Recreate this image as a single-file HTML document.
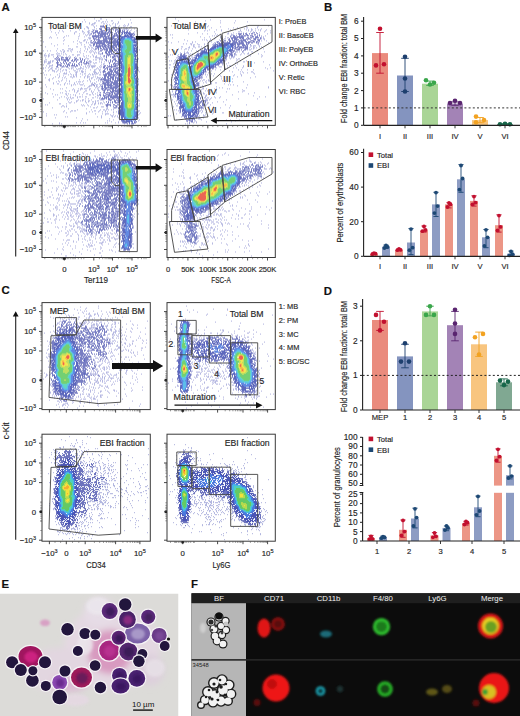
<!DOCTYPE html><html><head><meta charset="utf-8"><style>html,body{margin:0;padding:0;background:#fff;}body{width:520px;height:716px;overflow:hidden;}svg{display:block;font-family:"Liberation Sans", sans-serif;} text{stroke:currentColor;stroke-width:0.16px;}</style></head><body><svg width="520" height="716" viewBox="0 0 520 716" font-family='"Liberation Sans", sans-serif'>
<defs><filter id="b1" x="-50%" y="-50%" width="200%" height="200%"><feGaussianBlur stdDeviation="0.9"/></filter><filter id="b2" x="-50%" y="-50%" width="200%" height="200%"><feGaussianBlur stdDeviation="1.6"/></filter><filter id="b3" x="-50%" y="-50%" width="200%" height="200%"><feGaussianBlur stdDeviation="3"/></filter><filter id="b05" x="-50%" y="-50%" width="200%" height="200%"><feGaussianBlur stdDeviation="0.5"/></filter><filter id="soft" x="-2%" y="-2%" width="104%" height="104%"><feGaussianBlur stdDeviation="0.42"/></filter><clipPath id="cE"><rect x="0" y="593.5" width="178.5" height="122.5"/></clipPath><clipPath id="cF"><rect x="191.5" y="603" width="328.5" height="113"/></clipPath></defs>
<rect width="520" height="716" fill="#fff"/>
<text x="1.6" y="10.8" font-size="11.4" text-anchor="start" font-weight="bold" fill="#111" color="#111" >A</text>
<text x="324" y="10.8" font-size="11.4" text-anchor="start" font-weight="bold" fill="#111" color="#111" >B</text>
<text x="1.5" y="294.3" font-size="11.4" text-anchor="start" font-weight="bold" fill="#111" color="#111" >C</text>
<text x="323.8" y="294.8" font-size="11.4" text-anchor="start" font-weight="bold" fill="#111" color="#111" >D</text>
<text x="1.5" y="588" font-size="11.4" text-anchor="start" font-weight="bold" fill="#111" color="#111" >E</text>
<text x="191" y="588" font-size="11.4" text-anchor="start" font-weight="bold" fill="#111" color="#111" >F</text>
<g transform="translate(42,17.4)" filter="url(#soft)">
<path d="M52 1.5h1m5 0h2m18 0h1M42 2.5h1m21 0h1m23 0h1M54 3.5h1m1 0h2m11 0h2M40 4.5h1m2 0h1m16 0h2m1 0h1m1 0h1m10 0h1M8 5.5h1m38 0h1m4 0h2m5 0h1m11 0h1m4 0h1m12 0h1M47 6.5h1m2 0h3m8 0h2m1 0h1m5 0h1m2 0h1m1 0h1m10 0h1M13 7.5h1m35 0h2m14 0h1m1 0h1m5 0h1m8 0h1m3 0h1M25 8.5h1m25 0h1m2 0h1m3 0h3m7 0h1m4 0h1m3 0h1m3 0h1m1 0h1m1 0h1M44 9.5h2m6 0h1m18 0h3m2 0h1m5 0h1m5 0h2M45 10.5h2m5 0h1m18 0h2m3 0h1m2 0h1m1 0h1m2 0h1m2 0h1M42 11.5h1m3 0h1m7 0h1m23 0h1m3 0h4m6 0h1M8 12.5h1m28 0h1m12 0h3m27 0h3m1 0h1m1 0h1m2 0h1M17 13.5h1m2 0h1m7 0h1m11 0h1m5 0h2m40 0h1m5 0h1M9 14.5h1m11 0h1m11 0h2m5 0h2m3 0h2m2 0h1m42 0h1M13 15.5h1m2 0h1m15 0h1m9 0h1m3 0h2m43 0h1M32 16.5h1m4 0h1m3 0h1m4 0h1m1 0h1m43 0h1M14 17.5h1m28 0h1m1 0h1m1 0h2m46 0h1M24 18.5h1m1 0h1m10 0h1m6 0h1m2 0h1M8 19.5h1m13 0h1m13 0h1m5 0h1M7 20.5h1m1 0h1m5 0h1m5 0h1m24 0h3m45 0h1M36 21.5h1m10 0h2M22 22.5h1m19 0h2m1 0h1m50 0h2M21 23.5h1m13 0h1m5 0h2m5 0h1M1 24.5h1m29 0h1m5 0h1m6 0h1m3 0h1M38 25.5h2m4 0h1m1 0h1m1 0h1m46 0h1M9 26.5h1m11 0h1m13 0h1m59 0h1M15 27.5h1m23 0h1m2 0h1m4 0h2M12 28.5h1m13 0h1m21 0h2M3 29.5h1m30 0h2m6 0h2m2 0h1M47 30.5h1m1 0h2M15 31.5h1m10 0h3m1 0h1m7 0h1m4 0h1m1 0h1m5 0h1M20 32.5h2m7 0h2m14 0h1m3 0h1m2 0h2m43 0h1M1 33.5h1m3 0h1m2 0h1m5 0h1m3 0h1m3 0h1m2 0h2m1 0h1m9 0h1m3 0h1m5 0h1m1 0h1M19 34.5h1m1 0h2m6 0h1m5 0h1m1 0h1m6 0h1m2 0h1m1 0h1m1 0h1m1 0h1m2 0h2M15 35.5h1m5 0h1m16 0h1m9 0h1m3 0h1m1 0h1m1 0h1M3 36.5h1m3 0h1m6 0h1m1 0h2m1 0h1m3 0h1m17 0h1m10 0h1m3 0h4M2 37.5h1m3 0h1m2 0h3m3 0h1m5 0h1m2 0h1m5 0h2m3 0h3m12 0h1m7 0h1M2 38.5h3m1 0h2m7 0h4m8 0h1m7 0h1m5 0h1m2 0h1m1 0h1m4 0h1m2 0h1m6 0h1M6 39.5h1m4 0h1m7 0h2m3 0h1m1 0h1m1 0h1m4 0h1m8 0h1m5 0h1m2 0h1m1 0h2m3 0h1m2 0h2M3 40.5h1m23 0h2m5 0h1m2 0h2m5 0h1m8 0h5m1 0h1M12 41.5h1m30 0h1m1 0h2m10 0h2m1 0h1m1 0h1m33 0h1M3 42.5h2m31 0h1m14 0h1m1 0h2m2 0h1m1 0h2M2 43.5h1m5 0h1m1 0h2m33 0h1m1 0h2m17 0h1M2 44.5h3m1 0h3m1 0h1m35 0h4m7 0h1m1 0h1m2 0h1m3 0h1M2 45.5h1m3 0h3m37 0h1m1 0h1m2 0h1m1 0h2m4 0h1M5 46.5h3m39 0h1m4 0h1m8 0h2M1 47.5h1m8 0h1m37 0h1m10 0h1m1 0h1M4 48.5h1m2 0h4m32 0h1m1 0h3m1 0h5m4 0h1M7 49.5h1m13 0h2m15 0h1m2 0h1m1 0h1m3 0h1m1 0h4m4 0h1m1 0h1M1 50.5h1m1 0h1m2 0h1m2 0h2m5 0h1m2 0h1m6 0h1m2 0h3m6 0h2m4 0h1m1 0h1m3 0h1m4 0h1m2 0h1m37 0h1M1 51.5h1m6 0h2m3 0h2m3 0h1m8 0h1m1 0h1m4 0h1m1 0h3m1 0h2m12 0h1m1 0h1M7 52.5h1m2 0h1m5 0h1m1 0h1m2 0h1m1 0h2m6 0h1m3 0h1m7 0h1m4 0h1m3 0h2m3 0h2m37 0h1M3 53.5h1m2 0h1m3 0h3m2 0h1m4 0h1m3 0h1m7 0h2m3 0h1m1 0h2m11 0h1m4 0h1m38 0h1M12 54.5h1m1 0h1m3 0h1m8 0h1m6 0h2m3 0h3m1 0h1m7 0h3m4 0h1m1 0h1m36 0h1M1 55.5h1m20 0h1m1 0h1m8 0h2m5 0h1m11 0h3m1 0h1m1 0h1M17 56.5h1m3 0h4m3 0h1m5 0h1m3 0h1m3 0h2m3 0h1m2 0h1m1 0h1m1 0h2M2 57.5h1m1 0h1m3 0h1m6 0h1m10 0h1m2 0h1m1 0h1m1 0h2m5 0h1m5 0h1m1 0h1m1 0h2m1 0h1m3 0h2M17 58.5h1m3 0h1m9 0h1m2 0h1m8 0h1m1 0h1M13 59.5h1m3 0h1m5 0h1m4 0h2m1 0h2m1 0h1m3 0h1m3 0h1m2 0h3m3 0h1m1 0h1m1 0h1M3 60.5h1m7 0h1m4 0h1m3 0h1m1 0h1m7 0h1m11 0h1m2 0h1m3 0h2m4 0h4M7 61.5h1m2 0h1m13 0h1m22 0h1m1 0h1m4 0h1m2 0h1m38 0h1M6 62.5h2m12 0h1m16 0h1m9 0h1m4 0h1m3 0h1m39 0h1M7 63.5h1m8 0h1m2 0h1m4 0h1m2 0h1m13 0h1m3 0h1m2 0h1m7 0h1M14 64.5h1m2 0h1m9 0h1m6 0h1m1 0h3m1 0h1m7 0h1m5 0h1m3 0h1m37 0h1M11 65.5h1m11 0h1m8 0h1m17 0h1m1 0h1M11 66.5h1m3 0h2m5 0h1m2 0h1m1 0h1m4 0h1m2 0h1m1 0h1m3 0h1m7 0h2m1 0h2m3 0h1m38 0h1M3 67.5h1m14 0h1m3 0h1m6 0h1m1 0h1m1 0h1m4 0h3m8 0h2m3 0h2m2 0h2m36 0h1M29 68.5h1m12 0h1m4 0h3m4 0h1m3 0h1M4 69.5h1m41 0h2m6 0h2m1 0h1M24 70.5h1m14 0h1m5 0h1m7 0h1m2 0h1M8 71.5h1m9 0h1m1 0h1m10 0h1m4 0h1m1 0h3m1 0h3m2 0h2m6 0h1M11 72.5h1m18 0h1m1 0h1m5 0h1m8 0h1m4 0h1m3 0h1M23 73.5h1m3 0h1m4 0h1m2 0h2m6 0h2m4 0h1m6 0h2m38 0h1M24 74.5h1m7 0h1m2 0h1m6 0h1m6 0h1m1 0h1M3 75.5h1m14 0h1m1 0h1m13 0h1m6 0h1m8 0h1m4 0h1m1 0h1M5 76.5h1m4 0h1m12 0h2m1 0h1m10 0h1m6 0h2m4 0h1m2 0h1M13 77.5h1m1 0h1m8 0h1m3 0h1m2 0h1m1 0h1m6 0h1m6 0h2m2 0h1m3 0h1m41 0h1M25 78.5h1m7 0h1m21 0h2M11 79.5h1m7 0h1m2 0h1m5 0h1m6 0h1m1 0h2m1 0h1m2 0h2m8 0h1M17 80.5h1m6 0h1m1 0h1m1 0h1m1 0h2m3 0h1m14 0h2m3 0h1m1 0h2M1 81.5h1m23 0h1m3 0h1m13 0h1m2 0h1m10 0h1M15 82.5h1m9 0h1m1 0h1m8 0h1m3 0h2m7 0h1m8 0h4m34 0h1M34 83.5h2m2 0h1m1 0h1m2 0h1m2 0h2m5 0h1m1 0h2m39 0h2M26 84.5h1m2 0h1m4 0h1m8 0h1m2 0h1m3 0h2m1 0h1m7 0h1M7 85.5h1m19 0h2m3 0h1m11 0h1m8 0h1m2 0h1m1 0h2m2 0h1M17 86.5h2m5 0h1m25 0h1m1 0h2m2 0h1m1 0h1m1 0h1m36 0h1M3 87.5h1m1 0h1m33 0h1m1 0h1m3 0h1m3 0h1m2 0h1m10 0h1M20 88.5h2m2 0h1m15 0h1m1 0h1m3 0h1m49 0h2M19 89.5h1m2 0h1m1 0h1m23 0h1m6 0h1m3 0h3m2 0h2m9 0h1M10 90.5h1m40 0h2m1 0h1m10 0h1m8 0h1M26 91.5h1m17 0h1m19 0h2m5 0h1M35 92.5h1m13 0h1m8 0h1m2 0h2m1 0h1m1 0h1m2 0h1m1 0h1M22 93.5h1m6 0h2m1 0h2m18 0h2m3 0h1m5 0h1m32 0h2M1 94.5h1m19 0h1m6 0h1m18 0h1m2 0h1m5 0h1m3 0h1m2 0h1m1 0h1m5 0h1m2 0h1m21 0h1M24 95.5h1m19 0h1m26 0h1m26 0h1M4 96.5h1m39 0h1m8 0h1m6 0h1m2 0h4m30 0h1M12 97.5h1m1 0h1m48 0h1m4 0h1m2 0h1m24 0h1M4 98.5h1m54 0h1m9 0h2m2 0h1m1 0h1M23 99.5h1m1 0h1m29 0h1m3 0h1m10 0h1m1 0h1m2 0h1M13 100.5h1m20 0h1m24 0h1m16 0h1m19 0h1M40 101.5h1m26 0h1m9 0h1M45 102.5h1m25 0h1m5 0h1m19 0h1M39 103.5h1m25 0h1m1 0h1m28 0h1M69 104.5h1m6 0h1M17 105.5h1m16 0h1m3 0h1m2 0h1m1 0h1m19 0h1m1 0h1m7 0h1m2 0h1m3 0h1M10 106.5h1m6 0h1m1 0h1m62 0h1" stroke="#5860bc" stroke-opacity="0.5" stroke-width="1"/><path d="M61 8.5h1M58 9.5h5m1 0h1M62 10.5h1m2 0h3m5 0h2M57 11.5h3m3 0h2m2 0h1m2 0h1m5 0h2M58 12.5h2m4 0h5m2 0h1m1 0h3m2 0h1M51 13.5h1m1 0h3m3 0h4m1 0h1m2 0h1m5 0h1m2 0h3m1 0h1m1 0h1m2 0h1M50 14.5h1m2 0h3m1 0h4m2 0h2m1 0h4m3 0h1m1 0h4m1 0h3m1 0h2m1 0h1M51 15.5h3m1 0h3m1 0h5m1 0h2m1 0h3m3 0h1m1 0h1m2 0h2m5 0h3M49 16.5h1m1 0h1m4 0h10m1 0h1m4 0h3m1 0h1m11 0h4M53 17.5h1m2 0h1m1 0h6m1 0h1m1 0h1m1 0h2m1 0h1m1 0h2m1 0h1m12 0h1m1 0h1M50 18.5h11m1 0h2m2 0h2m1 0h1m1 0h7m13 0h1M50 19.5h7m1 0h9m3 0h3m2 0h2M51 20.5h1m2 0h1m1 0h3m2 0h1m1 0h2m1 0h6m3 0h2M51 21.5h3m2 0h1m4 0h14m18 0h2M52 22.5h1m1 0h4m3 0h4m2 0h4m1 0h2M49 23.5h1m2 0h1m3 0h10m1 0h1m1 0h1m1 0h4m19 0h1M51 24.5h1m1 0h1m1 0h5m1 0h14m19 0h1M49 25.5h2m1 0h11m1 0h11m19 0h1M51 26.5h2m1 0h9m3 0h4m1 0h3m20 0h1M51 27.5h2m1 0h1m2 0h1m2 0h4m1 0h2m2 0h1m1 0h4m19 0h1M51 28.5h1m2 0h7m1 0h3m1 0h9m19 0h1M53 29.5h6m1 0h4m1 0h2m1 0h4m1 0h2m20 0h1M55 30.5h2m1 0h1m2 0h1m1 0h2m1 0h3m1 0h3m1 0h1m20 0h1M53 31.5h2m1 0h1m1 0h2m1 0h2m1 0h2m1 0h3m1 0h2m2 0h1M56 32.5h1m3 0h1m1 0h4m1 0h4m1 0h3m20 0h1M58 33.5h2m4 0h2m1 0h4m1 0h3M63 34.5h2m1 0h4m5 0h1m19 0h1M60 35.5h1m2 0h2m1 0h2m1 0h1m1 0h1m2 0h2M60 36.5h1m3 0h2m1 0h1m1 0h2m3 0h2M65 37.5h4m2 0h3m2 0h1m18 0h1M62 38.5h1m1 0h1m1 0h1m5 0h1m1 0h2M15 39.5h1m48 0h1m3 0h1m1 0h4m1 0h2M14 40.5h1m1 0h1m2 0h3m1 0h3m6 0h1m31 0h1m5 0h2m4 0h1m18 0h1M13 41.5h1m1 0h1m1 0h1m1 0h1m4 0h2m1 0h1m5 0h2m3 0h1m1 0h1m31 0h2m2 0h1m18 0h1M14 42.5h1m1 0h2m1 0h8m3 0h1m1 0h2m1 0h1m2 0h1m1 0h1m1 0h1m20 0h2m3 0h1m2 0h3m2 0h1m18 0h1M15 43.5h1m1 0h1m4 0h2m1 0h2m2 0h2m1 0h1m1 0h1m4 0h1m2 0h1m21 0h1m3 0h1m1 0h1m2 0h2m1 0h1m18 0h1M15 44.5h1m5 0h1m1 0h1m7 0h1m2 0h1m3 0h2m2 0h1m1 0h1m23 0h1m1 0h1m2 0h1m1 0h2m18 0h1M14 45.5h3m1 0h1m2 0h1m2 0h1m2 0h2m8 0h1m1 0h1m1 0h1m2 0h2m21 0h1m4 0h1m3 0h1M15 46.5h1m3 0h1m2 0h1m1 0h1m1 0h1m3 0h1m1 0h1m3 0h1m5 0h3m1 0h1m20 0h1m3 0h6M15 47.5h4m6 0h3m2 0h1m1 0h1m1 0h1m2 0h1m1 0h1m29 0h1m1 0h1m1 0h1m2 0h1M15 48.5h1m2 0h2m1 0h1m1 0h1m1 0h1m1 0h1m1 0h4m1 0h2m26 0h2m1 0h1m1 0h1m1 0h1m2 0h4M14 49.5h2m4 0h1m3 0h2m7 0h1m27 0h2m3 0h8m21 0h1M61 50.5h2m1 0h2m3 0h1m4 0h3m18 0h1M63 51.5h1m1 0h1m1 0h2m2 0h5m19 0h1M62 52.5h1m2 0h1m1 0h3m1 0h1m1 0h1m2 0h1m18 0h1M61 53.5h2m5 0h3m1 0h2m1 0h2M61 54.5h3m2 0h5m1 0h4M61 55.5h1m3 0h3m1 0h1m1 0h1m1 0h4M63 56.5h7m1 0h1m2 0h3M61 57.5h4m1 0h8m1 0h2M62 58.5h3m1 0h3m2 0h2m1 0h1m1 0h1M62 59.5h2m1 0h2m1 0h4m1 0h1m2 0h1m18 0h1M60 60.5h1m1 0h2m1 0h2m1 0h4m1 0h4m18 0h1M59 61.5h1m1 0h3m2 0h3m1 0h2m1 0h1m1 0h2M58 62.5h9m1 0h1m1 0h2m1 0h1m1 0h2M62 63.5h7m3 0h5m18 0h1M60 64.5h2m2 0h3m1 0h3m1 0h4m19 0h1M61 65.5h7m1 0h7M60 66.5h4m1 0h2m1 0h2m1 0h6M51 67.5h1m10 0h8m1 0h5m19 0h1M52 68.5h1m7 0h1m1 0h2m1 0h6m2 0h4m18 0h1M59 69.5h2m1 0h2m2 0h1m1 0h2m1 0h6m18 0h1M60 70.5h1m1 0h14m19 0h1M59 71.5h3m1 0h2m3 0h4m1 0h2m1 0h1m18 0h1M60 72.5h1m1 0h2m1 0h3m2 0h2m1 0h1m1 0h3m17 0h1M61 73.5h2m2 0h1m2 0h1m1 0h8m17 0h1M62 74.5h1m5 0h4m1 0h5m17 0h1M58 75.5h1m2 0h2m1 0h4m1 0h2m1 0h1m2 0h3m17 0h1M63 76.5h1m3 0h2m1 0h1m1 0h5m18 0h1M57 77.5h2m2 0h1m2 0h4m1 0h2m2 0h3m19 0h1M58 78.5h1m2 0h3m2 0h4m1 0h5m19 0h1M62 79.5h1m1 0h3m1 0h9m18 0h1M60 80.5h1m1 0h3m1 0h1m1 0h9M59 81.5h4m1 0h1m1 0h2m2 0h2m3 0h2M66 82.5h4m2 0h1m1 0h1m1 0h2M68 83.5h1m3 0h2m1 0h3M64 84.5h1m1 0h1m3 0h1m1 0h2m2 0h2M66 85.5h1m1 0h1m1 0h1m2 0h5M65 86.5h1m29 0h1M64 87.5h5m2 0h2m2 0h2m18 0h1M64 88.5h2m2 0h1m4 0h2m20 0h1M71 89.5h1m2 0h1m2 0h1M72 90.5h2m2 0h2m17 0h1M76 91.5h2M76 93.5h2M76 94.5h1M76 95.5h2M76 96.5h2M77 98.5h1M77 99.5h1m17 0h1M95 100.5h1M79 101.5h1M79 102.5h1M79 103.5h2M80 104.5h3m11 0h1M81 105.5h4m5 0h1m1 0h2M85 106.5h1m1 0h1m1 0h3" stroke="#323aa4" stroke-opacity="0.82" stroke-width="1"/><path d="M82 15.5h4M80 16.5h1m1 0h1m1 0h1m1 0h2M79 17.5h1m3 0h1m1 0h1m1 0h3M78 18.5h1m3 0h5m1 0h2M78 19.5h7m1 0h5M77 20.5h1m1 0h2m8 0h4M76 21.5h4m12 0h1M75 22.5h4m12 0h3M75 23.5h1m1 0h2m13 0h1M75 24.5h3m14 0h2M75 25.5h2m1 0h1m13 0h2M75 26.5h4M75 27.5h4m13 0h2M76 28.5h3m13 0h2M76 29.5h3m14 0h1M77 30.5h2m13 0h1m1 0h1M76 31.5h2m14 0h3M76 32.5h3m13 0h1m1 0h1M76 33.5h2m14 0h3M77 34.5h1m15 0h2M76 35.5h3m15 0h1M76 36.5h2m15 0h1M77 37.5h2m14 0h1M78 38.5h2m13 0h2M77 39.5h3m13 0h1M79 40.5h1m13 0h1M78 41.5h2m13 0h1M77 42.5h2m14 0h2M77 43.5h2M77 44.5h3m13 0h2M77 45.5h3M77 46.5h3m13 0h2M77 47.5h1m1 0h1m13 0h2M77 48.5h3m13 0h2M77 49.5h1m1 0h1m13 0h2M77 50.5h3m13 0h2M77 51.5h1m1 0h1m13 0h2M77 52.5h2m15 0h1M77 53.5h1m1 0h1m13 0h2M79 54.5h1m13 0h2M93 55.5h2M77 56.5h3m13 0h2M77 57.5h3m14 0h1M77 58.5h3m13 0h2M78 59.5h2m13 0h1M79 60.5h1m14 0h1M77 61.5h3m13 0h2M77 62.5h3m14 0h1M77 63.5h3m14 0h1M79 64.5h1m14 0h1M77 65.5h1m1 0h1m14 0h1M78 66.5h2m14 0h1M77 67.5h3m14 0h1M77 68.5h1m1 0h1m14 0h1M79 69.5h1m14 0h1M79 70.5h1m14 0h1M77 71.5h3m14 0h1M78 72.5h2m14 0h1M78 73.5h2m14 0h1M78 74.5h2m14 0h1M79 75.5h1m14 0h1M78 76.5h1M77 77.5h3m14 0h1M77 78.5h1M77 79.5h3m14 0h1M77 80.5h3m14 0h1M79 81.5h1m14 0h2M79 82.5h1m14 0h1M78 83.5h1m1 0h1m14 0h1M80 84.5h1m13 0h2M79 85.5h2m14 0h1M79 86.5h2m13 0h1M79 87.5h2m13 0h1M78 88.5h3M78 89.5h3m13 0h2M78 90.5h3m13 0h1M79 91.5h2m13 0h1M78 92.5h3m13 0h2M78 93.5h3M78 94.5h4m12 0h2M78 95.5h4m12 0h2M78 96.5h4m12 0h2M78 97.5h4m12 0h2M79 98.5h3m11 0h3M79 99.5h3m11 0h2M79 100.5h2m1 0h1m9 0h1m1 0h1M80 101.5h1m1 0h1m9 0h3M80 102.5h2m1 0h2m6 0h2M81 103.5h2m1 0h6m3 0h1M83 104.5h5m1 0h2m1 0h1M87 105.5h1" stroke="#2a38a8" stroke-width="1"/><path d="M85 19.5h1M81 20.5h2m2 0h4M80 21.5h3m5 0h2M79 22.5h3m7 0h2M79 23.5h2m9 0h2M79 24.5h2m10 0h1M79 25.5h2m10 0h1M80 26.5h1M79 27.5h1m11 0h1M79 28.5h2m10 0h1M79 29.5h2m10 0h1M79 30.5h2m10 0h1M79 31.5h1m11 0h1M79 32.5h1m11 0h1M79 33.5h1m11 0h1M79 34.5h1m11 0h2M79 35.5h2m10 0h2M79 36.5h2m11 0h1M79 37.5h2m11 0h1M80 38.5h1m11 0h1M80 39.5h1m11 0h1M80 40.5h1M80 41.5h1m11 0h1M79 42.5h2m11 0h1M80 43.5h1m11 0h1M80 44.5h1m11 0h1M92 45.5h1M80 46.5h1m11 0h1M80 47.5h1m11 0h1M80 48.5h2m10 0h1M80 49.5h2m10 0h1M80 50.5h2m10 0h1M80 51.5h2m10 0h1M80 52.5h2m10 0h1M80 53.5h2M80 54.5h2m10 0h1M80 55.5h2M80 56.5h1m11 0h1M80 57.5h1m11 0h1M80 58.5h1m11 0h1M92 59.5h1M80 60.5h1m11 0h1M80 61.5h1m11 0h1M80 62.5h1m12 0h1M80 63.5h1m12 0h1M80 64.5h1m12 0h1M80 65.5h1m12 0h1M80 66.5h1m12 0h1M80 68.5h1m12 0h1M80 69.5h1m12 0h1M80 70.5h1m12 0h1M80 71.5h1m12 0h1M80 72.5h1M80 73.5h1m12 0h1M80 74.5h1m12 0h1M80 75.5h1m12 0h1M80 76.5h1m12 0h1M80 77.5h1m12 0h1M80 78.5h1m12 0h1M80 79.5h1m12 0h1M80 80.5h1m12 0h1M80 81.5h1m12 0h1M80 82.5h1m12 0h1M81 83.5h1m11 0h1M81 84.5h1m11 0h1M81 85.5h1m11 0h1M81 86.5h1M81 87.5h1m11 0h1M81 88.5h1m11 0h1M81 89.5h1m11 0h1M81 90.5h1m11 0h1M81 91.5h2m9 0h2M81 92.5h2m9 0h2M81 93.5h2m9 0h1M82 94.5h1m9 0h2M82 95.5h1m9 0h2M82 96.5h1m9 0h2M82 97.5h1m9 0h2M82 98.5h1m9 0h1M82 99.5h2m7 0h2M83 100.5h1m7 0h1M83 101.5h3m4 0h2M85 102.5h3m1 0h2" stroke="#2d62d8" stroke-width="1"/><path d="M83 21.5h5M82 22.5h1m4 0h2M81 23.5h1m7 0h1M81 24.5h1m8 0h1M81 25.5h1m8 0h1M81 26.5h1m8 0h1M81 27.5h2m7 0h1M81 28.5h2m7 0h1M81 29.5h2m7 0h1M81 30.5h2m7 0h1M80 31.5h2m8 0h1M80 32.5h2m8 0h1M80 33.5h1m9 0h1M80 34.5h2m8 0h1M81 35.5h1m8 0h1M81 36.5h2m8 0h1M81 37.5h2m8 0h1M81 38.5h1M81 39.5h1M81 40.5h1M81 41.5h1M81 42.5h1M81 43.5h1M81 44.5h1m9 0h1M81 45.5h1m9 0h1M81 46.5h1m9 0h1M81 47.5h1m9 0h1M91 48.5h1M82 49.5h1m8 0h1M82 50.5h1m8 0h1M82 51.5h1m8 0h1M91 52.5h1M91 53.5h1M91 54.5h1M91 55.5h1M81 56.5h1m9 0h1M81 57.5h1m9 0h1M81 58.5h1m9 0h1M81 59.5h1m9 0h1M81 60.5h1m9 0h1M81 61.5h1M81 62.5h1m10 0h1M81 63.5h1m10 0h1M81 64.5h1m10 0h1M81 65.5h1m10 0h1M81 66.5h1m10 0h1M81 67.5h1m10 0h1M81 68.5h1m10 0h1M81 69.5h1m10 0h1M81 70.5h1M81 71.5h1M81 72.5h1m10 0h1M81 73.5h1m10 0h1M81 74.5h1M81 75.5h1M81 76.5h1M81 77.5h1M81 78.5h1M81 79.5h1M81 80.5h1m10 0h1M81 81.5h1M81 82.5h1M92 83.5h1M82 84.5h1m9 0h1M82 85.5h1m9 0h1M82 86.5h1m9 0h1M82 87.5h1m9 0h1M82 88.5h1m9 0h1M82 89.5h1m9 0h1M82 90.5h1m9 0h1M83 91.5h1M83 92.5h1m7 0h1M83 93.5h1m7 0h1M83 94.5h1m7 0h1M83 95.5h1m7 0h1M83 96.5h1m7 0h1M83 97.5h1m7 0h1M83 98.5h1m6 0h2M84 99.5h1m5 0h1M84 100.5h2m4 0h1M86 101.5h4" stroke="#28a8e4" stroke-width="1"/><path d="M83 22.5h4M82 23.5h1m4 0h2M82 24.5h1m6 0h1M82 25.5h1m6 0h1M82 26.5h2m5 0h1M83 27.5h1m5 0h1M83 28.5h2m4 0h1M83 29.5h2m4 0h1M83 30.5h2m4 0h1M82 31.5h3m4 0h1M82 32.5h2m5 0h1M81 33.5h2m5 0h2M82 34.5h1m4 0h3M82 35.5h2m3 0h3M83 36.5h1m6 0h1M83 37.5h1M82 38.5h1m8 0h1M82 39.5h1m8 0h1M82 40.5h1m8 0h1M82 41.5h1m8 0h1M82 42.5h1m8 0h1M82 43.5h1m8 0h1M82 44.5h1M82 45.5h1M82 46.5h1m7 0h1M82 47.5h1m7 0h1M82 48.5h1m7 0h1M82 52.5h1M82 53.5h1M82 54.5h1M82 55.5h1M82 56.5h1m7 0h1M82 57.5h1m7 0h1M90 58.5h1M90 59.5h1M91 61.5h1M91 62.5h1M91 66.5h1M91 67.5h1M91 68.5h1M92 70.5h1M82 71.5h1m9 0h1M82 72.5h1M82 73.5h1M92 74.5h1M92 75.5h1M82 76.5h1m9 0h1M82 77.5h1m9 0h1M82 78.5h1m9 0h1M82 79.5h1m9 0h1M82 80.5h1M82 81.5h1m9 0h1M82 82.5h1m9 0h1M82 83.5h1M91 85.5h1M91 86.5h1M83 90.5h1M84 91.5h1m6 0h1M84 92.5h1m5 0h1M84 93.5h1m4 0h2M84 94.5h1m4 0h2M84 95.5h1m4 0h2M84 96.5h1m4 0h2M84 97.5h1m4 0h2M84 98.5h1M85 99.5h1m3 0h1M86 100.5h4" stroke="#30c8b0" stroke-width="1"/><path d="M83 23.5h4M83 24.5h6M83 25.5h6M84 26.5h5M84 27.5h5M85 28.5h4M85 29.5h4M85 30.5h4M85 31.5h4M84 32.5h5M83 33.5h5M83 34.5h4M84 35.5h3M84 36.5h6M84 37.5h7M83 38.5h3m3 0h2M83 39.5h3m3 0h2M83 40.5h2m4 0h2M83 41.5h2m4 0h2M83 42.5h2m4 0h2M83 43.5h2m4 0h2M83 44.5h2m4 0h2M83 45.5h2m4 0h2M83 46.5h2m4 0h1M83 47.5h2m4 0h1M83 48.5h2m4 0h1M83 49.5h2m4 0h2M83 50.5h2m4 0h2M83 51.5h2m4 0h2M83 52.5h2m4 0h2M83 53.5h2m4 0h2M83 54.5h2m4 0h2M83 55.5h2m4 0h2M83 56.5h1m5 0h1M83 57.5h1m5 0h1M82 58.5h2m5 0h1M82 59.5h2m5 0h1M82 60.5h2m5 0h2M82 61.5h2m5 0h2M82 62.5h2m6 0h1M82 63.5h2m6 0h2M82 64.5h1m7 0h2M82 65.5h1m7 0h2M82 66.5h1m6 0h2M82 67.5h2m5 0h2M82 68.5h2m5 0h2M82 69.5h3m5 0h2M82 70.5h2m6 0h2M83 71.5h1m7 0h1M83 72.5h1m7 0h1M83 73.5h1m6 0h2M82 74.5h2m6 0h2M82 75.5h2m6 0h2M83 76.5h2m5 0h2M83 77.5h2m6 0h1M83 78.5h2m5 0h2M83 79.5h2m5 0h2M83 80.5h3m4 0h2M83 81.5h3m4 0h2M83 82.5h3m4 0h2M83 83.5h3m4 0h2M83 84.5h3m3 0h3M83 85.5h2m5 0h1M83 86.5h2m5 0h1M83 87.5h2m5 0h2M83 88.5h2m5 0h2M83 89.5h2m5 0h2M84 90.5h2m3 0h3M85 91.5h6M85 92.5h5M85 93.5h4M85 94.5h4M85 95.5h4M85 96.5h4M85 97.5h4M85 98.5h5M86 99.5h3" stroke="#48c048" stroke-width="1"/><path d="M86 38.5h3M86 39.5h3M85 40.5h2m1 0h1M85 41.5h1m2 0h1M85 42.5h1m2 0h1M85 43.5h1m2 0h1M85 44.5h1m2 0h1M85 45.5h1m2 0h1M85 46.5h1m2 0h1M85 47.5h1m2 0h1M85 48.5h1m2 0h1M85 49.5h1M85 50.5h1M85 51.5h1M85 52.5h1M85 53.5h1M85 54.5h1M84 56.5h1M84 57.5h1M84 58.5h1M84 59.5h1m3 0h1M84 60.5h1m3 0h1M84 61.5h1M84 62.5h1m4 0h1M84 63.5h1m4 0h1M83 64.5h1m5 0h1M83 65.5h1m5 0h1M83 66.5h2m3 0h1M84 67.5h5M84 68.5h5M85 69.5h5M84 70.5h2m3 0h1M84 71.5h1m5 0h1M84 72.5h1m5 0h1M84 73.5h1m4 0h1M84 74.5h2m3 0h1M84 75.5h2m2 0h2M85 76.5h1m2 0h2M85 77.5h2m2 0h2M85 78.5h2m2 0h1M85 79.5h3m1 0h1M86 80.5h4M86 81.5h4M86 82.5h4M86 83.5h4M86 84.5h3M85 85.5h5M85 86.5h2m1 0h2M85 87.5h1m3 0h1M85 88.5h1m3 0h1M85 89.5h1m3 0h1M86 90.5h3" stroke="#a8d430" stroke-width="1"/><path d="M87 40.5h1M86 41.5h2M86 42.5h2M86 43.5h2M86 44.5h2M86 45.5h2M86 46.5h2M88 49.5h1M88 50.5h1M85 55.5h1M85 56.5h1M88 57.5h1M88 58.5h1M85 59.5h1M85 60.5h1M85 61.5h1m2 0h1M85 62.5h1M85 63.5h1M84 64.5h2M84 65.5h2m2 0h1M85 66.5h3M86 70.5h3M85 71.5h1m3 0h1M85 72.5h1m3 0h1M85 73.5h1m2 0h1M86 74.5h3M86 75.5h2M86 76.5h2M87 77.5h2M87 78.5h2M88 79.5h1M87 86.5h1M86 87.5h3M86 88.5h1m1 0h1M86 89.5h3" stroke="#f0dc18" stroke-width="1"/><path d="M86 47.5h2M86 48.5h2M86 49.5h2M86 50.5h1M88 51.5h1M88 52.5h1M88 53.5h1M88 54.5h1M88 55.5h1M88 56.5h1M85 57.5h1M85 58.5h1M87 59.5h1M87 60.5h1M88 62.5h1M88 64.5h1M86 65.5h1M86 71.5h1m1 0h1M86 72.5h1m1 0h1M86 73.5h2M87 88.5h1" stroke="#f4a012" stroke-width="1"/><path d="M87 50.5h1M86 51.5h2M86 52.5h2M86 53.5h2M86 54.5h2M86 55.5h2M86 56.5h2M86 57.5h2M86 58.5h2M86 59.5h1M86 60.5h1M86 61.5h2M86 62.5h2M86 63.5h3M86 64.5h2M87 65.5h1M87 71.5h1M87 72.5h1" stroke="#e43018" stroke-width="1"/>
</g>
<g transform="translate(167,17.4)" filter="url(#soft)">
<path d="M8 1.5h1M43 2.5h1m53 0h1M11 3.5h1m26 0h1m14 0h1m14 0h1M28 4.5h1m51 0h1M53 5.5h1m13 0h1M18 6.5h1m20 0h1M4 8.5h1m36 0h1m37 0h1m11 0h1m9 0h1M40 9.5h1m12 0h1m36 0h1M44 10.5h1m21 0h1m3 0h1m8 0h2m9 0h1M61 11.5h1m15 0h1m6 0h1m3 0h1m5 0h1M21 12.5h1m16 0h1m3 0h1m6 0h1m4 0h1m8 0h1m4 0h1m4 0h1m5 0h1m1 0h1m2 0h2m5 0h1m1 0h1m5 0h1M37 13.5h1m2 0h1m13 0h1m18 0h1m7 0h1m2 0h1m3 0h1m4 0h1m4 0h1m4 0h1M47 14.5h1m23 0h2m1 0h1m8 0h1m2 0h1m10 0h1M30 15.5h1m30 0h1m4 0h1m9 0h1m2 0h1m5 0h2m5 0h1m10 0h1M21 16.5h1m13 0h1m4 0h1m7 0h1m11 0h2m2 0h1m4 0h1m30 0h1M3 17.5h1m1 0h1m44 0h1m13 0h3M45 18.5h1m1 0h1m1 0h1m4 0h1m8 0h2m29 0h1m3 0h1M33 19.5h1m8 0h1m10 0h2m3 0h1m35 0h1m1 0h1M5 20.5h1m31 0h1m10 0h1m4 0h1m6 0h2m32 0h1m1 0h1M43 21.5h1m3 0h1m7 0h1m1 0h2m35 0h1m1 0h2M17 22.5h1m17 0h1m1 0h1m1 0h1m3 0h1m8 0h1m3 0h1m40 0h1M20 23.5h1m19 0h1m1 0h1m51 0h1m4 0h1M1 24.5h1m9 0h1m13 0h1m2 0h1m15 0h1m4 0h1m42 0h1M4 25.5h1m20 0h1m21 0h2m52 0h1M16 26.5h1m2 0h1m3 0h2m5 0h1m6 0h1m2 0h2m4 0h1m43 0h2m1 0h1M24 27.5h1m1 0h2m3 0h2m4 0h1m7 0h2m44 0h1M26 28.5h1m13 0h1m43 0h1m1 0h3m3 0h1M14 29.5h2m6 0h1m3 0h2m3 0h2m1 0h1m2 0h2m1 0h1m42 0h1m2 0h1m5 0h1m1 0h1M21 30.5h2m5 0h1m8 0h1m44 0h1m3 0h2m1 0h1M11 31.5h1m2 0h1m3 0h2m5 0h1m7 0h1m50 0h1m1 0h1m9 0h1M2 32.5h1m14 0h1m3 0h1m13 0h1m44 0h1m1 0h2M7 33.5h1m16 0h1m4 0h1m1 0h1m1 0h1m56 0h1M7 34.5h1m9 0h1m2 0h1m9 0h2m36 0h3m1 0h1m11 0h2m11 0h1M13 35.5h1m3 0h1m1 0h3m46 0h1m7 0h1m4 0h1M8 36.5h1m4 0h1m4 0h1m2 0h1m1 0h1m1 0h1m42 0h1m5 0h1m2 0h1m2 0h2m9 0h1M3 37.5h1m1 0h1m5 0h1m10 0h1m44 0h3m3 0h1m20 0h1M10 38.5h1m10 0h1m3 0h1m1 0h1m39 0h1m15 0h1m11 0h1M1 39.5h1m22 0h1m39 0h4m26 0h1M9 40.5h2m14 0h2m32 0h1m2 0h1m1 0h1m1 0h1M25 41.5h1m33 0h1m3 0h1m5 0h1m1 0h2M8 42.5h1m15 0h1m34 0h1m10 0h1M2 43.5h1m1 0h1m2 0h1m50 0h1m10 0h1m3 0h1m5 0h1M8 44.5h1m48 0h1m18 0h2m18 0h1M7 45.5h1m48 0h1m4 0h1m6 0h1m18 0h1M6 46.5h1m48 0h1m3 0h1m10 0h1M2 47.5h2m51 0h1m46 0h1M51 48.5h1m8 0h1m1 0h2m4 0h1m7 0h1M6 49.5h1m45 0h3m21 0h1M2 50.5h1m45 0h2m10 0h1m5 0h1m2 0h1m5 0h1m22 0h1m4 0h1M46 51.5h1m11 0h1m41 0h1M48 52.5h1m4 0h1m3 0h1m13 0h1m2 0h1m5 0h1m5 0h1M44 53.5h1m12 0h1m4 0h1m43 0h1M39 54.5h1m25 0h1m7 0h1m1 0h1m8 0h2M6 55.5h1m34 0h1m34 0h1m3 0h1m5 0h1M6 56.5h1m31 0h1m5 0h1m2 0h1m25 0h1m13 0h1M4 57.5h1m33 0h1m1 0h1m26 0h1m6 0h1M43 58.5h1m2 0h1m6 0h1m12 0h1m7 0h1M35 59.5h1m3 0h1m14 0h1m15 0h1m17 0h1M5 60.5h1m28 0h2m47 0h1M34 61.5h1m19 0h1m10 0h1M4 62.5h1m1 0h1m29 0h2m3 0h1M1 63.5h1m31 0h1m1 0h1m3 0h1m1 0h2m12 0h1m2 0h1M32 64.5h1m5 0h1m4 0h1m14 0h1m6 0h1m10 0h1M36 65.5h1m2 0h1m4 0h1m3 0h2m12 0h1M32 66.5h1m11 0h1m12 0h1M3 67.5h2m56 0h1m1 0h1m2 0h1m13 0h1M5 68.5h1m26 0h1m2 0h1m2 0h1m31 0h1M6 69.5h1m26 0h1m1 0h1m13 0h1m51 0h1M6 70.5h1m29 0h1m15 0h1m2 0h1m23 0h1m21 0h1M35 71.5h2m2 0h1m7 0h1m1 0h1m10 0h1m1 0h1M32 72.5h1m1 0h1m40 0h1M5 73.5h1m27 0h1m4 0h1m1 0h2m1 0h1m5 0h1m26 0h2M5 74.5h1m26 0h1m1 0h1m24 0h1m11 0h1m3 0h1M33 75.5h1m2 0h1m4 0h1m1 0h1m5 0h1m37 0h1M6 76.5h1m29 0h2m4 0h1m38 0h1M4 77.5h4m31 0h1m25 0h1M7 78.5h1m30 0h2m46 0h1M6 79.5h1m28 0h1m2 0h1m8 0h1m5 0h1m38 0h1m5 0h1M37 80.5h2m1 0h2m2 0h1m3 0h1m3 0h1M39 81.5h1m3 0h1m27 0h1m18 0h1M5 82.5h1m32 0h3m1 0h1m16 0h1M9 83.5h1m29 0h2M7 84.5h1m42 0h1m5 0h1M40 85.5h2m3 0h1M8 86.5h1m1 0h1m29 0h1M38 87.5h2m3 0h1m14 0h1m20 0h1M9 88.5h2m27 0h1m24 0h1M6 89.5h1m34 0h2m3 0h1M36 90.5h1m16 0h1m8 0h1M34 91.5h1m1 0h1M7 92.5h1m1 0h1m24 0h1m4 0h1m6 0h1M11 93.5h2m19 0h2m1 0h1m10 0h1m33 0h1M32 94.5h1m2 0h1m6 0h1m3 0h1m22 0h1M12 95.5h2m20 0h1m3 0h1m7 0h1m8 0h2M9 96.5h1m35 0h1M36 97.5h1m1 0h1m25 0h1M1 98.5h1m1 0h1m28 0h1m3 0h2M14 99.5h1m15 0h2m42 0h1m13 0h1M32 100.5h1m3 0h1m32 0h1M31 101.5h3M9 102.5h1m24 0h1m24 0h1m3 0h1m8 0h1M28 103.5h1m22 0h1m16 0h1M20 104.5h1m6 0h1m1 0h1m9 0h1m24 0h1M26 105.5h1m2 0h1m61 0h1M18 106.5h1m1 0h1m1 0h1m36 0h1" stroke="#5860bc" stroke-opacity="0.5" stroke-width="1"/><path d="M87 15.5h1m1 0h1M71 16.5h4m1 0h1m1 0h2m2 0h1m1 0h2m4 0h1M72 17.5h2m2 0h1m2 0h2m6 0h2m3 0h1M66 18.5h2m1 0h1m2 0h1m1 0h2m1 0h2m1 0h2m1 0h3m4 0h1m1 0h1M63 19.5h1m2 0h3m1 0h7m8 0h2m1 0h3M64 20.5h7m1 0h5m3 0h2m1 0h2m3 0h4m1 0h1M62 21.5h1m1 0h2m1 0h3m3 0h1m1 0h2m2 0h1m1 0h2m3 0h3m4 0h1M61 22.5h2m2 0h1m1 0h5m2 0h1m1 0h3m1 0h1m2 0h1m3 0h2m1 0h3M53 23.5h1m1 0h1m1 0h2m3 0h2m1 0h3m1 0h1m2 0h7m5 0h3m4 0h2M50 24.5h2m3 0h2m3 0h1m1 0h2m2 0h4m1 0h2m1 0h2m2 0h2m1 0h3m2 0h2m1 0h2M50 25.5h1m1 0h1m1 0h7m4 0h6m1 0h5m2 0h4m1 0h2m3 0h1m1 0h1M48 26.5h1m2 0h1m14 0h3m1 0h7m2 0h1m1 0h1M47 27.5h2m17 0h3m1 0h3m2 0h3m1 0h2m2 0h1M46 28.5h2m18 0h1m1 0h1m2 0h1m3 0h4m1 0h1M45 29.5h2m20 0h2m1 0h5m1 0h1m1 0h3M44 30.5h1m21 0h1m1 0h3m1 0h9M37 31.5h2m1 0h2m25 0h2m2 0h2m5 0h3M37 32.5h3m1 0h1m23 0h1m3 0h4m1 0h1m2 0h2M34 33.5h3m27 0h4m8 0h1M34 34.5h1m28 0h2m1 0h1m8 0h1M33 35.5h1m30 0h2M14 36.5h1m2 0h1m12 0h3m29 0h3m2 0h1M13 37.5h2m1 0h2m11 0h2m32 0h3M13 38.5h7m8 0h2m29 0h2m1 0h1m1 0h2M11 39.5h4m3 0h1m39 0h2M12 40.5h1m9 0h1m4 0h1m29 0h2M11 41.5h2m8 0h1m1 0h1m34 0h1M10 42.5h1m11 0h1m2 0h2m29 0h1M9 43.5h2m13 0h2m30 0h2M10 44.5h1m12 0h2M9 45.5h1m14 0h1m28 0h3M9 46.5h1m41 0h2M8 47.5h1m41 0h2M48 48.5h1M7 49.5h1m39 0h2M45 50.5h2M40 51.5h4m1 0h1M7 52.5h1m32 0h2M38 53.5h1M7 54.5h1m29 0h2M8 55.5h1M8 56.5h1m27 0h1M7 57.5h1m27 0h1M8 58.5h1M8 59.5h1m25 0h1M7 60.5h2m23 0h2M7 61.5h2m22 0h2M8 62.5h1m21 0h1M29 63.5h2M7 64.5h1M30 65.5h2M8 66.5h1m21 0h2M7 67.5h2m21 0h2M30 68.5h2M7 69.5h2M8 70.5h1m22 0h1M7 71.5h2m21 0h2M8 72.5h1m22 0h1M9 73.5h1m20 0h2M8 74.5h1m21 0h2M8 75.5h1m23 0h1M8 76.5h2m21 0h1m1 0h1M8 77.5h1m22 0h1M32 78.5h1M8 79.5h1M10 80.5h1m22 0h1m1 0h1M10 81.5h1m22 0h1M10 82.5h2M32 83.5h1m1 0h5M11 84.5h1m19 0h1m1 0h2m1 0h1m1 0h1M11 85.5h2m18 0h3m1 0h1m2 0h1M12 86.5h1m18 0h2m2 0h2M31 87.5h2m2 0h3M31 88.5h1m1 0h1m1 0h2M12 89.5h1m18 0h2m1 0h1M12 90.5h2m17 0h5M12 91.5h2m16 0h3M13 92.5h1m16 0h2M13 93.5h1m17 0h1M13 94.5h1m16 0h2M31 95.5h1M15 96.5h1m13 0h3M15 97.5h2m11 0h1m1 0h1M15 98.5h4m9 0h3M17 99.5h3m7 0h3M17 100.5h1m1 0h1m9 0h1M18 101.5h3m5 0h2M21 102.5h2m2 0h1m1 0h1M19 103.5h2m1 0h4M24 104.5h2M22 105.5h1" stroke="#323aa4" stroke-opacity="0.82" stroke-width="1"/><path d="M61 25.5h2M52 26.5h4m1 0h9M49 27.5h2m1 0h9m2 0h3M48 28.5h1m1 0h10m4 0h2M47 29.5h4m6 0h1m6 0h2M45 30.5h4m16 0h1M43 31.5h4m16 0h1m1 0h1M42 32.5h3m17 0h3M37 33.5h1m1 0h1m1 0h2m18 0h3M35 34.5h5m20 0h1M34 35.5h7m19 0h2M33 36.5h3m22 0h3M31 37.5h1m1 0h2m22 0h1m1 0h1M30 38.5h4m22 0h3M15 39.5h3m11 0h1m1 0h1m24 0h1M13 40.5h2m1 0h4m8 0h2m26 0h1M13 41.5h7m8 0h2m25 0h2M12 42.5h5m1 0h1m1 0h2m5 0h2m24 0h3M13 43.5h3m1 0h1m1 0h1m1 0h2m3 0h3m23 0h4M12 44.5h1m4 0h5m3 0h1m1 0h1m22 0h2m1 0h2M10 45.5h3m7 0h4m1 0h2m22 0h1m1 0h2M10 46.5h2m10 0h4m22 0h1m1 0h1M10 47.5h2m34 0h4M9 48.5h3m10 0h1m1 0h1m19 0h3M9 49.5h1m13 0h2m14 0h8M8 50.5h3m12 0h1m14 0h3m1 0h3M10 51.5h1m12 0h1m13 0h2M8 52.5h3m12 0h1m12 0h3M9 53.5h1m13 0h1m12 0h1M9 54.5h2m25 0h1M9 55.5h2m24 0h2M10 56.5h1m23 0h1M10 57.5h1m22 0h2M10 58.5h1m21 0h2M9 59.5h1m21 0h2M9 60.5h2m17 0h3M9 61.5h2m15 0h3M10 62.5h1m16 0h3M8 63.5h2m16 0h2M26 64.5h1m1 0h2M8 65.5h2m16 0h2M9 66.5h2m15 0h2m1 0h1M27 67.5h2M10 68.5h1m16 0h3M9 69.5h1m17 0h2M10 70.5h1m16 0h2M10 71.5h1m16 0h1m1 0h1M9 72.5h3m16 0h2M11 73.5h2m15 0h2M11 74.5h2m15 0h2M11 75.5h2m15 0h2M10 76.5h2m17 0h2M10 77.5h1m1 0h1m16 0h2M10 78.5h2m17 0h1m1 0h1M10 79.5h3m16 0h3M11 80.5h1m18 0h2M11 81.5h2m16 0h3M13 82.5h1m15 0h3M12 83.5h2m16 0h2M13 84.5h2m13 0h3M13 85.5h2m13 0h3M13 86.5h2m13 0h2M13 87.5h1m1 0h1m12 0h3M13 88.5h4m11 0h2M13 89.5h4m10 0h3M14 90.5h3m9 0h4M16 91.5h1m10 0h1m1 0h1M15 92.5h3m7 0h5M15 93.5h4m6 0h2m1 0h2M15 94.5h1m1 0h9m1 0h3M16 95.5h4m1 0h3m1 0h5M16 96.5h2m1 0h1m1 0h3m2 0h2M18 97.5h1m1 0h4m1 0h3M19 98.5h1m1 0h6M21 99.5h1m1 0h3M21 100.5h3m2 0h1M22 101.5h4" stroke="#2a38a8" stroke-width="1"/><path d="M61 27.5h1M60 28.5h4M51 29.5h6m1 0h1m1 0h4M50 30.5h1m5 0h8M47 31.5h2m10 0h3M45 32.5h2m13 0h1M43 33.5h2m14 0h2M43 34.5h1m14 0h2M41 35.5h2m14 0h2M36 36.5h6m14 0h2M35 37.5h1m20 0h1M34 38.5h1m20 0h1M32 39.5h3m19 0h2M31 40.5h2m21 0h1M30 41.5h2m20 0h2M30 42.5h1m20 0h2M29 43.5h1m20 0h2M14 44.5h3m11 0h1m20 0h1M13 45.5h7m7 0h1m20 0h1M13 46.5h2m4 0h3m4 0h1m19 0h2M13 47.5h1m12 0h1m16 0h3M12 48.5h1m12 0h1m13 0h5M11 49.5h2m9 0h1m2 0h1m12 0h1M11 50.5h2m9 0h1m1 0h1m12 0h1M11 51.5h1m10 0h1m1 0h1M11 52.5h1m10 0h1m1 0h1M11 53.5h1m10 0h1m1 0h1m10 0h1M11 54.5h1m10 0h3m9 0h1M11 55.5h1m11 0h2m8 0h2M11 56.5h1m11 0h2m7 0h2M11 57.5h1m11 0h1m7 0h2M11 58.5h1m12 0h1m5 0h1M11 59.5h1m12 0h7M11 60.5h1m11 0h2m1 0h1M24 61.5h2M11 62.5h1m12 0h2M11 63.5h1m12 0h2M11 64.5h1m12 0h2M11 65.5h1m12 0h2M11 66.5h1m13 0h1M11 67.5h1m13 0h2M26 68.5h1M11 69.5h1m14 0h1M11 70.5h1m14 0h1M11 71.5h2m13 0h1M12 72.5h2m12 0h2M13 73.5h1m12 0h2M13 74.5h1m12 0h2M13 75.5h1m13 0h1M13 76.5h1m13 0h2M14 77.5h1m13 0h1M13 78.5h2m13 0h1M13 79.5h2m13 0h1M13 80.5h2m13 0h1M13 81.5h2m13 0h1M14 82.5h1m12 0h2M14 83.5h2m11 0h2M27 84.5h1M15 85.5h2m10 0h1M16 86.5h2m9 0h1M16 87.5h2m9 0h1M17 88.5h1m8 0h1M17 89.5h1M18 90.5h1m6 0h1M17 91.5h2m5 0h2M18 92.5h7M19 93.5h6" stroke="#2d62d8" stroke-width="1"/><path d="M51 30.5h1m3 0h1M49 31.5h1m6 0h3M47 32.5h1m8 0h4M45 33.5h1m11 0h2M44 34.5h1m11 0h2M56 35.5h1M55 36.5h1M36 37.5h5m14 0h1M35 38.5h1m18 0h1M35 39.5h1M33 40.5h2m18 0h1M32 41.5h2m17 0h1M31 42.5h1m18 0h1M30 43.5h1M29 44.5h1M28 45.5h1m18 0h1M15 46.5h4m8 0h1m15 0h3M14 47.5h2m4 0h1m19 0h3M13 48.5h2m11 0h1M13 49.5h1m7 0h1M13 50.5h1m7 0h1m3 0h1m10 0h1M12 51.5h1m8 0h1m3 0h1m9 0h1M12 52.5h1m8 0h1m3 0h1M12 53.5h1m8 0h1m3 0h1m8 0h1M12 54.5h1m12 0h1M12 55.5h1m9 0h1m2 0h1M12 56.5h1m9 0h1m2 0h1M12 57.5h1m12 0h2m3 0h1M23 58.5h1m1 0h5M23 59.5h1M23 61.5h1M12 62.5h1m10 0h1M12 63.5h1m10 0h1M12 64.5h1m10 0h1M12 65.5h1M12 66.5h1m11 0h1M24 67.5h1M25 68.5h1M12 69.5h1m12 0h1M12 70.5h1m12 0h1M13 71.5h1M14 72.5h1m10 0h1M14 73.5h1m10 0h1M14 74.5h1m10 0h1M14 75.5h1m10 0h2M14 76.5h1m11 0h1M26 77.5h1M15 78.5h1m11 0h1M15 79.5h1m11 0h1M15 80.5h1m11 0h1M15 81.5h1m10 0h2M15 82.5h1m10 0h1M16 83.5h1m9 0h1M16 84.5h2m8 0h1M17 85.5h2m7 0h1M18 86.5h1m7 0h1M18 87.5h1m7 0h1M18 88.5h1M18 89.5h2m5 0h1M19 90.5h1m4 0h1M19 91.5h5" stroke="#28a8e4" stroke-width="1"/><path d="M52 30.5h3M50 31.5h2m3 0h1M48 32.5h1m6 0h1M46 33.5h1m8 0h2M45 34.5h1m9 0h1M43 35.5h1m11 0h1M42 36.5h1m11 0h1M41 37.5h1m12 0h1M36 38.5h5M36 39.5h1m16 0h1M35 40.5h2m15 0h1M34 41.5h4m1 0h1M32 42.5h8M31 43.5h1m6 0h3m8 0h1M30 44.5h1m8 0h2m7 0h1M39 45.5h8M28 46.5h1m10 0h4M16 47.5h4m7 0h1m11 0h1M15 48.5h2m3 0h1m17 0h1M14 49.5h2m4 0h1m5 0h1m10 0h1M14 50.5h1m5 0h1m5 0h1M13 51.5h1m12 0h1M13 52.5h1m12 0h1m7 0h1M13 53.5h1m12 0h1M13 54.5h1m7 0h1m4 0h1m6 0h1M13 55.5h1m7 0h1m4 0h1m5 0h1M13 56.5h1m12 0h2m3 0h1M22 57.5h1m4 0h3M12 58.5h1m9 0h1M12 59.5h1m9 0h1M12 60.5h1m9 0h1M12 61.5h1m9 0h1M22 62.5h1M13 63.5h1m8 0h1M13 64.5h1M13 65.5h1m9 0h1M23 66.5h1M12 67.5h1m10 0h1M12 68.5h1m11 0h1M13 70.5h1M14 71.5h1m10 0h1M15 73.5h1m8 0h1M24 74.5h1M15 75.5h1m8 0h1M15 76.5h1m9 0h1M15 77.5h1m9 0h1M26 78.5h1M16 79.5h1m9 0h1M16 80.5h1m9 0h1M16 81.5h1m8 0h1M16 82.5h2m7 0h1M17 83.5h1m7 0h1M18 84.5h1M19 86.5h1M19 87.5h1M19 88.5h1m5 0h1M24 89.5h1M20 90.5h1m2 0h1" stroke="#30c8b0" stroke-width="1"/><path d="M52 31.5h3M49 32.5h6M47 33.5h8M46 34.5h2m4 0h3M44 35.5h3m6 0h2M43 36.5h3m7 0h1M42 37.5h2m9 0h1M41 38.5h2m9 0h2M37 39.5h5m9 0h2M37 40.5h4m9 0h2M38 41.5h1m1 0h1m8 0h2M40 42.5h2m6 0h2M32 43.5h6m3 0h2m4 0h2M31 44.5h1m4 0h3m2 0h7M29 45.5h2m6 0h2M29 46.5h1m8 0h1M28 47.5h1m9 0h1M17 48.5h3m7 0h2m8 0h1M16 49.5h4m7 0h1m8 0h1M15 50.5h5m7 0h1m6 0h2M14 51.5h4m1 0h2m6 0h1m5 0h2M14 52.5h2m3 0h2m6 0h1m5 0h1M14 53.5h2m3 0h2m6 0h1m4 0h2M14 54.5h1m5 0h1m6 0h2m2 0h2M14 55.5h1m5 0h1m6 0h5M14 56.5h1m5 0h2m6 0h3M13 57.5h2m5 0h2M13 58.5h2m5 0h2M13 59.5h1m6 0h2M13 60.5h1m6 0h2M13 61.5h1m6 0h2M13 62.5h2m5 0h2M14 63.5h2m4 0h2M14 64.5h3m3 0h3M14 65.5h3m3 0h3M13 66.5h2m5 0h3M13 67.5h1m7 0h2M13 68.5h1m8 0h2M13 69.5h1m9 0h2M14 70.5h1m8 0h2M15 71.5h1m7 0h2M15 72.5h2m6 0h2M16 73.5h1m6 0h1M15 74.5h2m6 0h1M16 75.5h1m6 0h1M16 76.5h1m6 0h2M16 77.5h2m5 0h2M16 78.5h3m4 0h3M17 79.5h3m3 0h3M17 80.5h4m2 0h3M17 81.5h3m3 0h2M18 82.5h2m3 0h2M18 83.5h2m3 0h2M19 84.5h2m3 0h2M19 85.5h3m2 0h2M20 86.5h2m2 0h2M20 87.5h2m2 0h2M20 88.5h5M20 89.5h4M21 90.5h2" stroke="#48c048" stroke-width="1"/><path d="M48 34.5h2m1 0h1M47 35.5h1m4 0h1M46 36.5h1m5 0h1M44 37.5h2m6 0h1M51 38.5h1M42 39.5h1m7 0h1M41 40.5h1m6 0h2M41 41.5h1m6 0h1M42 42.5h1m4 0h1M43 43.5h4M32 44.5h4M31 45.5h1m4 0h1M37 46.5h1M29 47.5h1m7 0h1M36 48.5h1M28 49.5h1m6 0h1M28 50.5h1M18 51.5h1m9 0h1M16 52.5h3m9 0h1m3 0h1M16 53.5h1m11 0h1m2 0h1M15 54.5h1m3 0h1m9 0h2M15 55.5h1m3 0h1M15 56.5h1m3 0h1M15 57.5h1m3 0h1M15 58.5h1m3 0h1M14 59.5h1m3 0h2M14 60.5h1m3 0h2M14 61.5h1m3 0h2M15 62.5h1m3 0h1M16 63.5h4M17 64.5h3M17 65.5h3M15 66.5h5M14 67.5h1m3 0h3M14 68.5h1m4 0h3M14 69.5h1m6 0h2M15 70.5h1M16 71.5h2M17 72.5h1m4 0h1M17 73.5h1m4 0h1M17 74.5h1m4 0h1M17 75.5h1m4 0h1M17 76.5h1m4 0h1M18 77.5h1m3 0h1M19 78.5h1m2 0h1M20 79.5h3M21 80.5h2M20 81.5h3M20 82.5h3M20 83.5h3M21 84.5h3M22 85.5h2M22 86.5h2M22 87.5h2" stroke="#a8d430" stroke-width="1"/><path d="M50 34.5h1M48 35.5h1m2 0h1M47 36.5h1m3 0h1M46 37.5h2m3 0h1M43 38.5h5m2 0h1M46 39.5h4M42 40.5h1m4 0h1M42 41.5h1m3 0h2M43 42.5h4M35 45.5h1M30 46.5h1m5 0h1M36 47.5h1M29 48.5h1M29 49.5h1m4 0h1M33 50.5h1M32 51.5h1M29 52.5h1m1 0h1M17 53.5h2m10 0h2M16 54.5h1m1 0h1M16 55.5h1m1 0h1M16 56.5h1M16 57.5h1m1 0h1M16 58.5h3M15 59.5h3M15 60.5h3M15 61.5h3M16 62.5h3M15 67.5h3M18 68.5h1M15 69.5h1m2 0h3M16 70.5h7M18 71.5h2m2 0h1M18 72.5h1M18 73.5h1m2 0h1M18 74.5h1m2 0h1M18 75.5h1M18 76.5h1M19 77.5h1M20 78.5h2" stroke="#f0dc18" stroke-width="1"/><path d="M49 35.5h2M48 36.5h1M48 37.5h1m1 0h1M48 38.5h2M43 39.5h3M43 40.5h1m1 0h2M43 41.5h3M32 45.5h1M30 47.5h1M35 48.5h1M29 50.5h1m2 0h1M29 51.5h1m1 0h1M30 52.5h1M17 54.5h1M17 55.5h1M17 56.5h2M17 57.5h1M15 68.5h3M16 69.5h2M20 71.5h2M19 72.5h3M19 73.5h2M19 74.5h2M19 75.5h1m1 0h1M19 76.5h1m1 0h1M20 77.5h2" stroke="#f4a012" stroke-width="1"/><path d="M49 36.5h2M49 37.5h1M44 40.5h1M33 45.5h2M31 46.5h5M31 47.5h5M30 48.5h5M30 49.5h4M30 50.5h2M30 51.5h1M20 75.5h1M20 76.5h1" stroke="#e43018" stroke-width="1"/>
</g>
<g transform="translate(42,149.5)" filter="url(#soft)">
<path d="M4 1.5h1m16 0h1m30 0h1m18 0h2m5 0h1m17 0h1M31 2.5h1m35 0h1m4 0h1m6 0h1m7 0h1m6 0h1M40 3.5h1m7 0h1m15 0h1m11 0h1m6 0h1M28 4.5h1m12 0h1m17 0h1m13 0h1m11 0h1M10 5.5h1m26 0h1m5 0h1m1 0h1m11 0h1m7 0h1m2 0h1m3 0h1m1 0h2m1 0h1M34 6.5h1m4 0h1m12 0h2m5 0h1m1 0h2m9 0h3m7 0h1m1 0h1M26 7.5h1m20 0h1m5 0h1m1 0h1m4 0h1m3 0h1m5 0h1m2 0h1m1 0h2m1 0h1m9 0h1M12 8.5h1m11 0h1m18 0h1m31 0h1m3 0h2m5 0h1m7 0h1M29 9.5h1m1 0h1m1 0h1m2 0h1m11 0h1m2 0h1m15 0h1m8 0h1m5 0h1m3 0h2m2 0h1M5 10.5h1m34 0h1m3 0h1m2 0h1m1 0h1m41 0h1M18 11.5h1m15 0h1m5 0h1m50 0h2M34 12.5h1m3 0h1m3 0h1m49 0h1M23 13.5h1m4 0h1m3 0h1M13 14.5h1m13 0h1m3 0h1m2 0h5M25 15.5h1m2 0h2m7 0h2M6 16.5h1m12 0h1m1 0h1m3 0h1M15 17.5h1m5 0h1M21 18.5h1M3 19.5h1m13 0h1M18 20.5h1m6 0h1M25 21.5h2m68 0h1M19 22.5h1M8 23.5h1m9 0h1m1 0h2m4 0h1M23 24.5h2M11 25.5h1m2 0h1m8 0h1m1 0h1M5 26.5h1m3 0h1m14 0h1M14 27.5h1m1 0h1M14 28.5h1m8 0h1m71 0h1M3 29.5h1m16 0h2m2 0h1m70 0h1M25 30.5h1M1 31.5h1m7 0h1m1 0h1m18 0h1M14 32.5h1m11 0h1m4 0h3m3 0h1m57 0h1M4 33.5h1m14 0h1m4 0h1m2 0h1m3 0h1m1 0h1m3 0h1m1 0h2m1 0h2m3 0h1m1 0h1M20 34.5h1m5 0h1m6 0h1m5 0h2m1 0h3M22 35.5h1m6 0h1m1 0h1m2 0h1m2 0h2m7 0h1M23 36.5h1m2 0h1m1 0h1m1 0h1m5 0h1m1 0h3m1 0h2m1 0h3M16 37.5h1m16 0h1m5 0h1m3 0h2m2 0h1M10 38.5h1m3 0h1m6 0h1m1 0h3m5 0h1m4 0h1m2 0h1m6 0h1m50 0h1M15 39.5h1m7 0h1m6 0h3m4 0h1m7 0h1m1 0h2M6 40.5h1m7 0h1m4 0h1m9 0h1m2 0h1m4 0h2m7 0h2m48 0h1M14 41.5h1m5 0h1m1 0h1m11 0h3m1 0h1m1 0h1m55 0h1M2 42.5h1m6 0h1m18 0h1m3 0h1m7 0h1M28 43.5h1m3 0h1m3 0h3m2 0h1M16 44.5h1m4 0h1m2 0h1m4 0h2m1 0h1m1 0h3m5 0h1M2 45.5h1m7 0h1m5 0h1m1 0h1m20 0h1M18 46.5h1m1 0h1m14 0h3m2 0h1M7 47.5h2m21 0h1m1 0h1m6 0h1m1 0h1M5 48.5h1m5 0h1m3 0h1m1 0h1m9 0h1m1 0h1m1 0h1M14 49.5h1m1 0h1m8 0h1m12 0h1m1 0h2M1 50.5h1m15 0h1m19 0h1m1 0h2m55 0h1M16 51.5h1m3 0h1m1 0h1m1 0h1m1 0h1m7 0h1m1 0h2m1 0h2m1 0h1M5 52.5h1m20 0h2m8 0h1m2 0h1M6 53.5h1m8 0h1m11 0h1m7 0h2m3 0h1M23 54.5h1m2 0h1m1 0h6m3 0h1m58 0h1M3 55.5h1m4 0h1m2 0h1m5 0h1m3 0h1m1 0h1m1 0h2m8 0h1m59 0h1M14 56.5h1m7 0h1m5 0h1m5 0h1m59 0h1M13 57.5h1m1 0h1m9 0h1m3 0h1M13 58.5h2m6 0h1m3 0h1m1 0h1m1 0h1m63 0h1M11 59.5h1m3 0h1m12 0h1m2 0h4m57 0h1M7 60.5h1m6 0h1m2 0h1m6 0h1m3 0h2m3 0h1m1 0h1m5 0h1M8 61.5h1m20 0h3m2 0h2m4 0h2m52 0h1M20 62.5h1m1 0h1m2 0h2m5 0h1m2 0h1m3 0h1m2 0h1M2 63.5h1m16 0h1m4 0h1m1 0h1m1 0h1m1 0h1m3 0h1m1 0h1m4 0h1M11 64.5h1m12 0h1m8 0h3m1 0h1m2 0h1m51 0h1m3 0h1M11 65.5h2m3 0h1m4 0h1m3 0h1m2 0h2m8 0h1m1 0h1M11 66.5h1m2 0h1m10 0h1m2 0h1m2 0h1m2 0h1m1 0h2m53 0h1M14 67.5h1m5 0h1m2 0h1m2 0h1m2 0h2m5 0h1m55 0h1M2 68.5h1m33 0h1m1 0h1M5 69.5h1m2 0h1m4 0h2m7 0h1m2 0h2m4 0h1m3 0h1m55 0h1M12 70.5h1m4 0h1m11 0h1m2 0h1M13 71.5h1m14 0h1m5 0h1m1 0h1M5 72.5h2m26 0h1m2 0h2M1 73.5h1m7 0h1m3 0h1m10 0h1m8 0h3m2 0h1M24 74.5h1m6 0h1m2 0h1m43 0h1M27 75.5h1m7 0h1m3 0h4m23 0h2m11 0h1M28 76.5h2m1 0h2m9 0h2m22 0h1m12 0h1m11 0h1M13 77.5h1m1 0h1m4 0h1m2 0h2m6 0h1m3 0h3m2 0h1m38 0h1m11 0h1M16 78.5h1m18 0h1m2 0h1m52 0h1M23 79.5h1m5 0h2m6 0h1m1 0h4m23 0h1M27 80.5h1m4 0h1m8 0h3m8 0h2m9 0h1m1 0h1m3 0h2M5 81.5h1m1 0h1m11 0h1m5 0h1m2 0h1m9 0h3m1 0h2m9 0h1m16 0h1M17 82.5h1m8 0h1m6 0h2m3 0h1m1 0h1m3 0h1m6 0h1m26 0h1m14 0h1M3 83.5h1m19 0h2m16 0h1m3 0h1m1 0h1m4 0h1m1 0h1m5 0h1m1 0h1m1 0h1m1 0h1m1 0h1m3 0h1m1 0h1m3 0h1M16 84.5h1m9 0h1m3 0h1m4 0h1m6 0h1m1 0h3m6 0h2m10 0h1m3 0h2m2 0h1m1 0h1M9 85.5h1m15 0h1m10 0h1m8 0h1m2 0h1m1 0h1m3 0h1m3 0h2m2 0h2m1 0h2m8 0h1M24 86.5h1m3 0h2m6 0h1m2 0h1m3 0h1m5 0h1m3 0h1m4 0h1m3 0h1m4 0h1m6 0h1m1 0h1m1 0h1M3 87.5h1m38 0h1m6 0h1m1 0h1m6 0h1m6 0h1m1 0h1m3 0h1m5 0h2m11 0h1M6 88.5h1m29 0h1m10 0h1m5 0h1m3 0h1m1 0h2m5 0h1m2 0h2m1 0h1m3 0h2M13 89.5h1m22 0h1m3 0h1m1 0h1m10 0h1m13 0h1m4 0h4m1 0h2m11 0h1M21 90.5h1m3 0h3m8 0h1m6 0h1m3 0h2m9 0h1m2 0h2m2 0h1m1 0h1m5 0h1M24 91.5h1m6 0h1m13 0h1m4 0h1m16 0h2m21 0h1M31 92.5h1m2 0h1m5 0h1m13 0h1m5 0h2m1 0h1M23 93.5h1m2 0h1m21 0h1m1 0h1m6 0h4m13 0h1m2 0h1M20 94.5h1m25 0h1m12 0h1m6 0h1m6 0h1m2 0h1m13 0h2M25 95.5h1m15 0h1m4 0h2m1 0h1m2 0h1m7 0h1m11 0h1m4 0h1M28 96.5h1m4 0h1m10 0h1m3 0h3M21 97.5h1m23 0h1m1 0h1m10 0h1m12 0h1m1 0h1m3 0h1M33 98.5h1m25 0h1m31 0h1M15 99.5h1m4 0h1m9 0h1m9 0h1m10 0h1m1 0h1m4 0h1m20 0h1M3 100.5h1m17 0h1m23 0h1m21 0h1m1 0h1M48 101.5h1m11 0h1m9 0h1m5 0h1m5 0h1M37 102.5h1m35 0h1m13 0h1M12 103.5h1m15 0h1m28 0h2M19 104.5h1m19 0h1M31 105.5h1m20 0h1M23 106.5h2m8 0h1m25 0h1" stroke="#5860bc" stroke-opacity="0.5" stroke-width="1"/><path d="M72 7.5h1M57 8.5h2m11 0h2M54 9.5h1m2 0h5m7 0h1m1 0h3M51 10.5h1m2 0h2m1 0h1m1 0h2m3 0h1m1 0h1m2 0h2m1 0h2m1 0h1m4 0h6m1 0h1M46 11.5h1m1 0h1m2 0h1m1 0h5m1 0h2m1 0h3m4 0h1m1 0h2m2 0h1m3 0h3m5 0h2M43 12.5h3m1 0h1m1 0h2m1 0h7m1 0h1m1 0h5m1 0h1m1 0h2m1 0h3m1 0h1m11 0h1M42 13.5h1m1 0h1m2 0h4m4 0h1m3 0h3m1 0h6m1 0h2m1 0h1m16 0h1M32 14.5h1m8 0h2m1 0h2m1 0h1m8 0h4m9 0h4m18 0h2M34 15.5h1m6 0h1m1 0h5m44 0h2M29 16.5h1m2 0h2m1 0h6m1 0h2m1 0h2m46 0h1M33 17.5h2m1 0h5m2 0h1m1 0h2m46 0h1M27 18.5h1m3 0h1m1 0h2m2 0h5m1 0h1m1 0h1m47 0h1M26 19.5h1m6 0h6m3 0h3m48 0h1M26 20.5h1m2 0h1m1 0h5m1 0h2m1 0h2m1 0h4m14 0h2m31 0h1M31 21.5h9m4 0h3m15 0h2m4 0h1m1 0h4m20 0h1M29 22.5h1m4 0h3m1 0h2m2 0h6m13 0h4m3 0h5m1 0h1m19 0h1M27 23.5h1m2 0h1m1 0h1m1 0h1m1 0h2m3 0h1m3 0h3m13 0h8m2 0h1m2 0h1m19 0h1M28 24.5h1m3 0h2m1 0h1m3 0h1m1 0h2m2 0h4m13 0h2m1 0h2m2 0h1m1 0h1m2 0h1m19 0h1M27 25.5h2m1 0h1m2 0h1m1 0h5m1 0h1m1 0h12m1 0h1m2 0h7m4 0h1m1 0h1m1 0h1M27 26.5h1m2 0h1m5 0h8m3 0h1m1 0h5m1 0h5m1 0h5m3 0h1m1 0h4m19 0h1M27 27.5h1m4 0h1m2 0h3m1 0h10m4 0h1m1 0h1m3 0h1m1 0h1m1 0h3m1 0h5m1 0h2m19 0h1M26 28.5h1m1 0h1m6 0h2m1 0h3m1 0h8m1 0h1m1 0h2m1 0h1m6 0h8m2 0h2m19 0h1M26 29.5h2m1 0h2m1 0h7m1 0h1m1 0h3m3 0h3m1 0h2m1 0h1m1 0h2m2 0h1m1 0h6m1 0h5M27 30.5h1m2 0h2m1 0h1m2 0h1m1 0h1m1 0h1m1 0h5m2 0h1m3 0h1m6 0h2m3 0h5m1 0h5M27 31.5h1m1 0h1m5 0h3m2 0h1m3 0h4m4 0h1m1 0h1m4 0h1m2 0h1m1 0h4m1 0h3m1 0h1m1 0h1M43 32.5h1m1 0h2m1 0h1m1 0h1m3 0h4m2 0h1m3 0h1m1 0h1m3 0h3m1 0h2M44 33.5h1m8 0h1m1 0h1m1 0h3m2 0h5m5 0h1m1 0h2M50 34.5h1m3 0h6m2 0h4m7 0h1m1 0h1M51 35.5h1m2 0h2m3 0h1m1 0h4m1 0h1m5 0h2m21 0h1M48 36.5h1m3 0h7m1 0h1m2 0h1m1 0h3m3 0h1m1 0h3m19 0h1M42 37.5h1m6 0h2m1 0h1m4 0h3m1 0h3m2 0h3m4 0h1m1 0h2M40 38.5h1m1 0h2m6 0h2m2 0h3m2 0h4m1 0h4m1 0h1m3 0h4m18 0h1M43 39.5h1m5 0h1m2 0h1m1 0h2m1 0h4m2 0h1m2 0h11m18 0h1M52 40.5h3m1 0h1m5 0h11m1 0h2M42 41.5h5m4 0h3m1 0h3m1 0h2m1 0h1m1 0h13m18 0h1M43 42.5h1m1 0h3m3 0h1m1 0h1m1 0h5m1 0h4m1 0h3m1 0h1m1 0h1m2 0h3m17 0h1M46 43.5h4m1 0h4m2 0h2m1 0h11m3 0h1m2 0h1m17 0h1M50 44.5h3m1 0h2m4 0h1m2 0h7m1 0h7m17 0h1M43 45.5h1m3 0h1m1 0h3m1 0h3m1 0h1m1 0h8m2 0h2m1 0h2m1 0h3m17 0h1M43 46.5h1m1 0h3m1 0h2m2 0h2m5 0h1m1 0h3m1 0h5m1 0h1m2 0h1m1 0h1M42 47.5h1m1 0h1m1 0h1m1 0h1m3 0h5m1 0h3m1 0h2m4 0h1m5 0h2m19 0h1M43 48.5h1m2 0h2m1 0h5m1 0h2m1 0h1m1 0h1m1 0h2m4 0h1m3 0h3m1 0h2m17 0h1M42 49.5h2m1 0h5m3 0h2m1 0h3m1 0h4m3 0h2m2 0h4m1 0h3M42 50.5h1m5 0h1m1 0h2m4 0h1m1 0h2m2 0h5m2 0h3m1 0h3m1 0h1m17 0h1M43 51.5h1m2 0h7m1 0h5m2 0h1m2 0h3m2 0h1m3 0h2m1 0h3m16 0h1M44 52.5h1m2 0h1m2 0h1m3 0h2m2 0h3m1 0h3m1 0h3m1 0h5m3 0h1m16 0h1M46 53.5h2m3 0h3m3 0h2m3 0h1m1 0h10m1 0h1m2 0h1m15 0h1M38 54.5h1m7 0h3m1 0h2m2 0h1m1 0h4m1 0h5m3 0h4m1 0h1m4 0h3M43 55.5h1m1 0h2m1 0h1m1 0h1m1 0h5m1 0h1m1 0h1m5 0h1m1 0h7m1 0h5m13 0h1M37 56.5h1m2 0h1m2 0h4m1 0h3m3 0h2m1 0h3m6 0h1m1 0h1m3 0h2m2 0h6M42 57.5h2m2 0h1m1 0h4m2 0h6m5 0h3m2 0h3m1 0h1m2 0h1m1 0h2M35 58.5h1m7 0h1m1 0h8m3 0h3m1 0h1m2 0h3m4 0h1m1 0h3m2 0h3m1 0h1m9 0h1M42 59.5h1m1 0h1m1 0h2m3 0h1m1 0h2m1 0h6m1 0h2m1 0h2m1 0h3m1 0h4m1 0h1m2 0h1m9 0h1M44 60.5h1m1 0h3m3 0h1m2 0h1m1 0h1m1 0h1m1 0h1m1 0h1m1 0h1m1 0h1m2 0h1m6 0h4M43 61.5h1m2 0h1m5 0h2m1 0h1m2 0h1m5 0h1m4 0h3m1 0h4m2 0h3m8 0h1M44 62.5h1m1 0h1m2 0h1m2 0h3m2 0h1m1 0h3m1 0h2m1 0h2m1 0h3m2 0h5m1 0h1m9 0h1M48 63.5h1m1 0h1m1 0h1m1 0h4m2 0h1m1 0h2m2 0h3m2 0h3m1 0h1m2 0h4M42 64.5h3m2 0h1m2 0h1m1 0h2m3 0h2m1 0h5m2 0h1m1 0h3m1 0h4m1 0h1M41 65.5h2m2 0h1m2 0h2m1 0h4m1 0h1m1 0h7m1 0h1m2 0h5m1 0h1m1 0h1m12 0h1M46 66.5h1m3 0h1m3 0h1m3 0h2m1 0h4m1 0h2m1 0h2m1 0h1m1 0h3M41 67.5h2m1 0h3m2 0h1m1 0h1m1 0h2m1 0h3m1 0h3m3 0h2m2 0h4m1 0h1m3 0h1m10 0h1M48 68.5h5m3 0h1m2 0h12m1 0h3m3 0h1m1 0h1M41 69.5h1m1 0h2m2 0h2m1 0h1m1 0h1m1 0h1m1 0h2m2 0h4m2 0h1m2 0h1m1 0h2m2 0h2m1 0h1m1 0h1m9 0h1M42 70.5h1m1 0h7m1 0h1m6 0h1m2 0h2m2 0h9m4 0h2m9 0h1M40 71.5h1m1 0h5m1 0h1m2 0h1m3 0h1m2 0h5m3 0h1m1 0h2m1 0h4m2 0h1m12 0h1M39 72.5h2m3 0h1m1 0h2m1 0h3m1 0h3m6 0h1m1 0h1m2 0h1m1 0h4m1 0h1m2 0h1m2 0h1M39 73.5h1m4 0h1m5 0h1m1 0h1m2 0h4m1 0h3m1 0h1m1 0h1m1 0h4m1 0h1m2 0h1m3 0h1m9 0h1M40 74.5h1m2 0h2m1 0h1m2 0h1m1 0h1m1 0h3m3 0h2m1 0h3m4 0h1m2 0h1m1 0h1m1 0h1m3 0h1m9 0h1M44 75.5h1m1 0h2m2 0h1m1 0h2m2 0h10m3 0h1m1 0h1m1 0h2m1 0h1m3 0h1m9 0h1M45 76.5h1m1 0h1m1 0h1m2 0h1m1 0h3m1 0h1m2 0h1m2 0h1m2 0h1m1 0h1m1 0h2m1 0h2m4 0h1M44 77.5h4m1 0h3m2 0h3m2 0h5m1 0h1m2 0h1m2 0h1m1 0h1m1 0h3m12 0h1M44 78.5h1m2 0h1m10 0h1m2 0h1m2 0h1m1 0h1m1 0h1m5 0h1m2 0h1m1 0h2m9 0h1M47 79.5h2m1 0h2m3 0h1m1 0h2m1 0h3m1 0h1m7 0h1m2 0h1m1 0h1m2 0h1M44 80.5h1m1 0h1m1 0h2m7 0h4m1 0h1m11 0h3m3 0h1M44 81.5h1m1 0h1m1 0h3m4 0h1m1 0h1m1 0h1m14 0h3m3 0h1M47 82.5h2m5 0h1m1 0h2m16 0h1m4 0h1M49 83.5h2m5 0h2m22 0h1M49 84.5h1m30 0h1m9 0h1M79 85.5h2M89 86.5h1M89 87.5h1M89 88.5h1M89 89.5h1M89 90.5h1M79 91.5h1m9 0h1M79 92.5h1m9 0h1M89 93.5h1M89 95.5h1M89 96.5h1M88 97.5h2M79 98.5h1m8 0h1M87 99.5h1M81 100.5h3m1 0h3" stroke="#323aa4" stroke-opacity="0.82" stroke-width="1"/><path d="M82 11.5h2m1 0h2M78 12.5h4m1 0h6M51 13.5h3m21 0h2m1 0h1m1 0h3m3 0h3M48 14.5h1m1 0h2m2 0h2m5 0h3m2 0h1m1 0h1m5 0h1m1 0h4m7 0h4M48 15.5h1m1 0h3m2 0h8m1 0h4m1 0h1m1 0h1m1 0h4m11 0h2m1 0h1M48 16.5h1m1 0h1m1 0h11m1 0h9m2 0h1m1 0h1m11 0h1m2 0h1M47 17.5h10m2 0h1m2 0h4m1 0h2m1 0h4m1 0h2m13 0h2M46 18.5h8m1 0h5m1 0h13m1 0h2m13 0h1m1 0h1M46 19.5h6m1 0h3m1 0h7m1 0h4m2 0h1m1 0h4m14 0h2M47 20.5h6m1 0h3m1 0h3m2 0h4m3 0h7M48 21.5h1m1 0h1m1 0h5m1 0h3m4 0h2m7 0h2m15 0h2M48 22.5h1m1 0h3m1 0h5m1 0h1m4 0h2m8 0h2m15 0h1M48 23.5h3m1 0h2m1 0h3m1 0h1m15 0h2m15 0h1M49 24.5h3m1 0h2m2 0h5m13 0h2m15 0h2M76 25.5h1m16 0h1M92 26.5h1M75 27.5h1m1 0h1m14 0h2M75 28.5h3m14 0h2M76 29.5h2m14 0h1m1 0h1M76 30.5h2m14 0h3M76 31.5h1m1 0h1m13 0h3M67 32.5h3m6 0h3m14 0h1M67 33.5h2m8 0h2M66 34.5h2m1 0h1m7 0h3m13 0h2M67 35.5h1m8 0h2m1 0h1m13 0h2M68 36.5h1m1 0h1m6 0h4m12 0h2M69 37.5h1m1 0h1m5 0h4m13 0h1M70 38.5h3m4 0h4m13 0h1M77 39.5h4m13 0h1M77 40.5h2m1 0h1M77 41.5h2m15 0h1M78 42.5h3m13 0h1M78 43.5h1m1 0h1m13 0h1M78 44.5h3M79 45.5h2M78 46.5h1m1 0h1m13 0h1M64 47.5h2m1 0h1m10 0h1m1 0h1M65 48.5h2m12 0h1m14 0h1M64 49.5h3m12 0h2m13 0h1M79 50.5h3m12 0h1M79 51.5h4m10 0h2M80 52.5h4m10 0h1M81 53.5h3m5 0h5M83 54.5h1m4 0h3m1 0h2M63 55.5h1m18 0h2m5 0h2m1 0h1M60 56.5h1m3 0h2m16 0h2m4 0h2M61 57.5h1m2 0h1m17 0h2m5 0h2M83 58.5h1m5 0h1M82 59.5h1m6 0h2M82 60.5h1m6 0h2M82 61.5h2m4 0h1M82 62.5h2m4 0h1M82 63.5h1m5 0h1M81 64.5h3m4 0h2M81 65.5h3m4 0h2M82 66.5h2m4 0h1M82 67.5h1m5 0h1M81 68.5h2m5 0h2M82 69.5h2m5 0h1M81 70.5h3m5 0h1M81 71.5h3m5 0h1M81 72.5h3m4 0h2M81 73.5h3m5 0h1M81 74.5h1m1 0h1m4 0h2M82 75.5h2m4 0h1M81 76.5h3m3 0h2M82 77.5h1m4 0h2M81 78.5h1m6 0h1M81 79.5h2m5 0h2M81 80.5h2m4 0h1m1 0h1M81 81.5h2m4 0h3M81 82.5h3m3 0h2M81 83.5h3m3 0h1m1 0h1M87 84.5h3M81 85.5h2m4 0h3M80 86.5h3m3 0h3M80 87.5h1m1 0h1m3 0h3M80 88.5h3m3 0h3M80 89.5h2m4 0h1m1 0h1M81 90.5h2m3 0h1m1 0h1M80 91.5h3m3 0h3M81 92.5h1m5 0h2M81 93.5h1m5 0h2M81 94.5h1m5 0h2M81 95.5h1m5 0h2M80 96.5h2m5 0h2M80 97.5h2m4 0h1M80 98.5h3m3 0h1M82 99.5h5" stroke="#2a38a8" stroke-width="1"/><path d="M83 13.5h2M80 14.5h3m3 0h1M79 15.5h1m7 0h1M78 16.5h1m8 0h1M77 17.5h1m10 0h1M77 18.5h1m11 0h1M77 19.5h1m12 0h1M77 20.5h1m12 0h1M77 21.5h1m12 0h1M77 22.5h1m12 0h1M77 23.5h1m12 0h2M91 24.5h1M77 25.5h1m12 0h2M77 26.5h2m11 0h2M78 27.5h1m12 0h1M78 28.5h1m11 0h2M78 29.5h2m10 0h2M78 30.5h2m11 0h1M79 31.5h1m11 0h1M79 32.5h1m12 0h1M79 33.5h1m12 0h1M80 34.5h1m11 0h1M92 35.5h1M81 36.5h1M81 37.5h1m11 0h1M81 38.5h1m11 0h1M81 39.5h1m11 0h1M81 40.5h1m10 0h2M81 41.5h1m10 0h2M81 42.5h1m11 0h1M81 43.5h1m11 0h1M82 44.5h1m10 0h1M81 45.5h2m10 0h1M81 46.5h2m10 0h1M81 47.5h2m10 0h1M81 48.5h2m10 0h1M81 49.5h2m10 0h1M82 50.5h1m9 0h2M83 51.5h2m4 0h4M84 52.5h1m2 0h6M84 53.5h1m1 0h2M84 54.5h4M84 55.5h4M84 56.5h1m1 0h2M84 57.5h1m1 0h3M84 58.5h1m1 0h3M85 59.5h4M84 60.5h4M84 61.5h4M84 62.5h4M84 63.5h2m1 0h1M84 64.5h4M84 65.5h2m1 0h1M84 66.5h1m2 0h1M84 67.5h1m2 0h1M84 68.5h1m2 0h1M84 69.5h1m2 0h2M84 70.5h1m2 0h2M84 71.5h1m2 0h2M84 72.5h1m2 0h1M84 73.5h2m1 0h1M84 74.5h4M84 75.5h1m1 0h2M84 76.5h3M83 77.5h3M84 78.5h1m1 0h1M83 79.5h4M83 80.5h2m1 0h1M83 81.5h4M84 82.5h3M84 83.5h3M83 84.5h4M83 85.5h4M84 86.5h2M83 87.5h3M83 88.5h1m1 0h1M83 89.5h3M83 90.5h3M83 91.5h3M82 92.5h5M83 93.5h4M82 94.5h2m1 0h2M82 95.5h1m2 0h2M82 96.5h1m2 0h2M82 97.5h3M83 98.5h3" stroke="#2d62d8" stroke-width="1"/><path d="M83 14.5h3M80 15.5h2m4 0h1M79 16.5h1M78 17.5h1m8 0h1M78 18.5h1m9 0h1M78 19.5h1m10 0h1M78 20.5h1m10 0h1M78 21.5h2M78 22.5h2M78 23.5h2m9 0h1M78 24.5h2m9 0h1M78 25.5h2m8 0h2M79 26.5h1m8 0h2M79 27.5h1m8 0h2M79 28.5h1m9 0h1M89 29.5h1M90 30.5h1M90 31.5h1M80 32.5h1m10 0h1M80 33.5h1m10 0h1M81 34.5h1m9 0h1M82 35.5h1m8 0h1M82 36.5h1M82 37.5h1m9 0h1M82 38.5h1m9 0h1M82 39.5h1m9 0h1M82 40.5h1M82 41.5h1M82 42.5h1m9 0h1M82 43.5h2m8 0h1M83 44.5h1M83 45.5h1m8 0h1M83 46.5h1m8 0h1M92 47.5h1M92 48.5h1M83 49.5h1m7 0h2M83 50.5h2m4 0h3M85 51.5h4M85 52.5h2M85 53.5h1M86 65.5h1M85 66.5h2M85 67.5h2M85 68.5h2M85 69.5h2M85 70.5h2M85 71.5h2M85 72.5h2M86 73.5h1M84 94.5h1M83 95.5h2M83 96.5h2" stroke="#28a8e4" stroke-width="1"/><path d="M82 15.5h2m1 0h1M80 16.5h2m4 0h1M79 17.5h2M79 18.5h1m7 0h1M79 19.5h1m8 0h1M79 20.5h2m7 0h1M80 21.5h1m8 0h1M80 22.5h1m8 0h1M80 23.5h1m6 0h2M80 24.5h1m4 0h4M80 25.5h1m4 0h3M80 26.5h1m5 0h2M80 27.5h1m6 0h1M80 28.5h1m7 0h1M80 29.5h1m7 0h1M80 30.5h1m8 0h1M80 31.5h1M90 32.5h1M81 33.5h1M82 34.5h1M83 36.5h1m7 0h1M83 37.5h1m7 0h1M83 38.5h2m6 0h1M83 39.5h1m7 0h1M83 40.5h1m7 0h1M83 41.5h1m7 0h1M83 42.5h1m7 0h1M91 43.5h1M92 44.5h1M91 46.5h1M83 47.5h1m7 0h1M83 48.5h1m7 0h1M84 49.5h1m4 0h2M85 50.5h1m1 0h2" stroke="#30c8b0" stroke-width="1"/><path d="M84 15.5h1M82 16.5h4M81 17.5h6M80 18.5h3m2 0h2M80 19.5h3m3 0h2M81 20.5h2m3 0h2M81 21.5h2m2 0h4M81 22.5h8M81 23.5h6M81 24.5h4M81 25.5h4M81 26.5h5M81 27.5h6M81 28.5h2m2 0h3M81 29.5h1m4 0h2M81 30.5h1m4 0h3M81 31.5h1m5 0h3M81 32.5h2m5 0h2M82 33.5h2m5 0h2M83 34.5h1m5 0h2M83 35.5h2m4 0h2M84 36.5h2m3 0h2M84 37.5h3m2 0h2M85 38.5h2m2 0h2M84 39.5h3m2 0h2M84 40.5h2m3 0h2M84 41.5h2m4 0h1M84 42.5h2m4 0h1M84 43.5h1m5 0h1M84 44.5h1m5 0h2M84 45.5h1m5 0h2M84 46.5h2m4 0h1M84 47.5h2m3 0h2M84 48.5h2m2 0h3M85 49.5h4M86 50.5h1" stroke="#48c048" stroke-width="1"/><path d="M83 18.5h2M83 19.5h3M83 20.5h3M83 21.5h2M83 28.5h2M82 29.5h4M82 30.5h1m2 0h1M82 31.5h1m3 0h1M83 32.5h1m2 0h2M84 33.5h1m1 0h3M84 34.5h5M85 35.5h4M86 36.5h3M87 37.5h2M87 38.5h2M87 39.5h2M86 40.5h3M86 41.5h1m2 0h1M89 42.5h1M85 43.5h1M85 44.5h1M85 45.5h1M89 46.5h1M86 47.5h1M86 48.5h2" stroke="#a8d430" stroke-width="1"/><path d="M83 30.5h2M83 31.5h3M84 32.5h2M85 33.5h1M87 41.5h2M86 42.5h1M86 43.5h1m2 0h1M86 44.5h1M86 45.5h1m2 0h1M86 46.5h1M87 47.5h2" stroke="#f0dc18" stroke-width="1"/><path d="M87 42.5h2M89 44.5h1M87 46.5h2" stroke="#f4a012" stroke-width="1"/><path d="M87 43.5h2M87 44.5h2M87 45.5h2" stroke="#e43018" stroke-width="1"/>
</g>
<g transform="translate(167,149.5)" filter="url(#soft)">
<path d="M42 1.5h1M82 2.5h1M58 3.5h1M57 4.5h1M14 5.5h1m22 0h1m13 0h1m3 0h1m5 0h1m28 0h1M50 6.5h1m22 0h1M8 7.5h1m80 0h1M35 8.5h1m12 0h1M3 9.5h1m5 0h1m38 0h1m33 0h1m12 0h1M8 10.5h1m41 0h1M42 11.5h1m36 0h1m2 0h2M31 12.5h1m7 0h1m28 0h1m8 0h1m5 0h2m3 0h1m4 0h1M44 13.5h1m28 0h1m2 0h1m11 0h1m2 0h1m2 0h1m6 0h1M14 14.5h1m44 0h1m3 0h1m9 0h1m1 0h2m23 0h1M51 15.5h1m15 0h1m5 0h1m3 0h1m4 0h1m12 0h1m1 0h1M51 16.5h1m26 0h2m2 0h1m15 0h1M55 17.5h1m1 0h2m9 0h1M50 18.5h1m11 0h2m3 0h3m27 0h1m5 0h1M6 19.5h1m49 0h1m1 0h1m2 0h2m4 0h1m2 0h3m24 0h3m2 0h1m1 0h1M16 20.5h1m29 0h2m7 0h1m4 0h2m4 0h1m1 0h1m1 0h1M53 21.5h1m2 0h1m3 0h1M6 22.5h1m8 0h1m33 0h1m8 0h2m36 0h1m9 0h1M16 23.5h1m21 0h1m56 0h1M27 24.5h1m7 0h1m8 0h1m1 0h3m48 0h1M30 25.5h1m13 0h1M12 26.5h1m1 0h1m1 0h1m12 0h1m10 0h1m47 0h1M23 27.5h1m13 0h1m48 0h1m3 0h1m2 0h2M16 28.5h2m4 0h2m13 0h1m2 0h1m43 0h1m6 0h1m2 0h1m1 0h1M5 29.5h1m17 0h1m6 0h1m5 0h1m1 0h1m44 0h2m5 0h1M33 30.5h2m46 0h1m5 0h1M31 31.5h1m2 0h2m41 0h1m1 0h1m2 0h2M15 32.5h1m7 0h1m9 0h1m44 0h2m5 0h1m4 0h1M8 33.5h1m14 0h1m54 0h1m2 0h1m12 0h1M10 34.5h1m2 0h1m2 0h1m10 0h1m1 0h1m44 0h1M5 35.5h1m71 0h1m1 0h1m5 0h1m6 0h1M24 36.5h2m49 0h1m1 0h1m3 0h1m11 0h1M11 37.5h1m5 0h1m5 0h1m48 0h2m11 0h1m4 0h1M16 38.5h2m53 0h1M9 39.5h1m10 0h1m61 0h1M11 40.5h1m4 0h2m1 0h1m56 0h1M14 41.5h1m2 0h1m2 0h1m47 0h2m2 0h2M6 42.5h1m5 0h2m2 0h1m52 0h1m22 0h1m9 0h1M12 43.5h1m5 0h1m48 0h1m15 0h1m5 0h1M9 44.5h1m3 0h5m49 0h1m5 0h1m26 0h1M77 45.5h1m12 0h1M78 46.5h1m12 0h1M4 47.5h1m5 0h1m62 0h1m1 0h1M62 48.5h1m10 0h1m1 0h1M62 49.5h1m1 0h1M8 50.5h1m52 0h2m17 0h1m7 0h1M105 51.5h1M8 52.5h2m60 0h1m19 0h1M62 53.5h1M11 54.5h1m1 0h1m38 0h2m1 0h1m26 0h1M5 55.5h1m59 0h1M2 56.5h1m49 0h1m10 0h1m1 0h1m3 0h1M7 57.5h1m1 0h2m36 0h1m3 0h2m2 0h1m28 0h1m8 0h1m5 0h1M13 58.5h1m32 0h1m4 0h1m2 0h1m19 0h1m29 0h1M4 59.5h1m7 0h1m29 0h1m3 0h4m2 0h1m3 0h1m8 0h1m12 0h1m5 0h1M8 60.5h1m1 0h3m27 0h2m2 0h1m6 0h1m1 0h1m1 0h1m10 0h1m35 0h1M43 61.5h1m7 0h1m5 0h2m2 0h2m9 0h1m9 0h2M12 62.5h1m25 0h1m2 0h1m1 0h1m4 0h1m10 0h1M47 63.5h1M1 64.5h1m10 0h1m16 0h1m3 0h1m7 0h2m6 0h2m2 0h2m14 0h1m8 0h1m3 0h1m15 0h1M13 65.5h1m19 0h1m2 0h1m4 0h1m4 0h2m1 0h1m1 0h1m1 0h1m11 0h1m5 0h1m5 0h1m12 0h1M14 66.5h1m14 0h1m4 0h1m4 0h2m3 0h1m7 0h1m1 0h1m16 0h1M1 67.5h1m10 0h1m27 0h2m1 0h2m12 0h1m26 0h1M13 68.5h1m16 0h1m1 0h2m5 0h1m15 0h1m8 0h1m9 0h2M13 69.5h2m22 0h1m1 0h1m1 0h1m6 0h2m3 0h1m14 0h1m2 0h1m10 0h1M13 70.5h1m16 0h1m4 0h2m1 0h6m2 0h1m4 0h1m2 0h1m2 0h1m1 0h1M28 71.5h1m13 0h1m1 0h1m49 0h1M3 72.5h1m6 0h1m3 0h2m17 0h1m3 0h1m2 0h1m4 0h2m2 0h2m2 0h1M14 73.5h1m13 0h2m1 0h1m8 0h1m3 0h1m6 0h1m2 0h1m3 0h1m2 0h1m20 0h1M10 74.5h1m1 0h1m16 0h1m3 0h1m1 0h1m10 0h2m6 0h2m4 0h1m1 0h1m10 0h1m2 0h1m17 0h1M2 75.5h1m2 0h1m7 0h1m17 0h1m7 0h1m1 0h2m12 0h1m25 0h1m19 0h1M13 76.5h1m3 0h1m13 0h1m2 0h1m15 0h1m4 0h1m8 0h1m15 0h1M35 77.5h2m1 0h1m2 0h1m2 0h1m3 0h1m21 0h1m10 0h1M32 78.5h1m6 0h1m3 0h3m55 0h1M15 79.5h1m2 0h1m14 0h1m2 0h1m3 0h1m6 0h1m2 0h1m31 0h1M9 80.5h1m33 0h1m2 0h2m7 0h1m2 0h1M36 81.5h1m9 0h1m6 0h1m6 0h1M10 82.5h1m24 0h1m21 0h1m7 0h1M13 83.5h1m16 0h1m9 0h2m1 0h1M7 84.5h1m3 0h1m2 0h1m1 0h2m15 0h1m2 0h1m2 0h1m2 0h1m3 0h1m7 0h1M53 85.5h1m6 0h1m4 0h1M30 86.5h4m6 0h1m2 0h1m2 0h1m8 0h1m15 0h1M17 87.5h1m12 0h1m5 0h1m2 0h1m1 0h1m2 0h1m1 0h2M30 88.5h2m6 0h1m1 0h1m4 0h1m1 0h1m2 0h1M30 89.5h1m23 0h1m2 0h1m10 0h1M29 90.5h1m9 0h1m8 0h1m26 0h1m9 0h1M13 91.5h1m1 0h1m1 0h1m13 0h1m9 0h1m23 0h1m15 0h1M13 92.5h1m1 0h2m1 0h1m1 0h1m9 0h1m9 0h1M21 93.5h1m7 0h1m4 0h2m9 0h1m8 0h1M17 94.5h1m1 0h1m3 0h1m4 0h2m5 0h1m1 0h1m7 0h1m13 0h1m21 0h1M27 95.5h1m6 0h1m1 0h1m1 0h1m21 0h1m20 0h1M13 96.5h1m2 0h1m7 0h1m15 0h1m37 0h1m3 0h1M18 97.5h1m7 0h1m5 0h1m7 0h1m31 0h1M19 98.5h1m13 0h1m43 0h1m1 0h1M11 99.5h1m89 0h1M23 100.5h2m5 0h1m27 0h1m2 0h1M16 101.5h1m1 0h1m5 0h1m5 0h1m10 0h1m40 0h1M24 102.5h1m25 0h1m7 0h1m1 0h1m7 0h1m8 0h1m16 0h1M29 103.5h1M32 104.5h1M46 105.5h1M35 106.5h1m48 0h1" stroke="#5860bc" stroke-opacity="0.5" stroke-width="1"/><path d="M87 13.5h1M85 14.5h1M84 15.5h2m3 0h3m1 0h1M86 16.5h1m1 0h2m1 0h1m3 0h1M75 17.5h2m1 0h4m1 0h1m4 0h1m1 0h6M77 18.5h3m1 0h1m3 0h1m2 0h2m2 0h2M73 19.5h1m1 0h1m1 0h1m2 0h3m1 0h1m1 0h8M76 20.5h4m4 0h1m1 0h1m1 0h5m1 0h1M63 21.5h1m4 0h2m2 0h6m2 0h3m1 0h1m1 0h4m1 0h2m1 0h1M53 22.5h1m1 0h1m5 0h5m2 0h3m1 0h2m1 0h2m1 0h2m1 0h1m1 0h2m3 0h1m1 0h2m1 0h1M52 23.5h3m1 0h1m14 0h5m2 0h1m2 0h1m1 0h1m1 0h1m2 0h1m1 0h4M51 24.5h2m5 0h2m12 0h3m1 0h2m2 0h2m4 0h4m1 0h4M48 25.5h1m1 0h1m23 0h4m1 0h1m2 0h4m1 0h1m1 0h2M46 26.5h2m1 0h1m23 0h1m4 0h1m1 0h6m5 0h4M43 27.5h1m1 0h2m27 0h1m1 0h1m2 0h2m2 0h1M43 28.5h1m30 0h1m1 0h3m1 0h1m1 0h2M41 29.5h1m32 0h5m1 0h1M39 30.5h1m35 0h3m1 0h1M36 31.5h3m35 0h3M34 32.5h4M34 33.5h2m39 0h1M32 34.5h1m39 0h1M31 35.5h2m38 0h1M28 36.5h1m1 0h2m38 0h1m1 0h1M27 37.5h1m1 0h1M24 38.5h1m1 0h1m41 0h2M24 39.5h1m43 0h1M67 40.5h2M21 41.5h1m1 0h1m43 0h1M20 42.5h3m43 0h1M65 43.5h1M64 44.5h2M16 45.5h1m2 0h2m40 0h3m1 0h1M15 46.5h1m4 0h1m39 0h2m1 0h1M14 47.5h4m1 0h1m39 0h1m1 0h1M13 48.5h1m2 0h1m1 0h2m39 0h2M14 49.5h1m2 0h3m37 0h3M15 50.5h5m37 0h2M13 51.5h6m34 0h3M13 52.5h1m1 0h1m1 0h1m1 0h1m31 0h1m1 0h1M14 53.5h2m1 0h4m29 0h1M15 54.5h1m1 0h2m1 0h1m27 0h4M16 55.5h2m31 0h1M14 56.5h2m1 0h2m25 0h3M15 57.5h5m23 0h1M15 58.5h2m1 0h3m19 0h3M15 59.5h3m1 0h3m1 0h1m14 0h4M13 60.5h1m2 0h5m3 0h1m12 0h3M14 61.5h2m2 0h2m4 0h1m1 0h1m8 0h1m2 0h1M13 62.5h1m1 0h4m5 0h2m2 0h3m1 0h1m1 0h4M13 63.5h1m2 0h2m7 0h2m2 0h2m1 0h3M14 64.5h1m1 0h2m7 0h1m1 0h1M15 65.5h1m1 0h1m7 0h1m2 0h1M16 66.5h2m8 0h2M16 67.5h2m8 0h2M17 68.5h1m7 0h2M15 69.5h1m1 0h3m4 0h3M15 70.5h1m1 0h7m2 0h1M15 71.5h1m2 0h2m2 0h4M16 72.5h1m1 0h3m1 0h4M17 73.5h1m2 0h1m1 0h3M18 74.5h2m3 0h5M20 75.5h3m1 0h1m2 0h3M19 76.5h1m1 0h5m2 0h3M20 77.5h9M19 78.5h1m1 0h4m2 0h2M21 79.5h3m2 0h1m2 0h1M19 80.5h1m3 0h1m3 0h2M20 81.5h1m1 0h5M18 82.5h5m1 0h1m1 0h1m1 0h2M18 83.5h1m2 0h1m2 0h2m1 0h2M18 84.5h1m4 0h5M17 85.5h1m4 0h2m1 0h3m1 0h1M18 86.5h2m1 0h1m2 0h4m1 0h1M18 87.5h6m1 0h1m1 0h3M18 88.5h1m3 0h1m1 0h1m2 0h3M19 89.5h2m2 0h2m3 0h2M20 90.5h5m2 0h2M20 91.5h5m3 0h1M23 92.5h2m1 0h2M25 93.5h1m1 0h2" stroke="#323aa4" stroke-opacity="0.82" stroke-width="1"/><path d="M61 23.5h2m1 0h1m1 0h4M53 24.5h2m1 0h1m3 0h1m1 0h1m1 0h1m1 0h3m1 0h2M52 25.5h1m1 0h9m6 0h2m1 0h1M51 26.5h2m5 0h1m11 0h3M47 27.5h1m1 0h4m18 0h3M44 28.5h2m2 0h3m20 0h3M43 29.5h6m22 0h3M41 30.5h4m26 0h2M40 31.5h4m27 0h2M40 32.5h1m1 0h1m28 0h3M38 33.5h5m27 0h3M34 34.5h6m29 0h3M33 35.5h3m32 0h1m1 0h1M32 36.5h1m1 0h1m31 0h4M30 37.5h1m1 0h2m31 0h2m1 0h1M28 38.5h5m32 0h1m1 0h1M26 39.5h6m33 0h3M24 40.5h1m1 0h2m2 0h1m33 0h1m1 0h1M24 41.5h1m1 0h1m37 0h3M23 42.5h1m1 0h1m35 0h3M22 43.5h1m1 0h1m34 0h6M22 44.5h2m34 0h6M21 45.5h3m32 0h4M21 46.5h3m31 0h2m1 0h1M20 47.5h2m32 0h2m1 0h2M20 48.5h3m30 0h1m1 0h3M20 49.5h3m29 0h5M20 50.5h1m1 0h1m28 0h1m1 0h2M20 51.5h3m25 0h3m1 0h1M21 52.5h2m23 0h3m1 0h1M21 53.5h2m21 0h3m1 0h2M21 54.5h3m19 0h5M19 55.5h3m1 0h1m17 0h3m1 0h1M21 56.5h3m15 0h2m1 0h2M20 57.5h6m10 0h6M21 58.5h7m6 0h3m1 0h2M24 59.5h4m1 0h3m1 0h4M22 60.5h2m2 0h8m2 0h1M20 61.5h1m2 0h1m4 0h4m1 0h2M19 62.5h2m1 0h2m7 0h1M18 63.5h1m1 0h1m1 0h3M20 64.5h2m1 0h2M19 65.5h6M18 66.5h8M19 67.5h3m1 0h3M18 68.5h1m1 0h5M20 69.5h2m1 0h1M25 78.5h1M24 80.5h2" stroke="#2a38a8" stroke-width="1"/><path d="M63 25.5h6M55 26.5h3m2 0h4m4 0h2M54 27.5h2m2 0h2m1 0h1m7 0h2M51 28.5h3m16 0h1M49 29.5h1m1 0h1m18 0h1M45 30.5h5m20 0h1M45 31.5h1m24 0h1M43 32.5h2m24 0h2M43 33.5h1m25 0h1M41 34.5h3m24 0h1M38 35.5h3m1 0h1m22 0h3M35 36.5h2m27 0h2M64 37.5h1M33 38.5h2m29 0h1M32 39.5h2m30 0h1M31 40.5h2m30 0h1M27 41.5h4m30 0h3M26 42.5h3m29 0h3M57 43.5h1M25 44.5h1m30 0h1M24 45.5h2m29 0h1M24 46.5h1m28 0h2M23 47.5h2m27 0h2M23 48.5h2m26 0h1M23 49.5h2m24 0h3M23 50.5h2m22 0h3M23 51.5h1m21 0h3M23 52.5h1m20 0h2M23 53.5h2m17 0h1M40 54.5h3M24 55.5h1m13 0h3M24 56.5h3m7 0h5M26 57.5h3m2 0h5M28 58.5h6" stroke="#2d62d8" stroke-width="1"/><path d="M64 26.5h4M56 27.5h2m4 0h2m4 0h1M54 28.5h2m2 0h4m7 0h1M52 29.5h2m5 0h3m7 0h1M50 30.5h2m8 0h1m8 0h1M46 31.5h3m19 0h1M45 32.5h1m22 0h1M44 33.5h1m22 0h2M44 34.5h1m20 0h3M43 35.5h2m19 0h1M37 36.5h7M35 37.5h2m26 0h1M35 38.5h1m27 0h1M34 39.5h1m28 0h1M33 40.5h1m27 0h2M31 41.5h1m26 0h3M29 42.5h2m26 0h1M27 43.5h2m27 0h1M26 44.5h2m26 0h2M26 45.5h1m26 0h2M25 46.5h1m26 0h1M25 47.5h1m25 0h1M49 48.5h2M47 49.5h2M45 50.5h2M25 51.5h1m17 0h2M25 52.5h1m16 0h2M25 53.5h2m13 0h2M25 54.5h2m12 0h1M25 55.5h3m6 0h4M27 56.5h2m3 0h2M29 57.5h2" stroke="#28a8e4" stroke-width="1"/><path d="M64 27.5h4M56 28.5h2m4 0h2m4 0h1M54 29.5h1m3 0h1m3 0h1m5 0h1M52 30.5h1m6 0h1m1 0h1m6 0h1M49 31.5h2m9 0h2M46 32.5h2m19 0h1M45 33.5h1m19 0h2M45 34.5h1m17 0h2M45 35.5h1m17 0h1M44 36.5h1m18 0h1M37 37.5h6M36 38.5h1M35 39.5h1m26 0h1M34 40.5h1m24 0h2M32 41.5h2m22 0h2M31 42.5h1m23 0h2M29 43.5h2m23 0h2M28 44.5h2m23 0h1M27 45.5h1m24 0h1M26 46.5h1m23 0h2M49 47.5h2M25 48.5h1m21 0h2M25 49.5h1m18 0h3M25 50.5h1m17 0h2M26 51.5h1m15 0h1M26 52.5h2m12 0h2M27 53.5h2m10 0h1M27 54.5h2m7 0h3M28 55.5h2m3 0h1M29 56.5h3" stroke="#30c8b0" stroke-width="1"/><path d="M64 28.5h4M55 29.5h3m5 0h5M53 30.5h6m3 0h6M51 31.5h9m2 0h6M48 32.5h7m3 0h9M46 33.5h8m6 0h5M46 34.5h8m7 0h2M46 35.5h2m13 0h2M45 36.5h2m14 0h2M43 37.5h3m15 0h2M37 38.5h8m7 0h2m5 0h4M36 39.5h3m3 0h1m8 0h11M35 40.5h2m14 0h8M34 41.5h2m15 0h5M32 42.5h3m16 0h4M31 43.5h2m17 0h4M30 44.5h2m9 0h1m7 0h4M28 45.5h3m10 0h1m6 0h4M27 46.5h2m18 0h3M26 47.5h2m15 0h6M26 48.5h1m15 0h5M26 49.5h1m14 0h3M26 50.5h2m12 0h3M27 51.5h3m9 0h3M28 52.5h3m7 0h2M29 53.5h2m3 0h5M29 54.5h7M30 55.5h3" stroke="#48c048" stroke-width="1"/><path d="M55 32.5h3M54 33.5h6M54 34.5h2m4 0h1M48 35.5h7m5 0h1M47 36.5h1m3 0h4m5 0h1M46 37.5h1m4 0h4m4 0h2M45 38.5h1m5 0h1m2 0h5M39 39.5h3m1 0h2m5 0h1M37 40.5h8m5 0h1M36 41.5h1m4 0h4m5 0h1M35 42.5h1m4 0h4m5 0h2M33 43.5h1m6 0h4m4 0h2M32 44.5h1m7 0h1m1 0h2m3 0h2M31 45.5h1m8 0h1m1 0h2m3 0h1M29 46.5h2m9 0h7M28 47.5h1m11 0h3M27 48.5h1m12 0h2M27 49.5h1m12 0h1M28 50.5h2m9 0h1M30 51.5h2m6 0h1M31 52.5h7M31 53.5h3" stroke="#a8d430" stroke-width="1"/><path d="M56 34.5h2m1 0h1M55 35.5h1M48 36.5h1m1 0h1m4 0h1m3 0h1M47 37.5h1m2 0h1m4 0h4M46 38.5h1m3 0h1M45 39.5h1M45 40.5h1M37 41.5h1m1 0h2m4 0h1m3 0h1M36 42.5h1m7 0h5M34 43.5h1m4 0h1m4 0h1m1 0h2M39 44.5h1m6 0h1M39 45.5h1m4 0h3M31 46.5h1m7 0h1M29 47.5h2m8 0h1M28 48.5h1m10 0h1M28 49.5h2m9 0h1M30 50.5h2m6 0h1M32 51.5h2m3 0h1" stroke="#f0dc18" stroke-width="1"/><path d="M58 34.5h1M56 35.5h4M49 36.5h1m6 0h3M48 37.5h2M47 38.5h1M46 39.5h1m2 0h1M46 40.5h1m2 0h1M38 41.5h1m7 0h3M39 42.5h1M45 43.5h1M44 44.5h2M32 45.5h1m5 0h1M29 48.5h2M30 49.5h2M32 50.5h1M34 51.5h3" stroke="#f4a012" stroke-width="1"/><path d="M48 38.5h2M47 39.5h2M47 40.5h2M37 42.5h2M35 43.5h4M33 44.5h6M33 45.5h5M32 46.5h7M31 47.5h8M31 48.5h8M32 49.5h7M33 50.5h5" stroke="#e43018" stroke-width="1"/>
</g>
<g transform="translate(42,302.6)" filter="url(#soft)">
<path d="M56 3.5h1M38 4.5h1M21 5.5h1m22 0h1m11 0h1m17 0h1M32 6.5h1m10 0h1M35 7.5h1m2 0h1M13 8.5h1m6 0h1m1 0h1m19 0h1m1 0h1m6 0h1m7 0h1m11 0h1m17 0h1M40 9.5h1m23 0h1m2 0h1M16 10.5h1m19 0h1m4 0h1m5 0h1m7 0h1m12 0h1M19 11.5h1m3 0h1m20 0h1m1 0h2m4 0h2m1 0h1m4 0h1m4 0h1m11 0h1M26 12.5h1m4 0h1m16 0h1m3 0h1m3 0h1M24 13.5h1m2 0h1m14 0h1m4 0h3m6 0h1m2 0h1m6 0h1M8 14.5h1m8 0h1m9 0h1m1 0h1m6 0h2m9 0h1m25 0h1m6 0h1M11 15.5h1m6 0h1m3 0h1m9 0h1m11 0h1m1 0h2m4 0h1m5 0h1m4 0h1m6 0h1m4 0h1M18 16.5h1m1 0h1m5 0h2m1 0h1m1 0h1m1 0h2m1 0h1m13 0h1m7 0h2m5 0h1m2 0h1M21 17.5h1m5 0h1m5 0h1m9 0h1m2 0h1m14 0h1m7 0h1M18 18.5h1m1 0h1m12 0h1m7 0h1m1 0h1m2 0h1m5 0h1m1 0h3m8 0h1m4 0h1m17 0h1m16 0h1M17 19.5h1m1 0h1m22 0h1m1 0h1m2 0h1m2 0h1m7 0h2m12 0h2M15 20.5h2m18 0h1m1 0h3m1 0h3m2 0h1m2 0h1m4 0h1m2 0h1m4 0h1m3 0h1m6 0h1m2 0h1M13 21.5h1m1 0h1m1 0h1m17 0h1m2 0h3m1 0h1m2 0h1m5 0h2m1 0h2m6 0h1m7 0h1m1 0h2m10 0h1m5 0h1M14 22.5h1m26 0h1m7 0h4m1 0h1m1 0h1m8 0h1m3 0h1m21 0h1m3 0h1M11 23.5h1m32 0h1m4 0h1m13 0h3m7 0h1M49 24.5h4m11 0h1m4 0h2m2 0h1m6 0h1M47 25.5h3m1 0h1m12 0h1m24 0h1m5 0h1m7 0h1M47 26.5h2m1 0h1m1 0h1m12 0h1m2 0h2m2 0h1m4 0h1m6 0h1m5 0h1M13 27.5h2m34 0h1m15 0h2m1 0h2m3 0h1m5 0h1M11 28.5h1m40 0h1m16 0h1m3 0h2m1 0h3m9 0h1M8 29.5h1m3 0h1m58 0h3m9 0h1m5 0h1m8 0h1M2 30.5h1m68 0h1m1 0h1m3 0h1m1 0h1M66 31.5h2m2 0h2m4 0h1m26 0h1M9 32.5h2m52 0h1m1 0h1m4 0h1m1 0h1m1 0h1m3 0h1m1 0h1m1 0h1M71 33.5h1m3 0h2m2 0h1m4 0h1m12 0h1M11 34.5h1m53 0h1m4 0h1m17 0h1M10 35.5h2m52 0h1m1 0h1m3 0h2m2 0h1m1 0h1m1 0h1m4 0h1m12 0h1m1 0h1M8 36.5h1m58 0h2m11 0h1m2 0h1M72 37.5h1m11 0h1m9 0h1m5 0h1m3 0h1M5 38.5h1m62 0h1m1 0h2m1 0h1m4 0h1m11 0h2m9 0h1M7 39.5h1m1 0h1m65 0h1m3 0h1M68 40.5h3m1 0h1m5 0h1m3 0h2m6 0h1m9 0h1m3 0h1M7 41.5h1m59 0h2m1 0h1m12 0h1m3 0h1m2 0h1M75 42.5h1m4 0h1m7 0h1M6 43.5h1m2 0h1m56 0h1m1 0h1m5 0h2m9 0h1m1 0h1m5 0h1M42 44.5h1m33 0h3m3 0h1m20 0h1M9 45.5h1m33 0h1m3 0h1m18 0h1m9 0h2m21 0h2M6 46.5h1m39 0h1m22 0h1m3 0h1m1 0h1m2 0h1m4 0h1M5 47.5h1m40 0h3m23 0h1m1 0h1m3 0h1m2 0h1m2 0h1m1 0h1m2 0h1m9 0h1M47 48.5h2m18 0h1m1 0h1m9 0h2m5 0h1M69 49.5h1m18 0h1m2 0h1m3 0h1M4 50.5h1m61 0h1m1 0h1m1 0h1m7 0h1m10 0h1m1 0h1M6 51.5h2m68 0h1m18 0h1M71 52.5h1m20 0h1m8 0h1M6 53.5h2m44 0h2m4 0h1m10 0h2m1 0h1m20 0h1M4 54.5h1m2 0h1m41 0h1m7 0h1m10 0h1m10 0h1m3 0h2m1 0h1m2 0h1M5 55.5h1m47 0h3m3 0h3m3 0h1M51 56.5h1m4 0h1m2 0h1m1 0h1m1 0h1m1 0h1m3 0h1m3 0h1m8 0h1m19 0h1M52 57.5h1m5 0h1m1 0h1m2 0h1m2 0h1m11 0h1m8 0h1M6 58.5h1m45 0h1m4 0h2m1 0h1m1 0h1m7 0h1M53 59.5h1m1 0h2m6 0h1m2 0h2m12 0h1m15 0h1M60 60.5h1m4 0h1m10 0h1m5 0h1m7 0h1M53 61.5h1m5 0h1m7 0h1m30 0h1M7 62.5h1m46 0h1m2 0h2m30 0h1M56 63.5h2m8 0h1m8 0h2m4 0h1m1 0h2m6 0h1M6 64.5h2m49 0h1m3 0h2m1 0h1m2 0h1m2 0h2m5 0h1M60 65.5h1m1 0h1m2 0h1m10 0h1m3 0h1M48 66.5h1m2 0h1m1 0h3m2 0h1m2 0h2m1 0h1m2 0h1m3 0h1m7 0h1m2 0h1M8 67.5h1m42 0h1m2 0h1m7 0h1m14 0h1m1 0h1m4 0h2m3 0h1m5 0h1M47 68.5h1m1 0h1m1 0h2m2 0h2m2 0h1m24 0h1m5 0h1M7 69.5h1m45 0h1m1 0h1m8 0h3m17 0h1M2 70.5h1m45 0h2m1 0h1m1 0h1m1 0h1m5 0h1m2 0h1m11 0h1m6 0h1m8 0h1M4 71.5h1m3 0h1m39 0h1m1 0h1m1 0h3m5 0h1m1 0h1m2 0h1m2 0h1m5 0h1m9 0h1m9 0h1m4 0h1M4 72.5h2m1 0h1m40 0h1m4 0h1m1 0h1m10 0h1m2 0h1m2 0h3M4 73.5h1m47 0h1m3 0h1m3 0h1m2 0h1m3 0h1m3 0h1m18 0h1M3 74.5h1m56 0h1m1 0h1m4 0h1m6 0h1m5 0h1m13 0h1M8 75.5h1m44 0h1m2 0h1m1 0h1m1 0h1m1 0h1m3 0h1m1 0h4m4 0h1m13 0h1M1 76.5h1m42 0h1m4 0h1m5 0h1m3 0h1m2 0h1m6 0h1m5 0h1m19 0h1M44 77.5h1m2 0h1m4 0h2m1 0h1m2 0h1m1 0h1m4 0h2m10 0h1m15 0h1M47 78.5h1m6 0h2m2 0h1m1 0h1m1 0h1m1 0h1m3 0h1m4 0h1m1 0h1M48 79.5h1m4 0h2m1 0h1m3 0h1m10 0h1m10 0h1m12 0h1M9 80.5h1m35 0h1m2 0h1m3 0h1m2 0h2m5 0h2m19 0h1m4 0h1M8 81.5h1m35 0h1m5 0h1m1 0h1m17 0h1m1 0h1m18 0h1M8 82.5h1m1 0h1m32 0h1m8 0h1m4 0h2m10 0h1m14 0h1M9 83.5h2m36 0h1m11 0h2m2 0h1m1 0h1M10 84.5h1m29 0h2m7 0h1m1 0h1m5 0h1m6 0h2m34 0h1M39 85.5h1m7 0h1m3 0h1m1 0h1m2 0h1m5 0h1m3 0h1m22 0h1M41 86.5h2m1 0h1m37 0h1M7 87.5h1m2 0h1m30 0h1m4 0h1m1 0h1m1 0h1m1 0h1m10 0h1m7 0h2m17 0h1m9 0h1M11 88.5h1m28 0h1m7 0h1m9 0h2m5 0h1m6 0h1m1 0h1m14 0h1M8 89.5h1m2 0h1m29 0h1m6 0h1m3 0h1m5 0h1m7 0h1M8 90.5h1m2 0h1m44 0h1m10 0h1m8 0h1M11 91.5h1m26 0h1m1 0h2m2 0h1m1 0h2m3 0h1m31 0h1M10 92.5h1m27 0h1m8 0h1m10 0h3M12 93.5h1m1 0h1m21 0h1m8 0h2m5 0h1m2 0h1m2 0h1m15 0h1m9 0h1M10 94.5h1m23 0h1m1 0h1m1 0h1m3 0h1m4 0h1m1 0h1m4 0h1m3 0h2m5 0h1M12 95.5h1m2 0h1m15 0h1m16 0h1m2 0h2M33 96.5h1m5 0h1m1 0h3m5 0h1m1 0h3m26 0h1M7 97.5h1m20 0h2m1 0h1m6 0h1m16 0h1M15 98.5h2m2 0h1m1 0h1m8 0h1m16 0h1m1 0h1m40 0h1M17 99.5h1m1 0h1m11 0h1m5 0h2m6 0h1m9 0h1M23 100.5h3m4 0h1m7 0h1m3 0h1m4 0h1M16 101.5h1m4 0h2m2 0h1m30 0h1m7 0h1m10 0h1m22 0h1M14 102.5h1m5 0h2m1 0h1m2 0h1m28 0h1m6 0h1m9 0h1M20 103.5h1m16 0h1m3 0h1m14 0h1m40 0h1M17 104.5h1m7 0h1M22 105.5h1m12 0h1m51 0h1" stroke="#5860bc" stroke-opacity="0.5" stroke-width="1"/><path d="M24 17.5h1M21 18.5h3M20 19.5h1m1 0h2m2 0h3m3 0h1M20 20.5h1m1 0h1m2 0h1m6 0h1M19 21.5h1m1 0h1m2 0h1m2 0h1m1 0h1m1 0h1m1 0h1m25 0h1M19 22.5h2m3 0h3m1 0h2m4 0h2m4 0h1m18 0h1M19 23.5h2m2 0h2m2 0h1m3 0h2m1 0h1m1 0h1m2 0h1m3 0h1m11 0h1m3 0h3M16 24.5h2m1 0h1m1 0h2m1 0h2m1 0h1m1 0h3m1 0h1m1 0h3m5 0h2m12 0h2m1 0h1M15 25.5h1m2 0h1m5 0h2m1 0h4m3 0h2m1 0h1m1 0h6m8 0h3m1 0h1m2 0h2M17 26.5h8m4 0h3m10 0h2m1 0h1m8 0h2m2 0h2m1 0h2M15 27.5h1m1 0h2m1 0h1m1 0h2m5 0h4m2 0h1m5 0h1m1 0h4m6 0h1m2 0h3m1 0h1m1 0h1M15 28.5h2m1 0h1m11 0h3m3 0h1m1 0h2m1 0h2m3 0h1m2 0h1m3 0h1m1 0h3m2 0h1m1 0h1m1 0h1M17 29.5h2m10 0h2m1 0h2m1 0h1m3 0h2m2 0h5m2 0h5m1 0h2m4 0h3M14 30.5h2m1 0h2m10 0h2m2 0h1m1 0h5m4 0h2m1 0h2m1 0h1m2 0h2m1 0h1m2 0h1m2 0h1M15 31.5h1m1 0h1m18 0h1m3 0h2m3 0h7m1 0h1m1 0h1m2 0h1m3 0h1M14 32.5h1m1 0h1m14 0h2m1 0h2m1 0h2m1 0h2m1 0h2m3 0h1m2 0h1m1 0h1m1 0h3m1 0h1m1 0h2M15 33.5h1m15 0h2m1 0h1m1 0h2m3 0h2m4 0h1m1 0h2m3 0h2m2 0h2M13 34.5h2m17 0h4m1 0h1m1 0h1m2 0h11m1 0h1m1 0h1m1 0h3M12 35.5h3m18 0h8m1 0h1m3 0h2m1 0h1m1 0h3m3 0h1m2 0h1M14 36.5h1m17 0h2m1 0h1m1 0h9m2 0h1m2 0h2m1 0h2m4 0h3m2 0h1M11 37.5h1m1 0h1m19 0h1m2 0h4m1 0h2m2 0h3m2 0h1m3 0h3m1 0h2m3 0h3m1 0h1M10 38.5h2m1 0h1m18 0h1m4 0h5m3 0h3m1 0h2m1 0h1m2 0h3m1 0h2m1 0h1M10 39.5h3m20 0h3m1 0h1m1 0h2m1 0h3m1 0h4m5 0h1m2 0h3m1 0h1m1 0h4M9 40.5h4m21 0h1m4 0h5m3 0h1m2 0h3m2 0h3m1 0h1m1 0h1m4 0h2M10 41.5h2m21 0h6m1 0h1m1 0h2m1 0h5m2 0h1m3 0h2m1 0h1m2 0h1m1 0h1m1 0h1M10 42.5h2m26 0h2m1 0h1m4 0h1m3 0h2m1 0h1m1 0h1m1 0h1m3 0h2m1 0h1M10 43.5h2m23 0h1m1 0h4m2 0h1m2 0h2m1 0h3m1 0h1m1 0h3m2 0h3m1 0h1M10 44.5h2m23 0h3m3 0h1m3 0h3m1 0h1m2 0h1m1 0h1m1 0h1m1 0h1m1 0h2m1 0h1M10 45.5h2m23 0h1m1 0h1m1 0h1m1 0h1m6 0h2m2 0h3m1 0h2m3 0h2M10 46.5h2m24 0h4m10 0h2m3 0h1m5 0h2M36 47.5h5m1 0h2m5 0h4m1 0h5M10 48.5h1m25 0h1m1 0h3m1 0h1m2 0h2m7 0h2m2 0h1m2 0h2M8 49.5h2m28 0h3m8 0h1m6 0h5m2 0h1M8 50.5h2m28 0h4m2 0h1m1 0h1m2 0h1m6 0h1m1 0h1m2 0h1m2 0h1M8 51.5h2m28 0h6m1 0h1m1 0h1m2 0h1m1 0h1m1 0h1m1 0h3m1 0h5M9 52.5h1m26 0h5m1 0h2m1 0h1m10 0h1m1 0h2m1 0h1M8 53.5h2m26 0h1m2 0h4m1 0h1m1 0h3m11 0h2m1 0h1M8 54.5h2m26 0h4m1 0h1m1 0h6m13 0h1m1 0h1M8 55.5h2m26 0h1m1 0h8m18 0h1M36 56.5h1m1 0h3m2 0h4m1 0h2m8 0h1M8 57.5h2m26 0h4m3 0h3m1 0h1m3 0h1M8 58.5h2m27 0h3m3 0h2m1 0h1m2 0h1M8 59.5h2m27 0h9m3 0h2M8 60.5h2m26 0h10m1 0h1m4 0h1M8 61.5h1m28 0h1m1 0h1m1 0h3m1 0h1m2 0h1m1 0h1M36 62.5h1m1 0h2m1 0h6m5 0h1M36 63.5h3m1 0h5m1 0h2m4 0h2M8 64.5h2m26 0h2m1 0h1m1 0h2m2 0h1m3 0h1m3 0h1M9 65.5h1m27 0h1m2 0h4m3 0h1m2 0h3M9 66.5h1m26 0h3m2 0h1m1 0h2m5 0h1M9 67.5h2m25 0h3m1 0h4m1 0h1M10 68.5h1m25 0h4m1 0h3M10 69.5h1m25 0h1m1 0h6M9 70.5h2m25 0h2m1 0h3m1 0h1m1 0h2M10 71.5h1m25 0h2m1 0h2m3 0h2M10 72.5h1m25 0h4m2 0h1m1 0h2m3 0h1m1 0h1m4 0h1M10 73.5h1m25 0h3m1 0h3m3 0h2m9 0h1M38 74.5h1m1 0h1m1 0h1m2 0h3M36 75.5h3m1 0h5m2 0h1M9 76.5h1m26 0h2m1 0h1m7 0h1M9 77.5h1m1 0h1m23 0h6m1 0h1M10 78.5h2m23 0h8M10 79.5h1m23 0h7m1 0h2M11 80.5h1m22 0h2m3 0h1m1 0h1M10 81.5h3m21 0h1m4 0h1m2 0h1M11 82.5h2m21 0h2m3 0h1M11 83.5h2m20 0h1m2 0h1M12 84.5h1m20 0h1m1 0h1m1 0h1M12 85.5h1m19 0h2m2 0h1M11 86.5h3m20 0h2M13 87.5h1m18 0h2m2 0h2M12 88.5h4m15 0h2m1 0h1M12 89.5h2m1 0h1m15 0h4M13 90.5h4m13 0h2m1 0h3M13 91.5h1m1 0h3m12 0h3M14 92.5h1m1 0h1m1 0h3m8 0h1m2 0h1M19 93.5h1m1 0h1m6 0h1m1 0h2M18 94.5h4m5 0h2M17 95.5h1m1 0h2m2 0h1m2 0h1m1 0h3M17 96.5h1m1 0h2m3 0h1m1 0h2M18 97.5h1m2 0h2m1 0h1M22 98.5h3" stroke="#323aa4" stroke-opacity="0.82" stroke-width="1"/><path d="M27 26.5h2M24 27.5h1m1 0h3M21 28.5h2m1 0h2m1 0h2M20 29.5h2m1 0h2m1 0h2M19 30.5h4m1 0h1m2 0h1M18 31.5h2m1 0h6m1 0h1M17 32.5h2m1 0h3m1 0h4m1 0h2M16 33.5h2m2 0h8m1 0h2M16 34.5h1m2 0h5m1 0h6M15 35.5h6m1 0h10M15 36.5h3m1 0h2m1 0h2m3 0h5M15 37.5h4m1 0h2m1 0h1m4 0h1m1 0h1M14 38.5h1m1 0h1m1 0h5m5 0h4M16 39.5h3m1 0h2m7 0h4M13 40.5h4m1 0h2m10 0h3M12 41.5h4m1 0h2m12 0h2M12 42.5h3m1 0h2m12 0h2m1 0h1M14 43.5h4m13 0h3M12 44.5h2m1 0h2m15 0h3M12 45.5h1m1 0h3m15 0h1m1 0h1M12 46.5h4m18 0h2M12 47.5h1m1 0h1m18 0h3M11 48.5h3m19 0h1m1 0h1M11 49.5h2m21 0h2M12 50.5h1m21 0h2m1 0h1M10 51.5h4m20 0h3M10 52.5h3m21 0h2M10 53.5h3m20 0h2M10 54.5h3m20 0h1m1 0h1M10 55.5h2m21 0h3M11 56.5h1m21 0h2m7 0h1M10 57.5h3m22 0h1m5 0h2M10 58.5h1m1 0h1m21 0h1m1 0h1m5 0h1M11 59.5h2m21 0h2M10 60.5h2m22 0h2M10 61.5h3m21 0h2M9 62.5h4m21 0h2M10 63.5h2m21 0h3M10 64.5h2m21 0h1m1 0h1M10 65.5h2m21 0h1m1 0h2M10 66.5h3m20 0h3M11 67.5h2m21 0h2M11 68.5h1m22 0h2M12 69.5h1m20 0h2M33 70.5h2m7 0h1M32 71.5h2m1 0h1m5 0h3M11 72.5h2m19 0h3m5 0h1M12 73.5h1m18 0h3M12 74.5h2m17 0h1m1 0h4M12 75.5h2m17 0h3m1 0h1M14 76.5h1m16 0h1m1 0h1M13 77.5h1m17 0h4M12 78.5h2m17 0h2m1 0h1M13 79.5h2m16 0h1m1 0h1M12 80.5h5m14 0h3M13 81.5h1m3 0h1m11 0h5M13 82.5h5m11 0h5M13 83.5h6m9 0h2m1 0h1M13 84.5h1m3 0h2m9 0h4M13 85.5h6m9 0h2M14 86.5h2m1 0h2m9 0h2m1 0h1M14 87.5h1m1 0h4m7 0h5M16 88.5h6m4 0h3M17 89.5h2m1 0h4m1 0h6M18 90.5h4m1 0h3m2 0h2M18 91.5h4m1 0h2m2 0h1m1 0h1M21 92.5h4m1 0h2M22 93.5h6M23 94.5h2m1 0h1M25 95.5h1" stroke="#2a38a8" stroke-width="1"/><path d="M24 36.5h1m1 0h1M24 37.5h4M23 38.5h5M22 39.5h3m2 0h2M21 40.5h3m4 0h2M20 41.5h2m7 0h1M18 42.5h3M18 43.5h2m9 0h2M18 44.5h2m10 0h1M17 45.5h2m11 0h2M16 46.5h3m11 0h3M15 47.5h3m11 0h4M14 48.5h3m12 0h4M14 49.5h2m14 0h4M14 50.5h2m15 0h3M14 51.5h1m17 0h2M13 52.5h2m17 0h1M13 53.5h1m18 0h1M13 54.5h1m18 0h1M12 55.5h2m18 0h1M12 56.5h2m18 0h1M13 57.5h1m18 0h2M13 58.5h1m19 0h1M13 59.5h1m18 0h1M13 60.5h1m17 0h2M13 61.5h1m17 0h2M13 62.5h1m17 0h1M12 63.5h2M12 64.5h2m17 0h2M13 65.5h1m17 0h2M13 66.5h2m16 0h2M14 67.5h1m16 0h2M13 68.5h2m16 0h2M13 69.5h1m17 0h2M13 70.5h1m17 0h2M30 71.5h2M14 72.5h1m14 0h2M14 73.5h1m14 0h2M14 74.5h2m13 0h2M15 75.5h1m13 0h2M15 76.5h2m12 0h2M15 77.5h2m12 0h2M17 78.5h1m11 0h2M16 79.5h2m11 0h2M17 80.5h1m10 0h2M18 81.5h1m8 0h2M18 82.5h2m7 0h1M19 83.5h1m6 0h2M19 84.5h1m6 0h2M20 85.5h1m5 0h2M19 86.5h3m4 0h2M20 87.5h7M22 88.5h3" stroke="#2d62d8" stroke-width="1"/><path d="M25 39.5h2M24 40.5h4M22 41.5h2m3 0h2M21 42.5h2m5 0h1M20 43.5h2m6 0h1M20 44.5h1m8 0h1M19 45.5h1m8 0h2M19 46.5h1m8 0h2M18 47.5h1m9 0h1M17 48.5h2m9 0h1M16 49.5h2m11 0h1M16 50.5h1m13 0h1M15 51.5h1m14 0h2M15 52.5h1m15 0h1M14 53.5h1m16 0h1M14 54.5h1m16 0h1M14 55.5h1m16 0h1M14 56.5h1M14 57.5h1M14 58.5h1m16 0h1M14 59.5h1m15 0h2M14 60.5h1m15 0h1M14 61.5h1m15 0h1M14 62.5h1M14 63.5h1m16 0h1M14 64.5h1M14 65.5h1M15 66.5h1M15 67.5h1M15 68.5h1m14 0h1M14 69.5h1m15 0h1M14 70.5h1m14 0h2M14 71.5h1m13 0h2M28 72.5h1M15 73.5h1m11 0h2M16 74.5h1m10 0h2M16 75.5h2m9 0h2M17 76.5h1m10 0h1M17 77.5h1m10 0h1M18 78.5h1m9 0h1M18 79.5h1m9 0h1M18 80.5h1m8 0h1M19 81.5h1m6 0h1M20 82.5h1m4 0h2M20 83.5h1m4 0h1M20 84.5h2m3 0h1M21 85.5h2m1 0h2M22 86.5h4" stroke="#28a8e4" stroke-width="1"/><path d="M24 41.5h3M23 42.5h1m3 0h1M22 43.5h1m4 0h1M21 44.5h1m6 0h1M20 45.5h1m6 0h1M20 46.5h1m6 0h1M19 47.5h1m7 0h1M19 48.5h1m7 0h1M18 49.5h1m9 0h1M17 50.5h1m11 0h1M16 51.5h1M30 52.5h1M15 53.5h1m14 0h1M15 54.5h1m14 0h1M15 55.5h1M15 56.5h1m15 0h1M15 57.5h1m15 0h1M15 58.5h1m14 0h1M15 59.5h1m13 0h1M15 60.5h1m13 0h1M15 61.5h1m13 0h1M30 62.5h1M30 63.5h1M15 64.5h1m14 0h1M15 65.5h1m14 0h1M16 66.5h1m13 0h1M16 67.5h1m13 0h1M16 68.5h1M15 69.5h1m13 0h1M15 70.5h1m12 0h1M15 71.5h1m11 0h1M15 72.5h1m10 0h2M16 73.5h1m9 0h1M17 74.5h1m7 0h2M18 75.5h1m7 0h1M18 76.5h1m8 0h1M18 77.5h1m8 0h1M27 78.5h1M27 79.5h1M19 80.5h1m5 0h2M20 81.5h6M21 82.5h4M21 83.5h4M22 84.5h3M23 85.5h1" stroke="#30c8b0" stroke-width="1"/><path d="M24 42.5h3M23 43.5h4M22 44.5h6M21 45.5h6M21 46.5h6M20 47.5h7M20 48.5h7M19 49.5h9M18 50.5h6m2 0h3M17 51.5h3m8 0h2M16 52.5h3m9 0h2M16 53.5h2m11 0h1M16 54.5h2m11 0h1M16 55.5h3m10 0h2M16 56.5h3m10 0h2M16 57.5h3m8 0h4M16 58.5h2m9 0h3M16 59.5h2m9 0h2M16 60.5h2m9 0h2M16 61.5h2m10 0h1M15 62.5h3m10 0h2M15 63.5h3m10 0h2M16 64.5h3m8 0h3M16 65.5h5m5 0h4M17 66.5h5m4 0h4M17 67.5h4m6 0h3M17 68.5h4m6 0h3M16 69.5h5m5 0h3M16 70.5h7m2 0h3M16 71.5h11M16 72.5h10M17 73.5h9M18 74.5h7M19 75.5h7M19 76.5h8M19 77.5h3m2 0h3M19 78.5h8M19 79.5h8M20 80.5h5" stroke="#48c048" stroke-width="1"/><path d="M24 50.5h2M20 51.5h5m2 0h1M19 52.5h5M18 53.5h2m8 0h1M18 54.5h2m8 0h1M19 55.5h1m8 0h1M19 56.5h1m7 0h2M19 57.5h1m5 0h2M18 58.5h1m5 0h3M18 59.5h1m5 0h3M18 60.5h1m6 0h2M18 61.5h1m7 0h2M18 62.5h2m6 0h2M18 63.5h2m3 0h5M19 64.5h8M21 65.5h5M22 66.5h4M21 67.5h6M21 68.5h6M21 69.5h5M23 70.5h2M22 77.5h2" stroke="#a8d430" stroke-width="1"/><path d="M25 51.5h2M24 52.5h1m2 0h1M20 53.5h4M20 54.5h4M20 55.5h3m4 0h1M20 56.5h4m2 0h1M20 57.5h5M19 58.5h1m2 0h2M19 59.5h1m2 0h2M19 60.5h1m3 0h2M19 61.5h1m3 0h3M20 62.5h1m1 0h4M20 63.5h3" stroke="#f0dc18" stroke-width="1"/><path d="M25 52.5h2M24 53.5h1m2 0h1M27 54.5h1M23 55.5h2M24 56.5h2M20 58.5h2M20 59.5h2M20 60.5h1m1 0h1M20 61.5h1m1 0h1M21 62.5h1" stroke="#f4a012" stroke-width="1"/><path d="M25 53.5h2M24 54.5h3M25 55.5h2M21 60.5h1M21 61.5h1" stroke="#e43018" stroke-width="1"/>
</g>
<g transform="translate(167,302.6)" filter="url(#soft)">
<path d="M19 3.5h1M46 6.5h1m13 0h1M20 7.5h1m5 0h1m33 0h1M22 9.5h1m7 0h1M40 11.5h1M39 12.5h1m19 0h1m45 0h1M18 16.5h1M12 18.5h2m50 0h1M22 19.5h1m25 0h1M73 20.5h1M4 21.5h1m18 0h1m72 0h1M72 23.5h1M8 24.5h2m29 0h1M12 25.5h1M71 26.5h2M31 27.5h1m5 0h1m15 0h1m1 0h2m29 0h1M7 28.5h1m48 0h1m10 0h1m9 0h1M55 29.5h1m5 0h1m20 0h1m6 0h1M9 30.5h1m18 0h1m8 0h1m5 0h2m5 0h1m3 0h1m12 0h1m12 0h2M25 31.5h1m5 0h1m5 0h1m12 0h1m2 0h1m10 0h1m21 0h1m6 0h1M23 32.5h1m2 0h1m3 0h1m3 0h1m17 0h3m10 0h1m4 0h1m6 0h1M29 33.5h1m3 0h1m7 0h1m1 0h1m6 0h1m3 0h1m13 0h3m3 0h1M25 34.5h1m6 0h1m3 0h2m17 0h1m1 0h1m5 0h3m11 0h1m2 0h2m4 0h1M26 35.5h2m1 0h1m2 0h1m1 0h1m43 0h1M3 36.5h1m21 0h1m1 0h4m29 0h1m15 0h1m7 0h1M26 37.5h1m1 0h1m48 0h1m3 0h1M2 38.5h1m75 0h1m1 0h1M1 39.5h1m8 0h1m70 0h1m15 0h1M10 40.5h1m70 0h1m2 0h1M84 41.5h1m10 0h1M10 42.5h1m74 0h1M7 43.5h1m2 0h1m72 0h1M88 45.5h1m3 0h1M85 46.5h1M84 47.5h2M86 48.5h1M88 49.5h1M86 50.5h2M87 51.5h2m11 0h1M101 53.5h1M88 54.5h1M8 55.5h1M24 56.5h1m81 0h1M89 57.5h1M9 58.5h1m79 0h1m2 0h1m7 0h1M25 59.5h1m1 0h1m1 0h2m1 0h1m2 0h1m2 0h1m3 0h2m12 0h1M24 60.5h1m7 0h1m5 0h1m14 0h1M25 61.5h1m10 0h1m1 0h1m2 0h1m9 0h1m2 0h1m4 0h1m30 0h1M31 62.5h2m6 0h1m12 0h1m3 0h1M24 63.5h1m1 0h2m1 0h1m2 0h2m1 0h1m6 0h1m9 0h1m50 0h1M24 64.5h1m7 0h1m7 0h1m6 0h1m5 0h1m5 0h2m29 0h1M6 65.5h1m2 0h1m20 0h2m2 0h1m2 0h3m10 0h1m9 0h1m29 0h1m3 0h1M3 66.5h1m4 0h1m23 0h1m1 0h2m2 0h1m2 0h1m4 0h1m4 0h1m6 0h1M34 67.5h1m9 0h2m1 0h1m3 0h1m40 0h1M24 68.5h2m9 0h1m1 0h1m2 0h3m7 0h1m4 0h1m2 0h2m31 0h1M24 69.5h1m4 0h4m1 0h1m8 0h1m1 0h1m2 0h1m1 0h1m5 0h1m34 0h1M33 70.5h1m5 0h1m6 0h1m1 0h1m1 0h3m3 0h1m3 0h1m31 0h1M24 71.5h1m5 0h1m2 0h1m3 0h2m2 0h1m5 0h1m3 0h1m1 0h1m38 0h1M24 72.5h1m4 0h3m19 0h2m4 0h1m33 0h1M29 73.5h1m7 0h1m1 0h1m1 0h1m2 0h1m7 0h1m1 0h1m1 0h1m4 0h1m29 0h1M27 74.5h1m1 0h2m9 0h2m1 0h1m1 0h1m7 0h1m5 0h1m1 0h1m30 0h1M28 75.5h1m4 0h1m14 0h4m3 0h1m1 0h1M5 76.5h1m18 0h1m8 0h1m2 0h1m2 0h1m2 0h1m14 0h2m4 0h1m29 0h1M10 77.5h1m15 0h1m7 0h1m4 0h1m4 0h4m1 0h1m41 0h2m2 0h1M5 78.5h1m27 0h1m9 0h1m2 0h1m1 0h3m2 0h1m38 0h1m2 0h1M10 79.5h1m14 0h1m11 0h1m7 0h1m1 0h2m15 0h2M1 80.5h1m35 0h1m8 0h1m1 0h1m17 0h1m24 0h1m2 0h1M35 81.5h1m9 0h1m3 0h2m1 0h1m6 0h1m1 0h1M10 82.5h1m17 0h1m30 0h1m2 0h1m2 0h2M10 83.5h2m12 0h1m8 0h1m22 0h1m36 0h1M8 84.5h1m15 0h1m15 0h2m50 0h1M24 85.5h1m8 0h1m3 0h1m1 0h2m4 0h1m8 0h1m5 0h1m7 0h2M53 86.5h1m12 0h1m1 0h2M5 87.5h1m18 0h1m5 0h1m3 0h1m1 0h2m28 0h1m2 0h1m19 0h2M39 88.5h1m11 0h1m36 0h2m4 0h1M39 89.5h1m31 0h1m16 0h1M15 90.5h1m10 0h1m38 0h1m21 0h1m1 0h1m2 0h1M15 91.5h2m17 0h1m52 0h1m15 0h1m2 0h1M31 92.5h1m6 0h1m7 0h2m20 0h1m18 0h1m2 0h1M31 93.5h1m20 0h1m18 0h1m5 0h2m8 0h1m1 0h1m1 0h2M40 94.5h1m1 0h1m13 0h1m14 0h1m2 0h1m3 0h2m4 0h1m1 0h2m2 0h1m8 0h1M36 95.5h1m2 0h1m8 0h2m18 0h1m8 0h1m9 0h1m1 0h1M27 96.5h1m28 0h1m13 0h1m14 0h1m3 0h1M78 97.5h1M47 98.5h1m30 0h1M18 99.5h1m62 0h1M30 100.5h1m10 0h1m31 0h1m12 0h1M80 101.5h1M72 102.5h1M24 103.5h1m19 0h1M52 104.5h1m30 0h1m12 0h1M19 105.5h1" stroke="#5860bc" stroke-opacity="0.5" stroke-width="1"/><path d="M16 17.5h1M14 18.5h2m4 0h1M14 19.5h1m6 0h1M13 21.5h1m8 0h1M13 22.5h1m8 0h1M13 23.5h1m8 0h1M13 24.5h1M13 26.5h1M13 27.5h1m7 0h1M21 28.5h1M12 30.5h1m8 0h1M21 31.5h1M12 32.5h1m9 0h1M11 33.5h1M22 34.5h2m19 0h3m1 0h1m1 0h3m17 0h1m2 0h1M11 35.5h1m10 0h2m15 0h3m1 0h1m1 0h4m4 0h1m2 0h2m7 0h1m3 0h2M10 36.5h1m12 0h1m12 0h2m2 0h1m1 0h4m3 0h1m1 0h2m1 0h1m3 0h2m5 0h6m1 0h1m2 0h1M10 37.5h1m18 0h1m2 0h5m19 0h1m3 0h1m1 0h2m4 0h1m2 0h2M11 38.5h1m11 0h3m1 0h1m3 0h1m2 0h2m21 0h3m1 0h1m1 0h1m4 0h1m4 0h3M11 39.5h1m13 0h2m1 0h1m1 0h1m28 0h1m1 0h3m1 0h3m7 0h2m1 0h2M23 40.5h1m1 0h1m3 0h1m33 0h1m1 0h2m8 0h4m1 0h1M23 41.5h7m49 0h1M11 42.5h1m12 0h2m1 0h1M25 43.5h1m55 0h2M11 44.5h1m12 0h2m55 0h2M23 45.5h1m1 0h2m55 0h1M24 46.5h1M11 47.5h1m10 0h4m57 0h1M12 48.5h1m10 0h1m1 0h1m57 0h1M22 49.5h3m59 0h1M22 50.5h4m57 0h3M12 51.5h1m13 0h1m57 0h1M22 52.5h1m3 0h1m59 0h1M23 53.5h1m1 0h3m58 0h2M11 54.5h2m12 0h1m2 0h1m31 0h1M22 55.5h1m2 0h2m2 0h3m1 0h1m1 0h1m22 0h1m2 0h1m25 0h2M11 56.5h1m10 0h1m4 0h5m1 0h1m2 0h1m1 0h4m2 0h5m2 0h1m1 0h5m1 0h3m25 0h1M10 57.5h2m16 0h1m3 0h2m1 0h1m2 0h1m2 0h1m2 0h2m1 0h6m1 0h1m2 0h1m1 0h1m1 0h1m25 0h2M10 58.5h1m12 0h1m7 0h3m4 0h2m2 0h1m1 0h1m2 0h4m5 0h1m4 0h1M40 59.5h1m46 0h1M49 60.5h1m11 0h1m26 0h1M23 61.5h1m63 0h1M61 62.5h1m25 0h2M23 63.5h1m36 0h1m1 0h1M10 64.5h1m12 0h1m38 0h1M23 65.5h2m36 0h2m26 0h1M23 66.5h1m65 0h1M23 67.5h1m38 0h1m26 0h2M10 68.5h1m12 0h1m38 0h1m26 0h1M10 69.5h1M63 70.5h1M10 71.5h1m12 0h1m38 0h3M23 72.5h1m38 0h1m26 0h2M23 73.5h1m38 0h1m2 0h1m23 0h2M65 74.5h1m23 0h1M10 75.5h1m11 0h2m40 0h1m1 0h1M10 76.5h1m55 0h1M11 77.5h1m54 0h1m22 0h2M22 78.5h1m44 0h1m21 0h1M11 79.5h1m10 0h1m44 0h1m22 0h1M22 80.5h1m44 0h2m21 0h1M88 81.5h3M13 82.5h1m8 0h1m46 0h1m18 0h2M13 83.5h1m8 0h1m45 0h2m18 0h2M21 84.5h1m48 0h2m16 0h1M21 85.5h1m49 0h1m18 0h1M71 86.5h2m14 0h1M13 87.5h1m7 0h1m49 0h1m1 0h1m11 0h3M13 88.5h1m6 0h1m53 0h3m5 0h2m1 0h3M14 89.5h2m3 0h2m54 0h6m1 0h4m1 0h1M18 90.5h1m56 0h1m5 0h1m2 0h1m1 0h1M78 91.5h1m3 0h2M78 92.5h2m2 0h2M79 93.5h1" stroke="#323aa4" stroke-opacity="0.82" stroke-width="1"/><path d="M16 18.5h3M16 19.5h5M14 20.5h1m5 0h2M20 21.5h2M14 22.5h1m5 0h2M20 23.5h2M14 24.5h1m5 0h2M14 25.5h1m5 0h2M21 26.5h1M20 27.5h1M14 28.5h1m5 0h1M13 29.5h2m5 0h1M14 30.5h1m5 0h1M13 31.5h2m5 0h1M13 32.5h1m5 0h3M13 33.5h1m6 0h2M12 34.5h1m7 0h1M12 35.5h1m7 0h2M12 36.5h1m7 0h1m27 0h1M12 37.5h1m8 0h2m19 0h1m1 0h1m3 0h1m1 0h2m1 0h1M12 38.5h1m8 0h2m15 0h3m1 0h1m2 0h3m1 0h1m1 0h1m2 0h1m16 0h1M12 39.5h1m9 0h1m8 0h2m1 0h1m1 0h2m1 0h2m4 0h1m2 0h4m4 0h1m1 0h1m9 0h1m1 0h5M30 40.5h1m1 0h2m3 0h1m1 0h3m1 0h1m1 0h3m2 0h1m1 0h1m1 0h1m3 0h1m3 0h1m4 0h5m1 0h2M12 41.5h1m9 0h1m7 0h8m1 0h2m3 0h1m1 0h6m1 0h2m1 0h3m1 0h3m1 0h5m1 0h2m1 0h3M12 42.5h1m8 0h1m8 0h4m1 0h3m2 0h1m15 0h1m2 0h3m1 0h1m1 0h4m2 0h1m1 0h3m1 0h1m1 0h1M12 43.5h1m8 0h2m4 0h1m1 0h1m1 0h2m1 0h2m1 0h1m1 0h1m5 0h5m9 0h2m2 0h3m1 0h4m1 0h2m2 0h1m1 0h2M21 44.5h1m5 0h6m2 0h4m17 0h2m2 0h5m1 0h3m3 0h3m1 0h2m1 0h2M12 45.5h1m8 0h2m5 0h3m2 0h3m9 0h1m4 0h1m5 0h1m1 0h1m2 0h2m1 0h1m1 0h1m7 0h6m1 0h1M12 46.5h2m7 0h1m4 0h2m3 0h1m4 0h2m1 0h1m1 0h2m1 0h2m4 0h1m6 0h1m1 0h1m1 0h1m1 0h4m8 0h4m2 0h1M12 47.5h2m6 0h2m6 0h5m4 0h1m1 0h3m10 0h1m4 0h8m11 0h6M14 48.5h1m5 0h2m6 0h1m1 0h1m3 0h6m1 0h1m1 0h1m10 0h4m4 0h4m12 0h5M13 49.5h2m5 0h1m6 0h1m2 0h2m1 0h1m3 0h1m5 0h1m1 0h2m5 0h2m1 0h5m3 0h3m13 0h3M13 50.5h2m5 0h2m7 0h3m2 0h6m1 0h7m5 0h6m1 0h3m16 0h4M13 51.5h2m5 0h1m10 0h1m2 0h2m2 0h1m2 0h4m3 0h1m2 0h7m2 0h1m2 0h2m15 0h4M13 52.5h2m5 0h1m10 0h3m1 0h2m1 0h2m3 0h1m1 0h1m1 0h4m1 0h1m1 0h2m1 0h3m2 0h1m18 0h1m1 0h1M13 53.5h2m5 0h2m7 0h1m2 0h1m1 0h3m2 0h2m1 0h1m1 0h7m2 0h2m1 0h1m1 0h1m1 0h1m1 0h2m18 0h3M13 54.5h2m5 0h2m8 0h4m2 0h1m1 0h1m1 0h1m1 0h1m2 0h2m1 0h2m1 0h9m2 0h1m1 0h1m18 0h1M12 55.5h2m6 0h2m14 0h4m2 0h3m1 0h1m1 0h2m1 0h1m3 0h3m5 0h2m20 0h2M12 56.5h2m6 0h1m41 0h1m1 0h1m18 0h4M12 57.5h2m6 0h2m40 0h1m20 0h2M11 58.5h2m8 0h2m39 0h1m1 0h1m18 0h3M11 59.5h2m8 0h2m39 0h3m18 0h2M11 60.5h2m9 0h1m39 0h3m18 0h3M12 61.5h1m8 0h2m39 0h3m21 0h1M11 62.5h2m8 0h1m41 0h1m20 0h2M11 63.5h2m9 0h1m41 0h1m19 0h2m1 0h1M11 64.5h2m9 0h1m40 0h1m20 0h1m1 0h1M11 65.5h2m9 0h1m40 0h2m20 0h1m1 0h1M11 66.5h2m9 0h1m41 0h1m21 0h1m1 0h1M11 67.5h1m52 0h2m20 0h3M11 68.5h2m51 0h2m21 0h2M11 69.5h2m9 0h1m40 0h2m22 0h2M11 70.5h2m9 0h1m43 0h2m19 0h2M11 71.5h1m10 0h1m42 0h4m18 0h1m1 0h1M11 72.5h2m8 0h1m43 0h1m1 0h1m19 0h2M11 73.5h2m9 0h1m44 0h2m18 0h2M11 74.5h2m8 0h2m44 0h2m18 0h2M11 75.5h2m7 0h1m46 0h2m18 0h1M12 76.5h1m7 0h2m45 0h3m16 0h3M12 77.5h2m6 0h1m47 0h2m17 0h2M12 78.5h2m6 0h2m46 0h2m16 0h3M12 79.5h3m5 0h1m47 0h1m1 0h2m13 0h4M13 80.5h2m5 0h2m47 0h3m12 0h2m1 0h2M20 81.5h2m47 0h1m1 0h2m12 0h2M14 82.5h1m5 0h1m50 0h3m1 0h1m7 0h2m1 0h2M14 83.5h1m56 0h1m1 0h4m5 0h6M13 84.5h2m5 0h1m53 0h5m3 0h1m1 0h1m1 0h1M13 85.5h2m60 0h8m1 0h4M13 86.5h1m6 0h1m53 0h5m3 0h4M18 87.5h3m54 0h4m4 0h1M14 88.5h1m1 0h4m58 0h4M17 89.5h1" stroke="#2a38a8" stroke-width="1"/><path d="M16 20.5h4M15 21.5h2m2 0h1M15 22.5h1M15 23.5h1M15 24.5h1M15 25.5h1m3 0h1M15 26.5h1m3 0h1M15 27.5h1m3 0h1M15 28.5h1m3 0h1M15 29.5h1m3 0h1M15 30.5h1m3 0h1M15 31.5h1m3 0h1M14 32.5h2m2 0h1M14 33.5h1m3 0h2M13 34.5h1m5 0h1M13 35.5h1M13 36.5h1m5 0h1M19 37.5h2M13 38.5h1m5 0h2M13 39.5h1m6 0h1M13 40.5h1m6 0h1M13 41.5h1m6 0h1M13 42.5h1m6 0h1m21 0h3m7 0h3M13 43.5h1m6 0h1m19 0h2m2 0h1m6 0h3m1 0h1M13 44.5h1m6 0h1m19 0h5m3 0h2m1 0h5m15 0h1M13 45.5h1m6 0h1m21 0h2m3 0h3m1 0h2m1 0h2m12 0h5M14 46.5h1m4 0h2m25 0h1m1 0h2m3 0h1m13 0h8M14 47.5h2m3 0h1m14 0h1m15 0h1m16 0h3m3 0h3M15 48.5h1m2 0h2m27 0h4m16 0h2m5 0h3M15 49.5h1m2 0h2m28 0h4m14 0h2m7 0h3M15 50.5h1m2 0h1m46 0h2m10 0h2M15 51.5h1m49 0h2m12 0h1M15 52.5h1m3 0h1m45 0h2m13 0h1M15 53.5h1m3 0h1m45 0h1m14 0h2M15 54.5h1m3 0h1m45 0h1m15 0h1M14 55.5h1m3 0h2m45 0h1m15 0h2M14 56.5h1m3 0h2m45 0h1m16 0h1M14 57.5h1m51 0h1m15 0h1M13 58.5h1m5 0h1m45 0h2m15 0h1M13 59.5h1m51 0h2m15 0h1M13 60.5h1m6 0h1m44 0h1m16 0h1M13 61.5h1m6 0h1m44 0h2m15 0h2M13 62.5h1m6 0h1m45 0h1m16 0h1M13 63.5h1m51 0h2m16 0h1M13 64.5h1m7 0h1m43 0h2m16 0h1M21 65.5h1m43 0h2m16 0h2M21 66.5h1m43 0h3m16 0h2M12 67.5h1m53 0h2m17 0h1M66 68.5h1m19 0h1M13 69.5h1m7 0h1m45 0h1m17 0h2M13 70.5h1m7 0h1m47 0h1m15 0h2M21 71.5h1m47 0h1m15 0h2M20 72.5h1m48 0h1m15 0h2M13 73.5h1m6 0h1m48 0h1m15 0h1M13 74.5h1m5 0h2m48 0h2m14 0h1M13 75.5h2m4 0h1m49 0h2m14 0h2M13 76.5h2m4 0h1m51 0h1m13 0h1M14 77.5h2m2 0h2m50 0h2m12 0h2M14 78.5h3m1 0h2m51 0h2m12 0h1M15 79.5h1m3 0h1m52 0h2m9 0h2M15 80.5h1m3 0h1m52 0h1m1 0h3m5 0h2M15 81.5h1m3 0h1m54 0h5m1 0h4M15 82.5h1m3 0h1m56 0h7M15 83.5h1m3 0h1m57 0h5M15 84.5h1m3 0h1M15 85.5h1m2 0h1M15 86.5h1m2 0h1M16 87.5h2" stroke="#2d62d8" stroke-width="1"/><path d="M17 21.5h2M16 22.5h1m2 0h1M16 23.5h1m2 0h1M16 24.5h1m2 0h1M16 25.5h1M16 26.5h1M16 27.5h1m1 0h1M16 28.5h1m1 0h1M16 29.5h1m1 0h1M16 30.5h3M16 31.5h2M16 32.5h2M15 33.5h1m1 0h1M14 34.5h1m3 0h1M14 35.5h1m3 0h1M14 36.5h1m3 0h1M14 37.5h1m3 0h1M14 38.5h1M14 39.5h1M14 40.5h1m4 0h1M14 41.5h1m4 0h1M14 42.5h1m4 0h1M14 43.5h1M14 44.5h1m4 0h1M14 45.5h1m4 0h1M15 46.5h1m2 0h1M16 47.5h3m51 0h3M16 48.5h2m51 0h5M16 49.5h2m50 0h2m4 0h1M16 50.5h2m49 0h2m6 0h2M16 51.5h3m58 0h2M16 52.5h3m48 0h1m11 0h1M16 53.5h3m47 0h1m12 0h1M16 54.5h3m61 0h1M15 55.5h3m48 0h1M15 56.5h1m1 0h1m48 0h1m14 0h1M18 57.5h1m62 0h1M14 58.5h1m52 0h1m13 0h1M14 59.5h1m4 0h1m47 0h1m13 0h1M14 60.5h1m4 0h1m47 0h2m12 0h1M14 61.5h1m52 0h2M67 62.5h1m14 0h1M20 63.5h1m46 0h1m14 0h1M20 64.5h1m46 0h1m14 0h1M13 65.5h1m53 0h2M13 66.5h1m54 0h1m14 0h1M13 67.5h1m7 0h1m46 0h2m13 0h2M13 68.5h1m7 0h1m47 0h1m14 0h1M69 69.5h1m14 0h1M70 70.5h1m13 0h1M13 71.5h1m6 0h1m49 0h1m13 0h1M13 72.5h1m5 0h1m50 0h1m13 0h1M19 73.5h1m50 0h1m13 0h1M14 74.5h1m3 0h1m52 0h1m12 0h1M15 75.5h4m52 0h2m11 0h1M15 76.5h4m53 0h2m10 0h1M16 77.5h2m54 0h3m8 0h1M17 78.5h1m55 0h3m6 0h2M16 79.5h3m55 0h6m1 0h2M16 80.5h3m59 0h4M16 81.5h3M16 82.5h3M16 83.5h3M16 84.5h3M16 85.5h2M16 86.5h2" stroke="#28a8e4" stroke-width="1"/><path d="M17 22.5h2M17 23.5h2M17 24.5h2M17 25.5h2M17 26.5h2M17 27.5h1M17 28.5h1M17 29.5h1M16 33.5h1M15 34.5h3M15 35.5h1M15 36.5h1M15 37.5h1M15 38.5h1m1 0h2M15 39.5h1m2 0h1M15 40.5h1m2 0h1M18 41.5h1M19 43.5h1M15 45.5h2m1 0h1M16 46.5h2M70 49.5h4M69 50.5h1M68 51.5h1m7 0h1M68 52.5h1m9 0h1M67 53.5h1M67 54.5h1m11 0h1M67 55.5h1m12 0h1M16 56.5h1m50 0h1m12 0h1M15 57.5h3m49 0h1m12 0h1M15 58.5h1m2 0h1m49 0h1m11 0h1M18 59.5h1m49 0h1m11 0h1M80 60.5h1M19 61.5h1m61 0h1M14 62.5h1m4 0h1m48 0h1m12 0h1M14 63.5h1m53 0h1M68 64.5h1M20 65.5h1m48 0h1m12 0h1M69 66.5h1m12 0h1M70 67.5h1m11 0h1M70 68.5h1m12 0h1M14 69.5h1m55 0h1m12 0h1M14 70.5h1m5 0h1m50 0h1m11 0h1M14 71.5h1m4 0h1m51 0h1m11 0h1M14 72.5h1m56 0h2m10 0h1M14 73.5h1m3 0h1m52 0h2m10 0h1M15 74.5h3m54 0h2m9 0h1M73 75.5h2m8 0h1M74 76.5h2m7 0h1M75 77.5h2m5 0h1M76 78.5h6M80 79.5h1" stroke="#30c8b0" stroke-width="1"/><path d="M16 35.5h1M16 36.5h1M16 37.5h1M16 38.5h1M16 39.5h1M16 40.5h2M15 41.5h3M15 42.5h3M15 43.5h4M15 44.5h4M17 45.5h1M70 50.5h4M69 51.5h3m1 0h3M69 52.5h2m5 0h2M68 53.5h2m7 0h2M68 54.5h2m7 0h2M68 55.5h2m7 0h3M68 56.5h2m7 0h3M68 57.5h2m7 0h3M16 58.5h2m51 0h3m5 0h3M15 59.5h3m51 0h3m5 0h3M15 60.5h4m50 0h2m6 0h3M15 61.5h4m50 0h2m6 0h4M15 62.5h1m2 0h1m50 0h2m6 0h4M15 63.5h1m53 0h2m7 0h4M14 64.5h1m4 0h1m49 0h2m8 0h3M14 65.5h1m4 0h1m50 0h2m8 0h2M14 66.5h1m5 0h1m49 0h2m8 0h2M14 67.5h1m5 0h1m50 0h1m8 0h2M14 68.5h2m4 0h1m50 0h2m8 0h2M15 69.5h1m3 0h2m50 0h2m7 0h3M15 70.5h1m2 0h2m52 0h2m5 0h4M15 71.5h4m53 0h3m2 0h6M15 72.5h4m54 0h10M15 73.5h3m55 0h10M74 74.5h9M75 75.5h8M76 76.5h7M77 77.5h5" stroke="#48c048" stroke-width="1"/><path d="M72 51.5h1M71 52.5h1m3 0h1M70 53.5h1m5 0h1M70 55.5h1M70 56.5h1m5 0h1M70 57.5h3m3 0h1M72 58.5h2m2 0h1M72 59.5h2m1 0h2M72 60.5h1m2 0h2M71 61.5h1m4 0h1M16 62.5h2m53 0h1m4 0h1M18 63.5h1m52 0h1m4 0h2M15 64.5h1m2 0h1m52 0h1m5 0h2M15 65.5h1m62 0h2M15 66.5h1m3 0h1m52 0h1m6 0h1M15 67.5h1m3 0h1m52 0h1m6 0h1M19 68.5h1m53 0h1m5 0h2M16 69.5h3m54 0h1m4 0h2M16 70.5h2m56 0h5M75 71.5h2" stroke="#a8d430" stroke-width="1"/><path d="M72 52.5h3M71 53.5h1M76 54.5h1M76 55.5h1M71 56.5h1M73 57.5h3M74 58.5h2M74 59.5h1M73 60.5h2M72 61.5h1m2 0h1M75 62.5h1M16 63.5h2m57 0h1M72 64.5h1m2 0h2M18 65.5h1m53 0h1m3 0h2M18 66.5h1m54 0h1m3 0h2M18 67.5h1m54 0h1m3 0h2M16 68.5h3m58 0h2M74 69.5h4" stroke="#f0dc18" stroke-width="1"/><path d="M72 53.5h1m2 0h1M71 55.5h1M72 56.5h1m2 0h1M73 61.5h2M72 62.5h1m1 0h1M72 63.5h1m1 0h1M16 64.5h2m55 0h2M16 65.5h1m56 0h3M74 66.5h3M16 67.5h2m56 0h1m1 0h1M74 68.5h3" stroke="#f4a012" stroke-width="1"/><path d="M73 53.5h2M72 54.5h4M72 55.5h4M73 56.5h2M73 62.5h1M73 63.5h1M17 65.5h1M16 66.5h2M75 67.5h1" stroke="#e43018" stroke-width="1"/>
</g>
<g transform="translate(42,434.2)" filter="url(#soft)">
<path d="M27 2.5h1m17 0h1M48 3.5h1M19 5.5h1m14 0h1M23 6.5h1m10 0h1m5 0h1M68 7.5h1M35 8.5h1m4 0h1M29 9.5h1m3 0h1m10 0h1M40 10.5h1m20 0h1m9 0h1m16 0h1M28 11.5h1m1 0h1m1 0h1m25 0h1M21 12.5h1m9 0h2m4 0h2M17 13.5h2m2 0h1m16 0h1m3 0h1M18 14.5h1m9 0h1m4 0h1m19 0h1m1 0h1m50 0h1M11 15.5h1m8 0h1m2 0h1m5 0h1m3 0h1m2 0h1m9 0h1M12 16.5h1m1 0h1m16 0h1m7 0h1m2 0h1m1 0h1M14 17.5h2m14 0h1m6 0h1m2 0h1m12 0h1m8 0h1M9 18.5h1m2 0h3m25 0h1m4 0h1m13 0h1M14 19.5h1m18 0h3m3 0h1m10 0h1m23 0h1M9 20.5h1m25 0h1m3 0h1m1 0h1m3 0h1m4 0h1m5 0h1m3 0h1m6 0h1m11 0h1m26 0h1M14 21.5h1m16 0h1m1 0h1m1 0h1m1 0h1m19 0h1m10 0h1m17 0h1M12 22.5h1m46 0h1M7 23.5h1m5 0h2m20 0h2m1 0h2m1 0h2m4 0h1m42 0h1M11 24.5h1m23 0h1m2 0h1m12 0h1m7 0h1m5 0h1M12 25.5h1m21 0h1m2 0h2m9 0h1M13 26.5h1m27 0h1m8 0h1m6 0h1m8 0h1m18 0h1M34 27.5h1m3 0h2m2 0h1m4 0h1m4 0h1m3 0h1M9 28.5h1m2 0h1m1 0h2m20 0h1m1 0h3m3 0h1m8 0h2m1 0h1m3 0h1m10 0h1m1 0h1M12 29.5h1m28 0h1m1 0h1m9 0h1m3 0h1m3 0h1m4 0h1m26 0h1M15 30.5h1m25 0h1m20 0h2m5 0h1m13 0h1m1 0h1m15 0h1m3 0h1M13 31.5h1m1 0h1m26 0h1m10 0h1m3 0h1m3 0h1m4 0h1m1 0h1m2 0h1m12 0h1M52 32.5h2m4 0h1m4 0h1m5 0h2M49 33.5h1m4 0h2m2 0h1m3 0h1m2 0h1m1 0h1m31 0h1M14 34.5h1m27 0h1m1 0h1m2 0h1m2 0h1m4 0h1m2 0h1m2 0h2m3 0h1m18 0h1m10 0h1M48 35.5h1m1 0h1m3 0h2m2 0h1m7 0h2m1 0h1m1 0h1m1 0h1m11 0h1M14 36.5h1m27 0h1m3 0h1m2 0h2m3 0h2m6 0h2m3 0h1m1 0h1m19 0h1m7 0h1M44 37.5h6m6 0h1m4 0h1m9 0h1M11 38.5h1m30 0h1m1 0h1m1 0h1m1 0h1m5 0h1m3 0h1m4 0h1m2 0h1m3 0h1m4 0h1m27 0h1M6 39.5h1m34 0h1m1 0h2m3 0h1m6 0h1m3 0h1m2 0h1m2 0h2m1 0h1m15 0h1m15 0h1M43 40.5h1m1 0h1m15 0h1m11 0h1M46 41.5h1m7 0h2m2 0h2m1 0h1m4 0h1m5 0h1M12 42.5h1m33 0h3m10 0h1m6 0h1m2 0h1m11 0h1m16 0h1M12 43.5h1m61 0h1m27 0h1M64 44.5h1m4 0h1m1 0h2m6 0h1m8 0h1m2 0h1M11 45.5h1m58 0h1m32 0h2M11 46.5h1m55 0h1m1 0h1m2 0h2m10 0h1M12 47.5h1m39 0h1m6 0h4m33 0h1M7 48.5h1m54 0h3m17 0h1m8 0h1M59 49.5h2m2 0h4m4 0h1m3 0h1m2 0h1m18 0h1M12 50.5h1m47 0h4m1 0h1m1 0h1m3 0h1m14 0h1m10 0h1M71 51.5h2m25 0h1m6 0h1M62 52.5h2m1 0h1m6 0h1m4 0h1m15 0h1m9 0h2M63 53.5h1m1 0h1m2 0h1m15 0h1m13 0h1M11 54.5h1m61 0h1m1 0h1m3 0h1m4 0h1m12 0h1m8 0h1M11 55.5h1m48 0h2m1 0h3m13 0h2M57 56.5h1m6 0h1m1 0h1m7 0h2m7 0h2m18 0h2M67 57.5h1m8 0h1m7 0h1m4 0h1m5 0h1m5 0h1M11 58.5h1m45 0h3m5 0h2m12 0h1m5 0h1m10 0h1m1 0h2M56 59.5h2m3 0h1m3 0h1m2 0h3m11 0h1m8 0h1m12 0h1M55 60.5h3m3 0h1m1 0h1m1 0h1m20 0h1m5 0h1M58 61.5h1m13 0h2m2 0h1m2 0h1m8 0h1m10 0h1M11 62.5h1m44 0h1m1 0h1m1 0h1m3 0h1m13 0h1m1 0h1M56 63.5h1m1 0h1m1 0h2m4 0h1m3 0h2m1 0h1m11 0h1m19 0h1M10 64.5h2m33 0h1m9 0h1m1 0h2M10 65.5h1m46 0h1m1 0h1m3 0h1m21 0h1M45 66.5h1m2 0h2m8 0h1m2 0h2m1 0h1m13 0h1m11 0h1m5 0h1m6 0h1M10 67.5h1m34 0h4m1 0h3m4 0h3m3 0h1m10 0h1m12 0h1M11 68.5h1m43 0h1m2 0h3m1 0h2m2 0h1m36 0h1M7 69.5h1m3 0h1m33 0h1m7 0h1m3 0h1m2 0h2m3 0h1m7 0h1m2 0h1m11 0h1M46 70.5h1m4 0h2m2 0h2m3 0h2M7 71.5h1m38 0h3m2 0h1m3 0h1m7 0h1m2 0h1m1 0h1m4 0h1m15 0h1M54 72.5h1m1 0h1m11 0h2m12 0h1M12 73.5h1m33 0h1m2 0h1m5 0h1m12 0h1m2 0h1m1 0h1m7 0h1m2 0h1m5 0h1M11 74.5h2m33 0h2m4 0h1m2 0h2m1 0h1m1 0h1M11 75.5h1m37 0h2m1 0h1m2 0h1m2 0h1m26 0h1m17 0h1M59 76.5h1M60 77.5h1M49 78.5h1m16 0h1m25 0h1M47 79.5h1m9 0h1m1 0h1m1 0h1M36 80.5h1m7 0h1m5 0h1m7 0h1m21 0h1m2 0h1M13 81.5h1m22 0h1m6 0h1m3 0h1m8 0h2m42 0h1M13 82.5h1m23 0h1m4 0h1m4 0h1m1 0h1M39 83.5h1m1 0h1m2 0h2m2 0h1m10 0h1m5 0h1m24 0h1M13 84.5h2m22 0h1m6 0h1m3 0h2m8 0h3m1 0h1m6 0h1m14 0h1m8 0h1m12 0h1M42 85.5h2m4 0h1m1 0h1M42 86.5h1m12 0h1m32 0h1m5 0h1m1 0h1M13 87.5h1m24 0h1m1 0h1m3 0h1M16 88.5h1m20 0h1m1 0h1m1 0h1m4 0h1m1 0h1m1 0h1m6 0h1m35 0h1M16 89.5h1m19 0h1m3 0h1M14 90.5h1m2 0h1m16 0h1m4 0h1m6 0h1m26 0h1m19 0h1M36 91.5h2m4 0h2m1 0h1M20 92.5h1m18 0h1m2 0h1m6 0h1m9 0h1m36 0h1M18 93.5h2m11 0h1m3 0h1m10 0h1m10 0h1m2 0h1m32 0h1M18 94.5h1m1 0h1m8 0h4m2 0h1m1 0h1m5 0h1M18 95.5h1m1 0h4m5 0h1m2 0h2m1 0h1m4 0h1M15 96.5h1m1 0h1m4 0h1m1 0h1m2 0h1m10 0h1m43 0h1M15 97.5h2m1 0h1m6 0h1m2 0h1m4 0h1m1 0h1m1 0h1m2 0h1m3 0h1m8 0h1M17 98.5h1m2 0h1m5 0h1m1 0h1m76 0h1M21 99.5h1m1 0h1m1 0h1m1 0h1m2 0h1m3 0h1m1 0h2m1 0h1m1 0h1M16 100.5h1m7 0h1m6 0h1m1 0h1m6 0h1m5 0h1m30 0h1M39 101.5h1m7 0h1m2 0h1M42 102.5h1m2 0h1M30 103.5h1m5 0h1m1 0h1M27 104.5h1m10 0h1m3 0h1m6 0h1M20 105.5h1m11 0h1" stroke="#5860bc" stroke-opacity="0.5" stroke-width="1"/><path d="M23 16.5h2m2 0h1M22 17.5h7M17 18.5h1m4 0h2m1 0h4M16 19.5h1m3 0h1m2 0h2m1 0h2M17 20.5h1m3 0h2m1 0h1m1 0h2m1 0h1M16 21.5h3m1 0h3m1 0h6M15 22.5h1m1 0h3m2 0h6m2 0h3M15 23.5h15m2 0h1M14 24.5h2m2 0h2m1 0h1m1 0h2m3 0h3M14 25.5h1m3 0h2m1 0h1m1 0h1m6 0h1M17 26.5h5m9 0h2M17 27.5h1m1 0h2m11 0h2M18 28.5h2m10 0h2M16 29.5h1m13 0h1m1 0h1m3 0h1m1 0h1m10 0h1m1 0h1M17 30.5h2m11 0h2m2 0h3m8 0h1m1 0h1m1 0h2M16 31.5h2m13 0h1m1 0h1m2 0h2m1 0h2m4 0h1m1 0h1m2 0h1M16 32.5h2m13 0h1m2 0h1m2 0h1m6 0h1m3 0h2m1 0h1M15 33.5h3m14 0h2m2 0h3m2 0h1m8 0h1M17 34.5h1m15 0h1m1 0h5M15 35.5h2m16 0h1m1 0h1m1 0h4M16 36.5h1m17 0h1m2 0h4M15 37.5h1m18 0h8m8 0h1M15 38.5h1m18 0h1m2 0h2m1 0h1m12 0h1M14 39.5h1m19 0h1m1 0h4m12 0h2M34 40.5h7m8 0h1m2 0h2M14 41.5h1m19 0h1m1 0h1m1 0h1m1 0h2M35 42.5h3m2 0h1m4 0h1m6 0h2M13 43.5h2m20 0h3m1 0h2m1 0h1m7 0h3m2 0h1m2 0h5M13 44.5h2m21 0h3m1 0h3m2 0h4m1 0h1m2 0h1m1 0h3m3 0h1M13 45.5h1m22 0h2m1 0h2m1 0h7m1 0h1m3 0h2m3 0h2m2 0h1M14 46.5h1m23 0h1m2 0h1m2 0h2m1 0h2m5 0h1m1 0h1m7 0h1M13 47.5h2m22 0h4m3 0h1m1 0h3m4 0h2M14 48.5h1m21 0h1m1 0h6m1 0h3m1 0h2m1 0h3m1 0h2M14 49.5h1m21 0h6m2 0h1m1 0h1m1 0h1m5 0h1m1 0h1M13 50.5h2m21 0h12m1 0h1m1 0h1m1 0h2m2 0h2M37 51.5h12m2 0h1m1 0h1m1 0h1M13 52.5h1m22 0h2m1 0h1m2 0h1m3 0h4m1 0h2m2 0h1m1 0h2m1 0h1M13 53.5h1m22 0h1m1 0h1m1 0h3m1 0h1m2 0h1m2 0h1m2 0h2m1 0h2M12 54.5h2m22 0h8m1 0h1m1 0h2m2 0h1m6 0h1M12 55.5h1m23 0h3m1 0h6m1 0h1m1 0h3m1 0h4M12 56.5h2m22 0h6m3 0h2m1 0h1m2 0h2M12 57.5h2m22 0h7m1 0h1m2 0h1m2 0h2m1 0h3M12 58.5h2m22 0h2m1 0h2m1 0h2m1 0h2m2 0h1m1 0h4M12 59.5h2m22 0h2m1 0h1m1 0h2m2 0h2m1 0h1m4 0h2M13 60.5h1m22 0h2m1 0h2m3 0h1m3 0h1m3 0h3M37 61.5h2m1 0h3m4 0h2m1 0h3m1 0h1M38 62.5h2m1 0h2m1 0h1m2 0h1m3 0h1m1 0h2M13 63.5h1m24 0h1m3 0h1m1 0h1m1 0h3m3 0h2M12 64.5h1m25 0h3m1 0h1m4 0h8M12 65.5h2m25 0h2m1 0h1m1 0h1m5 0h1m1 0h1m1 0h1M13 66.5h2m23 0h2m1 0h2m9 0h4M13 67.5h2m23 0h1m1 0h2M13 68.5h1m22 0h2m1 0h5m1 0h1M13 69.5h1m22 0h1m1 0h4m1 0h1M12 70.5h2m22 0h3m1 0h3M13 71.5h1m23 0h2m1 0h1m1 0h1M13 72.5h2m21 0h1m1 0h3m1 0h1M14 73.5h1m20 0h4m2 0h2M13 74.5h1m21 0h1m2 0h1m3 0h2M13 75.5h2m28 0h1m1 0h1M14 76.5h1m19 0h1m2 0h1m3 0h4M14 77.5h1m19 0h1m2 0h5m2 0h1M14 78.5h1m19 0h4m1 0h3m1 0h1M14 79.5h1m21 0h1m5 0h2M14 80.5h1m19 0h1m4 0h2M15 81.5h1m17 0h1m4 0h1m3 0h1M15 82.5h1m17 0h1m1 0h1m3 0h1M14 83.5h2m16 0h1M15 84.5h1m15 0h2m1 0h1M15 85.5h1m1 0h1m14 0h2m1 0h1M17 86.5h3m11 0h3m1 0h1M19 87.5h1m11 0h1M18 88.5h3m9 0h3m1 0h2M19 89.5h1m1 0h1m6 0h4M19 90.5h3m5 0h4m2 0h1M20 91.5h1m1 0h2m1 0h3m1 0h1m4 0h1M21 92.5h2m1 0h4m5 0h2M24 93.5h2m1 0h1M24 94.5h3M25 95.5h1" stroke="#323aa4" stroke-opacity="0.82" stroke-width="1"/><path d="M25 24.5h1m1 0h1M25 25.5h3M23 26.5h1m1 0h2m1 0h1M21 27.5h3m2 0h2m1 0h1M20 28.5h1m1 0h3m1 0h1m1 0h1M21 29.5h2m2 0h2m1 0h1M19 30.5h11M18 31.5h7m1 0h4M19 32.5h9m1 0h2M20 33.5h1m1 0h5m2 0h1M22 34.5h1m5 0h1m1 0h3M17 35.5h1m1 0h3m5 0h4m1 0h1M18 36.5h1m1 0h1m8 0h1m1 0h1m1 0h1M16 37.5h1m2 0h3m8 0h4M17 38.5h2m1 0h2m9 0h1m1 0h1M17 39.5h2m1 0h2m9 0h2M15 40.5h6m10 0h3M15 41.5h5m11 0h2M17 42.5h3m11 0h3M16 43.5h3m13 0h3M15 44.5h3m14 0h4M15 45.5h1m17 0h1M15 46.5h3m15 0h3M15 47.5h2m17 0h1M15 48.5h1m17 0h3M16 49.5h1m17 0h2M16 50.5h1m16 0h1m1 0h1M34 51.5h1M14 52.5h1m1 0h1m16 0h2M15 53.5h1m17 0h3M14 54.5h2m17 0h3M14 55.5h2m18 0h2M15 56.5h1m17 0h3M14 57.5h2m17 0h1M14 58.5h2m17 0h2M14 59.5h2m19 0h1M14 60.5h1m19 0h2M14 61.5h2m19 0h2M13 62.5h3m19 0h3M15 63.5h2m18 0h1M16 64.5h1m17 0h1M16 65.5h1m17 0h2m1 0h1M16 66.5h1m16 0h5M15 67.5h1m17 0h2m1 0h2M14 68.5h3m16 0h3M14 69.5h3m16 0h1M14 70.5h1m1 0h1m16 0h3M14 71.5h3m16 0h2M15 72.5h1m17 0h2M15 73.5h1m17 0h1M15 74.5h1m17 0h2M16 75.5h1m14 0h1M16 76.5h1m14 0h2M15 77.5h2m15 0h2M15 78.5h3m13 0h3M15 79.5h3m1 0h1m10 0h3M16 80.5h3m1 0h2m8 0h4M17 81.5h6m5 0h1m1 0h1m1 0h1M16 82.5h8m3 0h5M16 83.5h1m2 0h9m2 0h2M18 84.5h4m1 0h1m1 0h1m1 0h2M19 85.5h4m1 0h1m2 0h1m1 0h2M20 86.5h1m2 0h1m1 0h3m2 0h1M22 87.5h1m1 0h5M21 88.5h1m4 0h3M23 89.5h5M23 90.5h2m1 0h1" stroke="#2a38a8" stroke-width="1"/><path d="M23 34.5h1m1 0h1M23 35.5h4M22 36.5h2m1 0h3M22 37.5h8M22 38.5h2m3 0h4M22 39.5h1m6 0h1M22 40.5h1m7 0h1M21 41.5h1m8 0h1M20 42.5h2m8 0h1M20 43.5h1m9 0h1M19 44.5h2m10 0h1M18 45.5h2m11 0h2M18 46.5h1m13 0h1M17 47.5h2m13 0h1M17 48.5h1m14 0h1M17 49.5h1m14 0h1M17 50.5h1m14 0h1M17 51.5h1M32 52.5h1M32 53.5h1M16 54.5h1m15 0h1M16 55.5h1M16 56.5h1m15 0h1M16 57.5h1m15 0h1M16 58.5h1m15 0h1M16 59.5h1m15 0h1M16 60.5h1m15 0h1M16 61.5h1m16 0h1M17 62.5h1m15 0h2M17 63.5h1m15 0h2M17 64.5h1m15 0h1M17 65.5h2m13 0h2M17 66.5h2m13 0h1M18 67.5h1m13 0h1M17 68.5h1m13 0h2M17 69.5h1m13 0h2M17 70.5h2m12 0h2M17 71.5h2m12 0h2M17 72.5h2m12 0h2M17 73.5h1m13 0h1M17 74.5h1m12 0h2M17 75.5h2m10 0h2M18 76.5h1m10 0h2M17 77.5h5m6 0h3M18 78.5h5m5 0h1m1 0h1M20 79.5h4m3 0h3M22 80.5h3m1 0h4M23 81.5h3m1 0h1M24 82.5h2" stroke="#2d62d8" stroke-width="1"/><path d="M24 38.5h3M23 39.5h2m2 0h2M23 40.5h1m5 0h1M22 41.5h1m6 0h1M22 42.5h1m6 0h1M21 43.5h1m7 0h1M21 44.5h1m7 0h2M20 45.5h1m9 0h1M19 46.5h1m11 0h1M19 47.5h1m11 0h1M18 48.5h1m12 0h1M18 49.5h1m12 0h1M31 50.5h1M31 51.5h1M17 52.5h1m13 0h1M17 53.5h1m13 0h1M17 54.5h1m13 0h1M17 55.5h1m13 0h1M17 56.5h1m13 0h1M17 57.5h1m13 0h1M17 58.5h1m13 0h1M17 59.5h1m13 0h1M17 60.5h1m13 0h1M17 61.5h1m13 0h2M18 62.5h1m13 0h1M18 63.5h1m13 0h1M18 64.5h2m12 0h1M19 65.5h1m11 0h1M19 66.5h1m11 0h1M19 67.5h1m11 0h1M18 68.5h1M18 69.5h1m11 0h1M19 70.5h1m10 0h1M19 71.5h1m10 0h1M19 72.5h1m10 0h1M18 73.5h1m10 0h2M18 74.5h1m10 0h1M19 75.5h1m8 0h1M19 76.5h3m5 0h2M22 77.5h2m3 0h1M23 78.5h5M25 79.5h2M25 80.5h1" stroke="#28a8e4" stroke-width="1"/><path d="M25 39.5h2M24 40.5h1m3 0h1M23 41.5h1m4 0h1M23 42.5h1m4 0h1M22 43.5h1m5 0h1M22 44.5h1m5 0h1M21 45.5h1m5 0h3M20 46.5h1m7 0h3M28 47.5h3M19 48.5h1m9 0h2M30 49.5h1M18 50.5h1m11 0h1M18 51.5h1m11 0h1M18 52.5h1M18 54.5h1M18 55.5h1M18 56.5h1M18 57.5h1m11 0h1M18 58.5h1m11 0h1M18 59.5h1m11 0h1M18 60.5h1m11 0h1M18 61.5h1m10 0h2M19 62.5h1m9 0h3M19 63.5h1m10 0h2M20 64.5h1m9 0h2M20 65.5h1m9 0h1M20 66.5h1m9 0h1M20 67.5h1m9 0h1M19 68.5h2m9 0h1M19 69.5h2M20 70.5h1M20 71.5h1m8 0h1M20 72.5h1m7 0h2M19 73.5h1m7 0h2M19 74.5h1m7 0h2M20 75.5h3m4 0h1M22 76.5h2m2 0h1M24 77.5h3" stroke="#30c8b0" stroke-width="1"/><path d="M25 40.5h3M24 41.5h4M24 42.5h4M23 43.5h5M23 44.5h5M22 45.5h5M21 46.5h7M20 47.5h4m1 0h3M20 48.5h3m3 0h3M19 49.5h3m4 0h4M19 50.5h3m5 0h3M19 51.5h2m8 0h1M19 52.5h1m9 0h2M18 53.5h2m9 0h2M19 54.5h1m9 0h2M19 55.5h2m8 0h2M19 56.5h3m7 0h2M19 57.5h4m5 0h2M19 58.5h4m5 0h2M19 59.5h4m5 0h2M19 60.5h4m5 0h2M19 61.5h4m4 0h2M20 62.5h3m4 0h2M20 63.5h3m4 0h3M21 64.5h3m4 0h2M21 65.5h2m5 0h2M21 66.5h2m5 0h2M21 67.5h2m5 0h2M21 68.5h3m3 0h3M21 69.5h9M21 70.5h9M21 71.5h8M21 72.5h7M20 73.5h7M20 74.5h7M23 75.5h4M24 76.5h2" stroke="#48c048" stroke-width="1"/><path d="M24 47.5h1M23 48.5h3M22 49.5h2m1 0h1M22 50.5h1m3 0h1M21 51.5h2m4 0h2M20 52.5h1m7 0h1M20 53.5h1M20 54.5h1M21 55.5h1m6 0h1M22 56.5h2m3 0h2M23 57.5h1m3 0h1M23 58.5h1m3 0h1M23 59.5h1m3 0h1M23 60.5h1m3 0h1M23 61.5h1m2 0h1M23 62.5h4M23 63.5h4M24 64.5h4M23 65.5h2m2 0h1M23 66.5h1m3 0h1M23 67.5h2m1 0h2M24 68.5h3" stroke="#a8d430" stroke-width="1"/><path d="M24 49.5h1M23 50.5h3M23 51.5h2m1 0h1M21 52.5h3m3 0h1M21 53.5h1m5 0h2M21 54.5h1m4 0h3M22 55.5h6M24 56.5h3M24 57.5h3M24 58.5h3M24 59.5h1m1 0h1M24 60.5h3M24 61.5h2M25 65.5h2M24 66.5h3M25 67.5h1" stroke="#f0dc18" stroke-width="1"/><path d="M25 51.5h1M24 52.5h3M22 53.5h5M22 54.5h4M25 59.5h1" stroke="#f4a012" stroke-width="1"/>
</g>
<g transform="translate(167,434.2)" filter="url(#soft)">
<path d="M80 3.5h1M7 10.5h1m10 0h1M89 11.5h1M21 13.5h1m2 0h1M24 14.5h1M16 15.5h1m1 0h1M16 16.5h2m5 0h2m4 0h1m50 0h1M16 17.5h2m5 0h1m7 0h1M12 18.5h2m8 0h1m1 0h1M11 19.5h1m11 0h1m1 0h1m1 0h1m18 0h1M42 20.5h1m41 0h1M9 21.5h1M26 23.5h1m3 0h1M12 24.5h1m14 0h1m1 0h1m3 0h1m21 0h1m32 0h1M9 25.5h1m16 0h1m16 0h1m34 0h1M12 26.5h1m18 0h1m1 0h1M27 27.5h1m38 0h1M8 28.5h1m31 0h1m39 0h1M10 29.5h1m13 0h2m8 0h1m18 0h1m3 0h1m19 0h1M30 30.5h1m3 0h1m1 0h1m2 0h1m5 0h1m12 0h1m3 0h1m2 0h1m1 0h1M59 31.5h2m15 0h1M6 32.5h1m26 0h1m10 0h1m2 0h1m1 0h1m4 0h1m5 0h1m1 0h1m7 0h1M8 33.5h1m19 0h3m2 0h1m17 0h2m6 0h1m2 0h1m7 0h1m6 0h1M29 34.5h2m34 0h1m8 0h1m2 0h1M57 35.5h1m2 0h1m3 0h1m3 0h1m2 0h1M60 36.5h4m2 0h2m1 0h1M66 37.5h1m1 0h1m2 0h1m2 0h1M67 38.5h1m1 0h1m2 0h1M71 39.5h1m7 0h1M80 40.5h1M2 41.5h1m72 0h1m2 0h1M78 42.5h1M77 43.5h2M3 44.5h1m79 0h1M78 45.5h2m21 0h1M79 47.5h1M8 48.5h1m71 0h1M5 50.5h1M83 51.5h1m2 0h1M86 52.5h1M86 53.5h1M7 55.5h1m2 0h1m74 0h1m9 0h1M88 56.5h1M3 57.5h1m1 0h1m80 0h1M10 58.5h1m80 0h1M2 60.5h1m21 0h2m20 0h2m47 0h1M9 61.5h1m20 0h1m2 0h1M25 62.5h1m1 0h1m4 0h1m9 0h1m1 0h1m1 0h1m42 0h1M8 63.5h1m1 0h1m13 0h1m2 0h2m3 0h1m1 0h2m1 0h1m7 0h1m6 0h1M34 64.5h2m6 0h1m4 0h1m2 0h2m2 0h2m40 0h1M10 65.5h1m14 0h1m2 0h1m2 0h1m3 0h2m1 0h1m10 0h1m1 0h1m2 0h2M27 66.5h1m4 0h1m5 0h1m2 0h2m1 0h1m8 0h1m1 0h2M27 67.5h1m1 0h1m7 0h1m4 0h3m1 0h1m4 0h2m38 0h1M9 68.5h1m17 0h1m3 0h1m1 0h2m2 0h4m2 0h2m1 0h1m1 0h3m1 0h1m3 0h1m1 0h1m1 0h1m33 0h1m3 0h1M10 69.5h1m13 0h1m2 0h4m8 0h1m1 0h1m2 0h1m47 0h1M24 70.5h2m3 0h1m3 0h1m1 0h1m2 0h2m3 0h1m2 0h1m4 0h2m3 0h1M26 71.5h1m2 0h1m8 0h2m2 0h4m3 0h2M28 72.5h1m11 0h1m1 0h1m3 0h1m4 0h1m5 0h1m2 0h1m1 0h1m30 0h1M31 73.5h1m1 0h1m4 0h1m2 0h1m1 0h1m2 0h1m3 0h1m4 0h1m4 0h1M11 74.5h1m12 0h1m7 0h1m8 0h1m2 0h1m4 0h1m1 0h1m7 0h1m1 0h1m34 0h1M36 75.5h1m4 0h1m3 0h1m2 0h1m3 0h1m1 0h1m4 0h2m1 0h1m1 0h1m32 0h1M11 76.5h1m20 0h1m1 0h1m5 0h1m1 0h2m5 0h1m1 0h1m1 0h1m4 0h1m4 0h1m1 0h1m28 0h1m4 0h1M24 77.5h1m11 0h1m5 0h1m3 0h1m2 0h1m5 0h1m5 0h1m3 0h2m27 0h1m3 0h1M23 78.5h1m3 0h1m7 0h1m3 0h1m7 0h1m2 0h1m3 0h1m1 0h1m6 0h1m1 0h2m33 0h1M26 79.5h1m3 0h1m3 0h1m4 0h1m4 0h1m2 0h1m9 0h1m6 0h2M11 80.5h1m19 0h1m5 0h2m1 0h2m6 0h2m1 0h1m1 0h1m6 0h1m2 0h1m34 0h1M10 81.5h1m22 0h1m10 0h1m21 0h1m29 0h1M39 82.5h1m1 0h2m3 0h1m18 0h1m29 0h1M8 83.5h1m3 0h1m10 0h1m14 0h1m2 0h1m1 0h1m3 0h1m15 0h1m4 0h1m26 0h1M9 84.5h1m29 0h1m18 0h1m6 0h1m5 0h1m24 0h2M40 85.5h1m1 0h2m2 0h1m2 0h1m4 0h1m1 0h1m7 0h1m2 0h1m3 0h2m21 0h1m3 0h1M44 86.5h1m8 0h1m13 0h1m4 0h1m24 0h1M13 87.5h1m24 0h1m4 0h1m6 0h1m1 0h1m1 0h1m20 0h1m17 0h1m1 0h2M6 88.5h1m7 0h1m6 0h1m20 0h1m9 0h1m21 0h1m18 0h2M42 89.5h1m3 0h1m48 0h1M9 90.5h1m3 0h1m6 0h1m6 0h1m7 0h1m3 0h1m1 0h2m2 0h1m2 0h1m28 0h2m13 0h1m2 0h1M14 91.5h1m6 0h1m13 0h1m37 0h1m4 0h1m13 0h1M22 92.5h1m31 0h1m27 0h1m8 0h1m1 0h1M16 93.5h2m34 0h1m13 0h1m22 0h2m1 0h1M25 94.5h1m45 0h1m13 0h1M43 95.5h1m40 0h1m4 0h1m1 0h1M80 96.5h1m11 0h1M32 97.5h1m1 0h1m45 0h1M24 98.5h1m19 0h1m14 0h1m14 0h1M56 99.5h1m28 0h1m7 0h1M54 100.5h1m25 0h1m12 0h1M56 101.5h1M57 105.5h1m23 0h1" stroke="#5860bc" stroke-opacity="0.5" stroke-width="1"/><path d="M16 18.5h2m3 0h1M16 19.5h1m1 0h4M15 20.5h3m1 0h1m1 0h1M19 21.5h5M14 22.5h1m2 0h8M16 23.5h4m1 0h1M16 24.5h1m5 0h1m2 0h1M14 25.5h1m7 0h3M13 26.5h1m9 0h1M12 27.5h2m7 0h3M12 28.5h1m9 0h1M12 29.5h1M11 30.5h1M11 31.5h1m11 0h1M11 33.5h1m22 0h2m1 0h1m2 0h1m3 0h1m1 0h1m1 0h1M24 34.5h1m9 0h5m1 0h7m2 0h1m2 0h1m2 0h1M10 35.5h1m16 0h1m1 0h1m4 0h1m6 0h3m1 0h2m1 0h3m1 0h1m2 0h1M10 36.5h1m13 0h3m1 0h1m1 0h1m1 0h1m1 0h1m16 0h2m1 0h3M10 37.5h1m15 0h6m23 0h2m3 0h2M60 38.5h2m4 0h1M9 39.5h1m49 0h1m1 0h1m2 0h4m1 0h1M60 40.5h8m3 0h1M9 41.5h1m53 0h1m2 0h3m1 0h2M9 42.5h2m52 0h1m1 0h1M10 43.5h1m52 0h1M73 44.5h3M10 45.5h1m63 0h2M75 46.5h1M11 47.5h1m64 0h3M10 48.5h1m66 0h1m1 0h1M11 49.5h1m66 0h2M11 50.5h1m68 0h2M81 51.5h2M12 52.5h1m69 0h2M22 53.5h1M12 54.5h1m9 0h2m59 0h2M22 55.5h1m1 0h3m1 0h4m51 0h2M12 56.5h1m9 0h4m3 0h1m1 0h1m1 0h2m23 0h1m26 0h1M12 57.5h1m10 0h1m2 0h1m1 0h1m4 0h1m1 0h1m1 0h1m1 0h1m1 0h2m14 0h3m24 0h2M12 58.5h1m14 0h1m5 0h6m1 0h2m1 0h4m1 0h3m3 0h1m1 0h4M11 59.5h1m14 0h2m6 0h1m1 0h1m1 0h1m3 0h3m1 0h1m1 0h2m3 0h1m1 0h5m26 0h1M35 60.5h2m1 0h4m1 0h2m4 0h1m1 0h2m1 0h4m1 0h2m26 0h2M11 61.5h1m22 0h2m3 0h1m8 0h2m3 0h1m4 0h2m1 0h1m25 0h2M11 62.5h1m11 0h1m10 0h1m14 0h1m1 0h1m1 0h2m1 0h2m2 0h2m25 0h1M11 63.5h1m43 0h3m2 0h3m25 0h1M11 64.5h1m11 0h1m36 0h1m27 0h2M62 65.5h1m26 0h1M11 66.5h1m49 0h1m28 0h1M23 67.5h1m38 0h1m26 0h1M11 68.5h1m11 0h1m37 0h3m27 0h1M23 69.5h1m38 0h2m26 0h2M23 70.5h1m40 0h1m25 0h2M63 71.5h1m27 0h1M23 72.5h1m41 0h1m25 0h2M11 73.5h2m52 0h1m25 0h2M12 74.5h1m52 0h2m25 0h2M12 75.5h1m10 0h1m43 0h1m24 0h1M12 76.5h1m54 0h1M22 77.5h1m44 0h1m24 0h1M12 78.5h1m55 0h1m23 0h2M12 79.5h1m55 0h2m22 0h1M69 80.5h1m22 0h2M13 81.5h1m55 0h2m22 0h1M13 82.5h1m7 0h2m46 0h1m1 0h2m20 0h1M13 83.5h2m6 0h1m50 0h1m19 0h2M13 84.5h2m6 0h1m52 0h1m16 0h1m1 0h1M14 85.5h1m5 0h2m51 0h2m15 0h2M14 86.5h2m4 0h2m52 0h4m11 0h3M14 87.5h6m56 0h3m9 0h2m1 0h1M16 88.5h5m56 0h4m8 0h1m1 0h2M15 89.5h1m65 0h2m4 0h2m3 0h1M81 90.5h5m1 0h2m1 0h1M18 91.5h1m64 0h1m4 0h1m1 0h1M84 92.5h3m1 0h1" stroke="#323aa4" stroke-opacity="0.82" stroke-width="1"/><path d="M20 23.5h1M17 24.5h4M15 25.5h4m1 0h1M14 26.5h2m1 0h4M14 27.5h1m1 0h5M13 28.5h1m1 0h1m2 0h4M13 29.5h2m6 0h1M12 30.5h2m8 0h1M13 31.5h1m7 0h2M12 32.5h1m9 0h1M22 33.5h2M23 34.5h1M12 35.5h1m10 0h1m12 0h4M11 36.5h1m11 0h1m11 0h1m1 0h10m3 0h1M23 37.5h1m10 0h1m1 0h4m2 0h1m1 0h7m1 0h2M10 38.5h2m11 0h1m1 0h3m2 0h5m1 0h3m1 0h1m1 0h1m1 0h4m2 0h6M11 39.5h1m11 0h8m3 0h1m3 0h1m4 0h1m1 0h1m1 0h2m2 0h3m3 0h1M11 40.5h1m11 0h1m1 0h1m2 0h1m1 0h1m1 0h3m1 0h6m3 0h2m6 0h2m1 0h1m2 0h1M10 41.5h1m12 0h3m1 0h7m1 0h2m1 0h3m5 0h1m2 0h1m4 0h3m1 0h3M23 42.5h2m1 0h1m2 0h1m2 0h1m1 0h3m11 0h2m5 0h5m1 0h1m5 0h1m1 0h1M11 43.5h2m10 0h1m2 0h5m2 0h2m1 0h2m18 0h1m2 0h4m1 0h3m1 0h1m2 0h1M11 44.5h2m11 0h3m2 0h1m5 0h1m20 0h1m3 0h4m2 0h2m1 0h4M11 45.5h2m9 0h7m29 0h8m1 0h4m1 0h1M12 46.5h1m10 0h1m1 0h1m2 0h1m27 0h2m1 0h10m1 0h4M12 47.5h2m8 0h1m1 0h1m1 0h2m1 0h1m25 0h6m1 0h6m1 0h5m1 0h1M12 48.5h2m7 0h1m1 0h6m1 0h1m24 0h1m2 0h1m1 0h1m1 0h2m4 0h1m2 0h2m2 0h2M13 49.5h2m7 0h3m1 0h1m4 0h1m22 0h2m2 0h5m10 0h2M12 50.5h4m2 0h3m5 0h1m1 0h3m23 0h3m1 0h1m1 0h1m1 0h1m12 0h1m3 0h1M14 51.5h2m2 0h3m1 0h1m2 0h2m1 0h3m17 0h1m1 0h2m1 0h1m4 0h2m1 0h2m13 0h2m1 0h1M14 52.5h2m3 0h3m2 0h1m1 0h7m16 0h4m2 0h4m1 0h3m16 0h3M14 53.5h1m6 0h1m1 0h4m1 0h3m3 0h1m1 0h2m1 0h2m1 0h1m1 0h1m1 0h6m1 0h1m1 0h1m1 0h2m1 0h2m19 0h1M13 54.5h1m6 0h1m10 0h7m5 0h1m1 0h2m2 0h3m1 0h1m1 0h1m1 0h6m19 0h1M13 55.5h2m6 0h1m10 0h1m3 0h4m1 0h1m1 0h3m1 0h2m1 0h2m1 0h9m1 0h1m16 0h1m1 0h1M13 56.5h1m6 0h2m15 0h3m1 0h1m1 0h1m1 0h2m1 0h4m1 0h1m2 0h2m1 0h1m2 0h2m16 0h1m1 0h2M13 57.5h1m7 0h1m21 0h1m1 0h4m2 0h2m1 0h3m3 0h2m1 0h1m17 0h3M60 58.5h5m16 0h2M13 59.5h1m7 0h1m38 0h2m1 0h2m17 0h4M12 60.5h2m8 0h1m38 0h2m1 0h1m19 0h1m1 0h1M12 61.5h2m8 0h1m40 0h2m20 0h2M12 62.5h1m9 0h1m39 0h4M13 63.5h1m8 0h1m40 0h3m19 0h1M12 64.5h2m49 0h2m21 0h2M12 65.5h1m9 0h1m40 0h1m2 0h1m19 0h3M12 66.5h2m8 0h1m40 0h1m1 0h2m21 0h1M12 67.5h2m7 0h2m41 0h3m20 0h2M13 68.5h1m7 0h2m42 0h2m20 0h3M13 69.5h1m7 0h2m41 0h1m1 0h1m21 0h2M12 70.5h2m8 0h1m42 0h3m20 0h2M12 71.5h2m7 0h2m42 0h1m2 0h1m19 0h1m1 0h1M12 72.5h2m7 0h2m43 0h4m18 0h3M13 73.5h1m7 0h2m44 0h4m17 0h3M13 74.5h1m7 0h1m45 0h4m17 0h4M13 75.5h2m5 0h3m45 0h1m1 0h1m19 0h1M20 76.5h2m47 0h3m15 0h1m1 0h2M14 77.5h1m4 0h1m48 0h3m1 0h1m16 0h2M13 78.5h1m5 0h2m48 0h1m1 0h3m13 0h2M13 79.5h2m4 0h3m48 0h1m3 0h1m10 0h4M13 80.5h1m1 0h1m4 0h1m51 0h1m1 0h3m8 0h7M15 81.5h2m3 0h2m50 0h4m8 0h8M17 82.5h3m53 0h4m7 0h5m1 0h2M15 83.5h4m1 0h1m53 0h3m7 0h1m1 0h5M16 84.5h3m1 0h1m54 0h1m1 0h10m1 0h2M15 85.5h5m57 0h4m1 0h2m1 0h1m2 0h2M16 86.5h4m58 0h1m1 0h2m1 0h3m1 0h2M79 87.5h5m1 0h2M82 88.5h1M83 89.5h1m1 0h1" stroke="#2a38a8" stroke-width="1"/><path d="M16 28.5h2M15 29.5h3m1 0h1M14 30.5h1m4 0h2M14 31.5h1m5 0h1M13 32.5h1m6 0h2M13 33.5h1m7 0h1M13 34.5h1m7 0h1M12 36.5h1m9 0h1M22 37.5h1M12 38.5h1m9 0h1M12 39.5h1m9 0h1M12 40.5h1m9 0h1m20 0h2M22 41.5h1m19 0h4m4 0h4M12 42.5h1m30 0h2m2 0h1m4 0h3M38 43.5h1m1 0h1m3 0h5m2 0h2m1 0h1M13 44.5h1m16 0h1m1 0h1m1 0h1m3 0h1m4 0h1m1 0h7m2 0h2M13 45.5h1m15 0h1m1 0h8m4 0h1m1 0h1m2 0h1m2 0h1m1 0h1m1 0h1M14 46.5h1m6 0h1m8 0h1m1 0h1m2 0h2m1 0h1m5 0h1m1 0h3m1 0h1m1 0h2m1 0h1M14 47.5h1m5 0h2m8 0h2m1 0h2m3 0h2m6 0h2m3 0h2M15 48.5h6m11 0h2m1 0h3m1 0h1m5 0h4m2 0h1m13 0h3M17 49.5h3m13 0h2m1 0h5m2 0h1m1 0h2m2 0h1m2 0h1m10 0h5m1 0h4M16 50.5h2m14 0h2m1 0h1m1 0h2m5 0h1m1 0h2m3 0h3m9 0h3m3 0h2m2 0h2M32 51.5h1m1 0h5m1 0h1m2 0h3m1 0h1m15 0h2m9 0h2M16 52.5h3m14 0h4m2 0h3m1 0h4m16 0h2m10 0h4M15 53.5h5m43 0h2m13 0h2M15 54.5h1m2 0h2m43 0h2m14 0h1M15 55.5h1m3 0h1m44 0h1m14 0h1M14 56.5h1m4 0h1m45 0h1m13 0h1M14 57.5h1m5 0h1m43 0h2m13 0h2M20 58.5h1m44 0h1m14 0h1M65 59.5h1m14 0h1M21 60.5h1m43 0h2m14 0h2M21 61.5h1m44 0h1m15 0h2M21 62.5h1m44 0h1m16 0h2M14 63.5h1m6 0h1m45 0h1m16 0h1M14 64.5h1m6 0h1m44 0h2m16 0h2M14 65.5h1m6 0h1m45 0h1m16 0h2M21 66.5h1m45 0h2m16 0h2M67 67.5h2m17 0h1M20 68.5h1m46 0h2m17 0h1M67 69.5h2m18 0h1M20 70.5h1m48 0h1m17 0h1M14 71.5h1m5 0h1m48 0h2m15 0h2M14 72.5h1m5 0h1m49 0h2m14 0h2M14 73.5h1m5 0h1m50 0h1m13 0h3M14 74.5h1m4 0h2m50 0h1m13 0h3M15 75.5h1m3 0h1m51 0h2m12 0h2M15 76.5h1m2 0h2m52 0h1m1 0h2m9 0h2M15 77.5h4m54 0h4m7 0h3M15 78.5h4m56 0h4m4 0h3M15 79.5h4m57 0h4m1 0h2M16 80.5h3m58 0h5m1 0h2M17 81.5h2m59 0h6M79 82.5h2m1 0h2M79 83.5h1m1 0h2" stroke="#2d62d8" stroke-width="1"/><path d="M15 30.5h4M19 31.5h1M14 32.5h1M20 33.5h1M13 35.5h1m7 0h1M13 36.5h1m7 0h1M13 37.5h1M13 38.5h1M21 39.5h1M21 40.5h1M21 41.5h1M13 42.5h1m7 0h1M13 43.5h1m7 0h1M14 44.5h1m6 0h1m18 0h1M14 45.5h1m24 0h1m1 0h2M15 46.5h1m4 0h1m18 0h1m1 0h2M15 47.5h5m23 0h2M41 48.5h3M42 49.5h1M41 50.5h2m23 0h3M65 51.5h9M65 52.5h2m6 0h2M65 53.5h2m8 0h3M16 54.5h2m47 0h2m10 0h2M16 55.5h1m1 0h1m46 0h2m11 0h1M15 56.5h1m2 0h1m47 0h1m11 0h1M19 57.5h1m46 0h1m11 0h1M14 58.5h1m51 0h1m12 0h1M14 59.5h1m5 0h1m45 0h1m12 0h1M14 60.5h1m5 0h1m46 0h1m12 0h1M14 61.5h1m5 0h1m46 0h1m13 0h1M14 62.5h1m5 0h1m46 0h1m13 0h2M20 63.5h1m47 0h1m13 0h2M20 64.5h1m47 0h1m13 0h2M20 65.5h1m47 0h1m13 0h2M14 66.5h1m5 0h1m48 0h1m13 0h2M14 67.5h1m5 0h1m48 0h1m14 0h2M14 68.5h1m54 0h1m15 0h1M14 69.5h1m54 0h1m16 0h1M14 70.5h1m55 0h1m15 0h1M71 71.5h1m13 0h1M84 72.5h2M15 73.5h1m3 0h1m52 0h1m11 0h1M15 74.5h1m2 0h1m53 0h1m11 0h1M16 75.5h3m54 0h2m9 0h1M16 76.5h2m58 0h1m6 0h2M77 77.5h2m3 0h2M79 78.5h4" stroke="#28a8e4" stroke-width="1"/><path d="M15 31.5h4M19 32.5h1M14 33.5h1M20 34.5h1M21 37.5h1M21 38.5h1M13 39.5h1M13 40.5h1M13 41.5h1M20 44.5h1M15 45.5h1m4 0h1M16 46.5h4M67 52.5h6M67 53.5h8M67 54.5h2m4 0h4M17 55.5h1m49 0h2m7 0h2M16 56.5h2m49 0h1m9 0h1M15 57.5h1m2 0h1m48 0h1M19 58.5h1m47 0h1m10 0h1M67 59.5h2M68 60.5h1m10 0h1M68 61.5h1m11 0h1M68 62.5h1m11 0h1M15 63.5h1m53 0h1m11 0h1M15 64.5h1m53 0h1m10 0h2M15 65.5h1m53 0h1m10 0h2M15 66.5h1m3 0h1m61 0h2M15 67.5h1m3 0h1m50 0h1m11 0h2M19 68.5h1m50 0h1m13 0h1M19 69.5h1m50 0h1m13 0h2M19 70.5h1m51 0h1m12 0h2M15 71.5h1m3 0h1m64 0h1M15 72.5h1m3 0h1m52 0h1m10 0h1M16 73.5h1m1 0h1m64 0h1M16 74.5h2m55 0h1m9 0h1M75 75.5h2m6 0h1M77 76.5h2m3 0h1M79 77.5h3" stroke="#30c8b0" stroke-width="1"/><path d="M15 32.5h3M15 33.5h5M14 34.5h2m3 0h1M14 35.5h1m4 0h2M14 36.5h1m5 0h1M14 37.5h1m5 0h1M14 38.5h1m5 0h1M14 39.5h1m5 0h1M14 40.5h1m5 0h1M14 41.5h1m4 0h2M14 42.5h2m3 0h2M15 43.5h2m2 0h2M16 44.5h4M16 45.5h2m1 0h1M69 54.5h4M69 55.5h7M68 56.5h9M16 57.5h2m50 0h10M15 58.5h4m49 0h5m2 0h3M15 59.5h1m2 0h2m49 0h3m5 0h2M15 60.5h1m3 0h1m49 0h3m5 0h2M15 61.5h1m3 0h1m49 0h3m6 0h2M15 62.5h2m1 0h2m49 0h3m6 0h2M16 63.5h4m50 0h2m6 0h3M16 64.5h4m50 0h10M16 65.5h4m50 0h10M16 66.5h3m51 0h11M16 67.5h3m52 0h11M15 68.5h4m52 0h3m2 0h8M15 69.5h4m52 0h3m5 0h5M15 70.5h4m53 0h2m6 0h4M16 71.5h3m53 0h3m5 0h4M16 72.5h3m54 0h2m5 0h3M17 73.5h1m55 0h3m4 0h3M74 74.5h4m2 0h3M77 75.5h6M79 76.5h3" stroke="#48c048" stroke-width="1"/><path d="M16 34.5h3M15 35.5h1M15 36.5h1m3 0h1M15 37.5h1m3 0h1M15 38.5h1m3 0h1M15 39.5h1m3 0h1M15 40.5h1m3 0h1M15 41.5h2M16 42.5h1m1 0h1M17 43.5h2M73 58.5h2M16 59.5h2m54 0h5M16 60.5h1m1 0h1m53 0h1m3 0h1M16 61.5h3m53 0h1m3 0h2M17 62.5h1m54 0h1m3 0h2M72 63.5h6M74 68.5h2M74 69.5h5M74 70.5h6M75 71.5h2m1 0h2M75 72.5h5M76 73.5h4M78 74.5h2" stroke="#a8d430" stroke-width="1"/><path d="M18 35.5h1M18 36.5h1M18 37.5h1M18 38.5h1M16 39.5h1m1 0h1M16 40.5h3M17 41.5h1M17 60.5h1m55 0h3M73 61.5h3M73 62.5h3M77 71.5h1" stroke="#f0dc18" stroke-width="1"/><path d="M16 35.5h2M16 36.5h1M16 37.5h2M16 38.5h2M17 39.5h1" stroke="#f4a012" stroke-width="1"/><path d="M17 36.5h1" stroke="#e43018" stroke-width="1"/>
</g>
<rect x="42" y="17.4" width="108.30000000000001" height="108.0" fill="none" stroke="#3a3a3a" stroke-width="1"/>
<rect x="167" y="17.4" width="108.30000000000001" height="108.0" fill="none" stroke="#3a3a3a" stroke-width="1"/>
<rect x="42" y="149.5" width="108.30000000000001" height="108.0" fill="none" stroke="#3a3a3a" stroke-width="1"/>
<rect x="167" y="149.5" width="108.30000000000001" height="108.0" fill="none" stroke="#3a3a3a" stroke-width="1"/>
<rect x="42" y="302.6" width="108.30000000000001" height="107.0" fill="none" stroke="#3a3a3a" stroke-width="1"/>
<rect x="167" y="302.6" width="108.30000000000001" height="107.0" fill="none" stroke="#3a3a3a" stroke-width="1"/>
<rect x="42" y="434.2" width="108.30000000000001" height="107.00000000000006" fill="none" stroke="#3a3a3a" stroke-width="1"/>
<rect x="167" y="434.2" width="108.30000000000001" height="107.00000000000006" fill="none" stroke="#3a3a3a" stroke-width="1"/>
<text x="36" y="30.2" font-size="7.8" text-anchor="end" font-weight="normal" fill="#262626" color="#262626" >10<tspan dy="-3" font-size="5.5">5</tspan></text>
<text x="36" y="55.99999999999999" font-size="7.8" text-anchor="end" font-weight="normal" fill="#262626" color="#262626" >10<tspan dy="-3" font-size="5.5">4</tspan></text>
<text x="36" y="84.89999999999999" font-size="7.8" text-anchor="end" font-weight="normal" fill="#262626" color="#262626" >10<tspan dy="-3" font-size="5.5">3</tspan></text>
<text x="36" y="103.2" font-size="7.8" text-anchor="end" font-weight="normal" fill="#262626" color="#262626" >0</text>
<text x="36" y="120.2" font-size="7.8" text-anchor="end" font-weight="normal" fill="#262626" color="#262626" >−10<tspan dy="-3" font-size="5.5">3</tspan></text>
<path d="M42 27.4h-3 M42 53.2h-3 M42 82.1h-3 M42 100.4h-3 M42 117.4h-3" stroke="#333" stroke-width="0.9" fill="none" />
<path d="M42 45.4h-1.7 M42 40.9h-1.7 M42 37.7h-1.7 M42 35.2h-1.7 M42 33.1h-1.7 M42 31.4h-1.7 M42 29.9h-1.7 M42 28.6h-1.7 M42 73.4h-1.7 M42 68.3h-1.7 M42 64.7h-1.7 M42 61.9h-1.7 M42 59.6h-1.7 M42 57.7h-1.7 M42 56.0h-1.7 M42 54.5h-1.7 M42 88.1h-1.7 M42 94.2h-1.7 M42 106.0h-1.7 M42 111.6h-1.7 M42 19.6h-1.7" stroke="#555" stroke-width="0.6" fill="none" />
<text x="36" y="162.3" font-size="7.8" text-anchor="end" font-weight="normal" fill="#262626" color="#262626" >10<tspan dy="-3" font-size="5.5">5</tspan></text>
<text x="36" y="188.10000000000002" font-size="7.8" text-anchor="end" font-weight="normal" fill="#262626" color="#262626" >10<tspan dy="-3" font-size="5.5">4</tspan></text>
<text x="36" y="217.0" font-size="7.8" text-anchor="end" font-weight="normal" fill="#262626" color="#262626" >10<tspan dy="-3" font-size="5.5">3</tspan></text>
<text x="36" y="235.3" font-size="7.8" text-anchor="end" font-weight="normal" fill="#262626" color="#262626" >0</text>
<text x="36" y="252.3" font-size="7.8" text-anchor="end" font-weight="normal" fill="#262626" color="#262626" >−10<tspan dy="-3" font-size="5.5">3</tspan></text>
<path d="M42 159.5h-3 M42 185.3h-3 M42 214.2h-3 M42 232.5h-3 M42 249.5h-3" stroke="#333" stroke-width="0.9" fill="none" />
<path d="M42 177.5h-1.7 M42 173.0h-1.7 M42 169.8h-1.7 M42 167.3h-1.7 M42 165.2h-1.7 M42 163.5h-1.7 M42 162.0h-1.7 M42 160.7h-1.7 M42 205.5h-1.7 M42 200.4h-1.7 M42 196.8h-1.7 M42 194.0h-1.7 M42 191.7h-1.7 M42 189.8h-1.7 M42 188.1h-1.7 M42 186.6h-1.7 M42 220.2h-1.7 M42 226.3h-1.7 M42 238.1h-1.7 M42 243.7h-1.7 M42 151.7h-1.7" stroke="#555" stroke-width="0.6" fill="none" />
<text x="36" y="314.40000000000003" font-size="7.8" text-anchor="end" font-weight="normal" fill="#262626" color="#262626" >10<tspan dy="-3" font-size="5.5">5</tspan></text>
<text x="36" y="334.20000000000005" font-size="7.8" text-anchor="end" font-weight="normal" fill="#262626" color="#262626" >10<tspan dy="-3" font-size="5.5">4</tspan></text>
<text x="36" y="353.8" font-size="7.8" text-anchor="end" font-weight="normal" fill="#262626" color="#262626" >10<tspan dy="-3" font-size="5.5">3</tspan></text>
<text x="36" y="383.00000000000006" font-size="7.8" text-anchor="end" font-weight="normal" fill="#262626" color="#262626" >0</text>
<text x="36" y="411.40000000000003" font-size="7.8" text-anchor="end" font-weight="normal" fill="#262626" color="#262626" >−10<tspan dy="-3" font-size="5.5">3</tspan></text>
<path d="M42 311.6h-3 M42 331.4h-3 M42 351.0h-3 M42 380.2h-3 M42 408.6h-3" stroke="#333" stroke-width="0.9" fill="none" />
<path d="M42 325.4h-1.7 M42 322.0h-1.7 M42 319.5h-1.7 M42 317.6h-1.7 M42 316.0h-1.7 M42 314.7h-1.7 M42 313.5h-1.7 M42 312.5h-1.7 M42 345.1h-1.7 M42 341.6h-1.7 M42 339.2h-1.7 M42 337.3h-1.7 M42 335.7h-1.7 M42 334.4h-1.7 M42 333.3h-1.7 M42 332.3h-1.7 M42 360.6h-1.7 M42 370.3h-1.7 M42 389.6h-1.7 M42 398.9h-1.7 M42 305.6h-1.7" stroke="#555" stroke-width="0.6" fill="none" />
<text x="36" y="446.0" font-size="7.8" text-anchor="end" font-weight="normal" fill="#262626" color="#262626" >10<tspan dy="-3" font-size="5.5">5</tspan></text>
<text x="36" y="465.8" font-size="7.8" text-anchor="end" font-weight="normal" fill="#262626" color="#262626" >10<tspan dy="-3" font-size="5.5">4</tspan></text>
<text x="36" y="485.4" font-size="7.8" text-anchor="end" font-weight="normal" fill="#262626" color="#262626" >10<tspan dy="-3" font-size="5.5">3</tspan></text>
<text x="36" y="514.5999999999999" font-size="7.8" text-anchor="end" font-weight="normal" fill="#262626" color="#262626" >0</text>
<text x="36" y="543.0" font-size="7.8" text-anchor="end" font-weight="normal" fill="#262626" color="#262626" >−10<tspan dy="-3" font-size="5.5">3</tspan></text>
<path d="M42 443.2h-3 M42 463.0h-3 M42 482.6h-3 M42 511.8h-3 M42 540.2h-3" stroke="#333" stroke-width="0.9" fill="none" />
<path d="M42 457.0h-1.7 M42 453.6h-1.7 M42 451.1h-1.7 M42 449.2h-1.7 M42 447.6h-1.7 M42 446.3h-1.7 M42 445.1h-1.7 M42 444.1h-1.7 M42 476.7h-1.7 M42 473.2h-1.7 M42 470.8h-1.7 M42 468.9h-1.7 M42 467.3h-1.7 M42 466.0h-1.7 M42 464.9h-1.7 M42 463.9h-1.7 M42 492.2h-1.7 M42 501.9h-1.7 M42 521.2h-1.7 M42 530.5h-1.7 M42 437.2h-1.7" stroke="#555" stroke-width="0.6" fill="none" />
<rect x="39.8" y="99.0" width="2.2" height="2.8" fill="#222"/>
<path d="M42 91.4h-1.7 M42 93.9h-1.7 M42 95.9h-1.7 M42 97.4h-1.7 M42 103.4h-1.7 M42 104.9h-1.7 M42 106.9h-1.7 M42 109.4h-1.7" stroke="#555" stroke-width="0.6" fill="none" />
<rect x="164.8" y="99.0" width="2.2" height="2.8" fill="#222"/>
<path d="M167 91.4h-1.7 M167 93.9h-1.7 M167 95.9h-1.7 M167 97.4h-1.7 M167 103.4h-1.7 M167 104.9h-1.7 M167 106.9h-1.7 M167 109.4h-1.7" stroke="#555" stroke-width="0.6" fill="none" />
<rect x="39.8" y="231.1" width="2.2" height="2.8" fill="#222"/>
<path d="M42 223.5h-1.7 M42 226.0h-1.7 M42 228.0h-1.7 M42 229.5h-1.7 M42 235.5h-1.7 M42 237.0h-1.7 M42 239.0h-1.7 M42 241.5h-1.7" stroke="#555" stroke-width="0.6" fill="none" />
<rect x="164.8" y="231.1" width="2.2" height="2.8" fill="#222"/>
<path d="M167 223.5h-1.7 M167 226.0h-1.7 M167 228.0h-1.7 M167 229.5h-1.7 M167 235.5h-1.7 M167 237.0h-1.7 M167 239.0h-1.7 M167 241.5h-1.7" stroke="#555" stroke-width="0.6" fill="none" />
<rect x="39.8" y="378.8" width="2.2" height="2.8" fill="#222"/>
<path d="M42 371.2h-1.7 M42 373.7h-1.7 M42 375.7h-1.7 M42 377.2h-1.7 M42 383.2h-1.7 M42 384.7h-1.7 M42 386.7h-1.7 M42 389.2h-1.7" stroke="#555" stroke-width="0.6" fill="none" />
<rect x="164.8" y="378.8" width="2.2" height="2.8" fill="#222"/>
<path d="M167 371.2h-1.7 M167 373.7h-1.7 M167 375.7h-1.7 M167 377.2h-1.7 M167 383.2h-1.7 M167 384.7h-1.7 M167 386.7h-1.7 M167 389.2h-1.7" stroke="#555" stroke-width="0.6" fill="none" />
<rect x="39.8" y="510.4" width="2.2" height="2.8" fill="#222"/>
<path d="M42 502.8h-1.7 M42 505.3h-1.7 M42 507.3h-1.7 M42 508.8h-1.7 M42 514.8h-1.7 M42 516.3h-1.7 M42 518.3h-1.7 M42 520.8h-1.7" stroke="#555" stroke-width="0.6" fill="none" />
<rect x="164.8" y="510.4" width="2.2" height="2.8" fill="#222"/>
<path d="M167 502.8h-1.7 M167 505.3h-1.7 M167 507.3h-1.7 M167 508.8h-1.7 M167 514.8h-1.7 M167 516.3h-1.7 M167 518.3h-1.7 M167 520.8h-1.7" stroke="#555" stroke-width="0.6" fill="none" />
<path d="M167 27.4h-3 M167 53.2h-3 M167 82.1h-3 M167 100.4h-3 M167 117.4h-3" stroke="#333" stroke-width="0.9" fill="none" />
<path d="M167 45.4h-1.7 M167 40.9h-1.7 M167 37.7h-1.7 M167 35.2h-1.7 M167 33.1h-1.7 M167 31.4h-1.7 M167 29.9h-1.7 M167 28.6h-1.7 M167 73.4h-1.7 M167 68.3h-1.7 M167 64.7h-1.7 M167 61.9h-1.7 M167 59.6h-1.7 M167 57.7h-1.7 M167 56.0h-1.7 M167 54.5h-1.7" stroke="#555" stroke-width="0.6" fill="none" />
<path d="M167 159.5h-3 M167 185.3h-3 M167 214.2h-3 M167 232.5h-3 M167 249.5h-3" stroke="#333" stroke-width="0.9" fill="none" />
<path d="M167 177.5h-1.7 M167 173.0h-1.7 M167 169.8h-1.7 M167 167.3h-1.7 M167 165.2h-1.7 M167 163.5h-1.7 M167 162.0h-1.7 M167 160.7h-1.7 M167 205.5h-1.7 M167 200.4h-1.7 M167 196.8h-1.7 M167 194.0h-1.7 M167 191.7h-1.7 M167 189.8h-1.7 M167 188.1h-1.7 M167 186.6h-1.7" stroke="#555" stroke-width="0.6" fill="none" />
<path d="M167 311.6h-3 M167 331.4h-3 M167 351.0h-3 M167 380.2h-3 M167 408.6h-3" stroke="#333" stroke-width="0.9" fill="none" />
<path d="M167 325.4h-1.7 M167 322.0h-1.7 M167 319.5h-1.7 M167 317.6h-1.7 M167 316.0h-1.7 M167 314.7h-1.7 M167 313.5h-1.7 M167 312.5h-1.7 M167 345.1h-1.7 M167 341.6h-1.7 M167 339.2h-1.7 M167 337.3h-1.7 M167 335.7h-1.7 M167 334.4h-1.7 M167 333.3h-1.7 M167 332.3h-1.7" stroke="#555" stroke-width="0.6" fill="none" />
<path d="M167 443.2h-3 M167 463.0h-3 M167 482.6h-3 M167 511.8h-3 M167 540.2h-3" stroke="#333" stroke-width="0.9" fill="none" />
<path d="M167 457.0h-1.7 M167 453.6h-1.7 M167 451.1h-1.7 M167 449.2h-1.7 M167 447.6h-1.7 M167 446.3h-1.7 M167 445.1h-1.7 M167 444.1h-1.7 M167 476.7h-1.7 M167 473.2h-1.7 M167 470.8h-1.7 M167 468.9h-1.7 M167 467.3h-1.7 M167 466.0h-1.7 M167 464.9h-1.7 M167 463.9h-1.7" stroke="#555" stroke-width="0.6" fill="none" />
<path d="M64.3 125.4v3 M93.8 125.4v3 M112.5 125.4v3 M132.0 125.4v3" stroke="#333" stroke-width="0.9" fill="none" />
<path d="M99.4 125.4v1.7 M102.7 125.4v1.7 M105.1 125.4v1.7 M106.9 125.4v1.7 M108.4 125.4v1.7 M109.6 125.4v1.7 M110.7 125.4v1.7 M111.6 125.4v1.7 M118.4 125.4v1.7 M121.8 125.4v1.7 M124.2 125.4v1.7 M126.1 125.4v1.7 M127.7 125.4v1.7 M129.0 125.4v1.7 M130.1 125.4v1.7 M131.1 125.4v1.7 M74.0 125.4v1.7 M83.8 125.4v1.7 M54.6 125.4v1.7 M44.8 125.4v1.7 M138.0 125.4v1.7 M141.5 125.4v1.7 M144.0 125.4v1.7 M146.0 125.4v1.7 M53.3 125.4v1.7 M55.8 125.4v1.7 M57.8 125.4v1.7 M59.8 125.4v1.7 M61.3 125.4v1.7 M62.8 125.4v1.7 M65.8 125.4v1.7 M67.3 125.4v1.7 M68.8 125.4v1.7 M70.8 125.4v1.7 M72.8 125.4v1.7 M75.3 125.4v1.7 M78.3 125.4v1.7 M81.3 125.4v1.7" stroke="#555" stroke-width="0.6" fill="none" />
<rect x="62.8" y="125.4" width="3" height="2.2" fill="#222"/>
<path d="M64.3 257.5v3 M93.8 257.5v3 M112.5 257.5v3 M132.0 257.5v3" stroke="#333" stroke-width="0.9" fill="none" />
<path d="M99.4 257.5v1.7 M102.7 257.5v1.7 M105.1 257.5v1.7 M106.9 257.5v1.7 M108.4 257.5v1.7 M109.6 257.5v1.7 M110.7 257.5v1.7 M111.6 257.5v1.7 M118.4 257.5v1.7 M121.8 257.5v1.7 M124.2 257.5v1.7 M126.1 257.5v1.7 M127.7 257.5v1.7 M129.0 257.5v1.7 M130.1 257.5v1.7 M131.1 257.5v1.7 M74.0 257.5v1.7 M83.8 257.5v1.7 M54.6 257.5v1.7 M44.8 257.5v1.7 M138.0 257.5v1.7 M141.5 257.5v1.7 M144.0 257.5v1.7 M146.0 257.5v1.7 M53.3 257.5v1.7 M55.8 257.5v1.7 M57.8 257.5v1.7 M59.8 257.5v1.7 M61.3 257.5v1.7 M62.8 257.5v1.7 M65.8 257.5v1.7 M67.3 257.5v1.7 M68.8 257.5v1.7 M70.8 257.5v1.7 M72.8 257.5v1.7 M75.3 257.5v1.7 M78.3 257.5v1.7 M81.3 257.5v1.7" stroke="#555" stroke-width="0.6" fill="none" />
<rect x="62.8" y="257.5" width="3" height="2.2" fill="#222"/>
<path d="M168.0 125.4v3 M187.9 125.4v3 M207.8 125.4v3 M227.7 125.4v3 M247.6 125.4v3 M267.5 125.4v3" stroke="#333" stroke-width="0.9" fill="none" />
<path d="M177.9 125.4v1.7 M197.8 125.4v1.7 M217.8 125.4v1.7 M237.6 125.4v1.7 M257.6 125.4v1.7 M173.0 125.4v1.7 M182.9 125.4v1.7 M192.9 125.4v1.7 M202.8 125.4v1.7 M212.8 125.4v1.7 M222.7 125.4v1.7 M232.7 125.4v1.7 M242.6 125.4v1.7 M252.6 125.4v1.7 M262.5 125.4v1.7" stroke="#555" stroke-width="0.6" fill="none" />
<path d="M168.0 257.5v3 M187.9 257.5v3 M207.8 257.5v3 M227.7 257.5v3 M247.6 257.5v3 M267.5 257.5v3" stroke="#333" stroke-width="0.9" fill="none" />
<path d="M177.9 257.5v1.7 M197.8 257.5v1.7 M217.8 257.5v1.7 M237.6 257.5v1.7 M257.6 257.5v1.7 M173.0 257.5v1.7 M182.9 257.5v1.7 M192.9 257.5v1.7 M202.8 257.5v1.7 M212.8 257.5v1.7 M222.7 257.5v1.7 M232.7 257.5v1.7 M242.6 257.5v1.7 M252.6 257.5v1.7 M262.5 257.5v1.7" stroke="#555" stroke-width="0.6" fill="none" />
<path d="M49.4 409.6v3 M66.3 409.6v3 M85.2 409.6v3 M115.6 409.6v3 M139.9 409.6v3" stroke="#333" stroke-width="0.9" fill="none" />
<path d="M94.4 409.6v1.7 M99.7 409.6v1.7 M103.5 409.6v1.7 M106.4 409.6v1.7 M108.9 409.6v1.7 M110.9 409.6v1.7 M112.7 409.6v1.7 M114.2 409.6v1.7 M122.9 409.6v1.7 M127.2 409.6v1.7 M130.2 409.6v1.7 M132.6 409.6v1.7 M134.5 409.6v1.7 M136.1 409.6v1.7 M137.5 409.6v1.7 M138.8 409.6v1.7 M72.5 409.6v1.7 M78.8 409.6v1.7 M55.0 409.6v1.7 M60.6 409.6v1.7" stroke="#555" stroke-width="0.6" fill="none" />
<path d="M49.4 541.2v3 M66.3 541.2v3 M85.2 541.2v3 M115.6 541.2v3 M139.9 541.2v3" stroke="#333" stroke-width="0.9" fill="none" />
<path d="M94.4 541.2v1.7 M99.7 541.2v1.7 M103.5 541.2v1.7 M106.4 541.2v1.7 M108.9 541.2v1.7 M110.9 541.2v1.7 M112.7 541.2v1.7 M114.2 541.2v1.7 M122.9 541.2v1.7 M127.2 541.2v1.7 M130.2 541.2v1.7 M132.6 541.2v1.7 M134.5 541.2v1.7 M136.1 541.2v1.7 M137.5 541.2v1.7 M138.8 541.2v1.7 M72.5 541.2v1.7 M78.8 541.2v1.7 M55.0 541.2v1.7 M60.6 541.2v1.7" stroke="#555" stroke-width="0.6" fill="none" />
<path d="M182.7 409.6v3 M217.6 409.6v3 M243.0 409.6v3 M267.6 409.6v3" stroke="#333" stroke-width="0.9" fill="none" />
<path d="M225.2 409.6v1.7 M229.7 409.6v1.7 M232.9 409.6v1.7 M235.4 409.6v1.7 M237.4 409.6v1.7 M239.1 409.6v1.7 M240.5 409.6v1.7 M241.8 409.6v1.7 M250.4 409.6v1.7 M254.7 409.6v1.7 M257.8 409.6v1.7 M260.2 409.6v1.7 M262.1 409.6v1.7 M263.8 409.6v1.7 M265.2 409.6v1.7 M266.5 409.6v1.7 M194.2 409.6v1.7 M205.7 409.6v1.7 M175.7 409.6v1.7 M170.5 409.6v1.7 M174.7 409.6v1.7 M176.7 409.6v1.7 M178.7 409.6v1.7 M180.2 409.6v1.7 M181.5 409.6v1.7 M183.9 409.6v1.7 M185.2 409.6v1.7 M186.7 409.6v1.7 M188.7 409.6v1.7 M190.7 409.6v1.7 M193.7 409.6v1.7" stroke="#555" stroke-width="0.6" fill="none" />
<rect x="181.5" y="409.6" width="2.4" height="2.2" fill="#222"/>
<path d="M182.7 541.2v3 M217.6 541.2v3 M243.0 541.2v3 M267.6 541.2v3" stroke="#333" stroke-width="0.9" fill="none" />
<path d="M225.2 541.2v1.7 M229.7 541.2v1.7 M232.9 541.2v1.7 M235.4 541.2v1.7 M237.4 541.2v1.7 M239.1 541.2v1.7 M240.5 541.2v1.7 M241.8 541.2v1.7 M250.4 541.2v1.7 M254.7 541.2v1.7 M257.8 541.2v1.7 M260.2 541.2v1.7 M262.1 541.2v1.7 M263.8 541.2v1.7 M265.2 541.2v1.7 M266.5 541.2v1.7 M194.2 541.2v1.7 M205.7 541.2v1.7 M175.7 541.2v1.7 M170.5 541.2v1.7 M174.7 541.2v1.7 M176.7 541.2v1.7 M178.7 541.2v1.7 M180.2 541.2v1.7 M181.5 541.2v1.7 M183.9 541.2v1.7 M185.2 541.2v1.7 M186.7 541.2v1.7 M188.7 541.2v1.7 M190.7 541.2v1.7 M193.7 541.2v1.7" stroke="#555" stroke-width="0.6" fill="none" />
<rect x="181.5" y="541.2" width="2.4" height="2.2" fill="#222"/>
<text x="64.3" y="271.5" font-size="7.8" text-anchor="middle" font-weight="normal" fill="#262626" color="#262626" >0</text>
<text x="93.8" y="271.5" font-size="7.8" text-anchor="middle" font-weight="normal" fill="#262626" color="#262626" >10<tspan dy="-3" font-size="5.5">3</tspan></text>
<text x="112.5" y="271.5" font-size="7.8" text-anchor="middle" font-weight="normal" fill="#262626" color="#262626" >10<tspan dy="-3" font-size="5.5">4</tspan></text>
<text x="132" y="271.5" font-size="7.8" text-anchor="middle" font-weight="normal" fill="#262626" color="#262626" >10<tspan dy="-3" font-size="5.5">5</tspan></text>
<text x="168.0" y="271.5" font-size="7.6" text-anchor="middle" font-weight="normal" fill="#262626" color="#262626" >0</text>
<text x="187.9" y="271.5" font-size="7.6" text-anchor="middle" font-weight="normal" fill="#262626" color="#262626" >50K</text>
<text x="207.8" y="271.5" font-size="7.6" text-anchor="middle" font-weight="normal" fill="#262626" color="#262626" >100K</text>
<text x="227.7" y="271.5" font-size="7.6" text-anchor="middle" font-weight="normal" fill="#262626" color="#262626" >150K</text>
<text x="247.6" y="271.5" font-size="7.6" text-anchor="middle" font-weight="normal" fill="#262626" color="#262626" >200K</text>
<text x="267.5" y="271.5" font-size="7.6" text-anchor="middle" font-weight="normal" fill="#262626" color="#262626" >250K</text>
<text x="49.4" y="555.5" font-size="7.8" text-anchor="middle" font-weight="normal" fill="#262626" color="#262626" >−10<tspan dy="-3" font-size="5.5">3</tspan></text>
<text x="66.3" y="555.5" font-size="7.8" text-anchor="middle" font-weight="normal" fill="#262626" color="#262626" >0</text>
<text x="85.2" y="555.5" font-size="7.8" text-anchor="middle" font-weight="normal" fill="#262626" color="#262626" >10<tspan dy="-3" font-size="5.5">3</tspan></text>
<text x="115.6" y="555.5" font-size="7.8" text-anchor="middle" font-weight="normal" fill="#262626" color="#262626" >10<tspan dy="-3" font-size="5.5">4</tspan></text>
<text x="139.9" y="555.5" font-size="7.8" text-anchor="middle" font-weight="normal" fill="#262626" color="#262626" >10<tspan dy="-3" font-size="5.5">5</tspan></text>
<text x="182.7" y="555.5" font-size="7.8" text-anchor="middle" font-weight="normal" fill="#262626" color="#262626" >0</text>
<text x="217.6" y="555.5" font-size="7.8" text-anchor="middle" font-weight="normal" fill="#262626" color="#262626" >10<tspan dy="-3" font-size="5.5">3</tspan></text>
<text x="243" y="555.5" font-size="7.8" text-anchor="middle" font-weight="normal" fill="#262626" color="#262626" >10<tspan dy="-3" font-size="5.5">4</tspan></text>
<text x="267.6" y="555.5" font-size="7.8" text-anchor="middle" font-weight="normal" fill="#262626" color="#262626" >10<tspan dy="-3" font-size="5.5">5</tspan></text>
<text x="96" y="282.7" font-size="8.8" text-anchor="middle" font-weight="normal" fill="#262626" color="#262626" textLength="24" lengthAdjust="spacingAndGlyphs">Ter119</text>
<text x="221" y="282.7" font-size="8.8" text-anchor="middle" font-weight="normal" fill="#262626" color="#262626" textLength="19.5" lengthAdjust="spacingAndGlyphs">FSC-A</text>
<text x="96" y="568" font-size="8.8" text-anchor="middle" font-weight="normal" fill="#262626" color="#262626" textLength="19.5" lengthAdjust="spacingAndGlyphs">CD34</text>
<text x="221.5" y="568" font-size="8.8" text-anchor="middle" font-weight="normal" fill="#262626" color="#262626" textLength="18" lengthAdjust="spacingAndGlyphs">Ly6G</text>
<path d="M15.7 32V256.5" stroke="#222" stroke-width="1.1" fill="none" />
<path d="M12.9 33L15.7 28.2L18.5 33Z" stroke="none" stroke-width="0.8" fill="#111" />
<text x="0" y="0" font-size="8.8" text-anchor="middle" font-weight="normal" fill="#262626" color="#262626" transform="translate(8.6,140.5) rotate(-90)" textLength="19" lengthAdjust="spacingAndGlyphs">CD44</text>
<path d="M15.7 316V539.7" stroke="#222" stroke-width="1.1" fill="none" />
<path d="M12.8 316.5L15.7 311.2L18.6 316.5Z" stroke="none" stroke-width="0.8" fill="#111" />
<text x="0" y="0" font-size="8.8" text-anchor="middle" font-weight="normal" fill="#262626" color="#262626" transform="translate(8.6,430.8) rotate(-90)" textLength="17" lengthAdjust="spacingAndGlyphs">c-Kit</text>
<text x="48" y="29.2" font-size="8.7" text-anchor="start" font-weight="normal" fill="#262626" color="#262626" >Total BM</text>
<text x="172.5" y="29.2" font-size="8.7" text-anchor="start" font-weight="normal" fill="#262626" color="#262626" >Total BM</text>
<text x="45.4" y="161.2" font-size="8.7" text-anchor="start" font-weight="normal" fill="#262626" color="#262626" >EBI fraction</text>
<text x="170.5" y="161.2" font-size="8.7" text-anchor="start" font-weight="normal" fill="#262626" color="#262626" >EBI fraction</text>
<text x="49.7" y="314.2" font-size="8.7" text-anchor="start" font-weight="normal" fill="#262626" color="#262626" >MEP</text>
<text x="144.7" y="314.2" font-size="8.7" text-anchor="end" font-weight="normal" fill="#262626" color="#262626" >Total BM</text>
<text x="263.5" y="317.4" font-size="8.7" text-anchor="end" font-weight="normal" fill="#262626" color="#262626" >Total BM</text>
<text x="144.7" y="446.2" font-size="8.7" text-anchor="end" font-weight="normal" fill="#262626" color="#262626" >EBI fraction</text>
<text x="269.7" y="446.2" font-size="8.7" text-anchor="end" font-weight="normal" fill="#262626" color="#262626" >EBI fraction</text>
<path d="M111.4 27.9 L119.6 27.9 L119.6 53.5 L115.0 53.5 L111.4 49.5Z" stroke="#444" stroke-width="0.9" fill="none" />
<path d="M119.6 27.9 L137.3 27.9 L137.3 119.5 L119.6 119.5Z" stroke="#444" stroke-width="0.9" fill="none" />
<path d="M111.4 160.0 L119.6 160.0 L119.6 185.6 L115.0 185.6 L111.4 181.6Z" stroke="#444" stroke-width="0.9" fill="none" />
<path d="M119.6 160.0 L137.3 160.0 L137.3 251.6 L119.6 251.6Z" stroke="#444" stroke-width="0.9" fill="none" />
<text x="106.3" y="31.4" font-size="8.8" text-anchor="middle" font-weight="normal" fill="#262626" color="#262626" >I</text>
<path d="M222.1 33.3 L249.0 25.4 L272.0 25.4 L272.0 41.9 L224.8 69.9Z" stroke="#444" stroke-width="0.9" fill="none" />
<path d="M208.0 42.7 L221.0 34.0 L224.8 69.9 L210.6 82.4Z" stroke="#444" stroke-width="0.9" fill="none" />
<path d="M187.8 57.4 L208.0 45.0 L210.6 84.2 L195.0 89.2Z" stroke="#444" stroke-width="0.9" fill="none" />
<path d="M176.8 60.8 L187.8 58.6 L194.8 89.4 L171.6 89.4 L171.6 78.4Z" stroke="#444" stroke-width="0.9" fill="none" />
<path d="M169.3 89.4 L199.9 89.4 L208.0 116.9 L174.5 120.2Z" stroke="#444" stroke-width="0.9" fill="none" />
<path d="M222.1 165.4 L249.0 157.5 L272.0 157.5 L272.0 174.0 L224.8 202.0Z" stroke="#444" stroke-width="0.9" fill="none" />
<path d="M208.0 174.8 L221.0 166.1 L224.8 202.0 L210.6 214.5Z" stroke="#444" stroke-width="0.9" fill="none" />
<path d="M187.8 189.5 L208.0 177.1 L210.6 216.3 L195.0 221.3Z" stroke="#444" stroke-width="0.9" fill="none" />
<path d="M176.8 192.9 L187.8 190.7 L194.8 221.5 L171.6 221.5 L171.6 210.5Z" stroke="#444" stroke-width="0.9" fill="none" />
<path d="M169.3 221.5 L199.9 221.5 L208.0 249.0 L174.5 252.3Z" stroke="#444" stroke-width="0.9" fill="none" />
<text x="171.8" y="55.2" font-size="9.6" text-anchor="start" font-weight="normal" fill="#262626" color="#262626" >V</text>
<text x="212.2" y="95.2" font-size="9.6" text-anchor="middle" font-weight="normal" fill="#262626" color="#262626" >IV</text>
<text x="212.2" y="113.2" font-size="9.6" text-anchor="middle" font-weight="normal" fill="#262626" color="#262626" >VI</text>
<text x="227" y="82.2" font-size="9.6" text-anchor="middle" font-weight="normal" fill="#262626" color="#262626" >III</text>
<text x="249.6" y="66.8" font-size="9.6" text-anchor="middle" font-weight="normal" fill="#262626" color="#262626" >II</text>
<text x="228.5" y="117.3" font-size="8.8" text-anchor="start" font-weight="normal" fill="#262626" color="#262626" textLength="41" lengthAdjust="spacingAndGlyphs">Maturation</text>
<path d="M272.3 120.6H214" stroke="#111" stroke-width="1.3" fill="none" />
<path d="M216.8 117.4L210.6 120.6L216.8 123.8Z" stroke="none" stroke-width="0.8" fill="#111" />
<text x="278.8" y="24.2" font-size="7.4" text-anchor="start" font-weight="normal" fill="#262626" color="#262626" >I: ProEB</text>
<text x="278.8" y="38.1" font-size="7.4" text-anchor="start" font-weight="normal" fill="#262626" color="#262626" >II: BasoEB</text>
<text x="278.8" y="52.0" font-size="7.4" text-anchor="start" font-weight="normal" fill="#262626" color="#262626" >III: PolyEB</text>
<text x="278.8" y="65.9" font-size="7.4" text-anchor="start" font-weight="normal" fill="#262626" color="#262626" >IV: OrthoEB</text>
<text x="278.8" y="79.8" font-size="7.4" text-anchor="start" font-weight="normal" fill="#262626" color="#262626" >V: Retic</text>
<text x="278.8" y="93.7" font-size="7.4" text-anchor="start" font-weight="normal" fill="#262626" color="#262626" >VI: RBC</text>
<path d="M55.5 317.6 L76.6 317.6 L76.6 334.8 L55.5 334.8Z" stroke="#444" stroke-width="0.9" fill="none" />
<path d="M51.0 335.8 L75.5 335.0 L84.0 320.0 L120.6 320.0 L120.6 402.2 L98.2 403.6 L49.0 397.4Z" stroke="#444" stroke-width="0.9" fill="none" />
<path d="M55.5 449.2 L76.6 449.2 L76.6 466.4 L55.5 466.4Z" stroke="#444" stroke-width="0.9" fill="none" />
<path d="M51.0 467.4 L75.5 466.6 L84.0 451.6 L120.6 451.6 L120.6 533.8 L98.2 535.2 L49.0 529.0Z" stroke="#444" stroke-width="0.9" fill="none" />
<path d="M176.8 320.4 L196.2 320.4 L196.2 334.0 L176.8 334.0Z" stroke="#444" stroke-width="0.9" fill="none" />
<path d="M177.9 334.0 L191.9 334.0 L191.9 354.8 L177.9 354.8Z" stroke="#444" stroke-width="0.9" fill="none" />
<path d="M191.9 335.6 L209.2 335.6 L209.2 357.0 L191.9 357.0Z" stroke="#444" stroke-width="0.9" fill="none" />
<path d="M209.2 335.6 L230.7 335.6 L230.7 363.0 L209.2 363.0Z" stroke="#444" stroke-width="0.9" fill="none" />
<path d="M230.7 342.8 L257.7 342.8 L257.7 394.8 L230.7 394.8Z" stroke="#444" stroke-width="0.9" fill="none" />
<path d="M176.8 452.0 L196.2 452.0 L196.2 465.6 L176.8 465.6Z" stroke="#444" stroke-width="0.9" fill="none" />
<path d="M177.9 465.6 L191.9 465.6 L191.9 486.4 L177.9 486.4Z" stroke="#444" stroke-width="0.9" fill="none" />
<path d="M191.9 467.2 L209.2 467.2 L209.2 488.6 L191.9 488.6Z" stroke="#444" stroke-width="0.9" fill="none" />
<path d="M209.2 467.2 L230.7 467.2 L230.7 494.6 L209.2 494.6Z" stroke="#444" stroke-width="0.9" fill="none" />
<path d="M230.7 474.4 L257.7 474.4 L257.7 526.4 L230.7 526.4Z" stroke="#444" stroke-width="0.9" fill="none" />
<text x="180.5" y="317.2" font-size="8.6" text-anchor="middle" font-weight="normal" fill="#262626" color="#262626" >1</text>
<text x="171" y="347.2" font-size="8.6" text-anchor="middle" font-weight="normal" fill="#262626" color="#262626" >2</text>
<text x="196.2" y="369.2" font-size="8.6" text-anchor="middle" font-weight="normal" fill="#262626" color="#262626" >3</text>
<text x="216.6" y="376.6" font-size="8.6" text-anchor="middle" font-weight="normal" fill="#262626" color="#262626" >4</text>
<text x="262" y="384.2" font-size="8.6" text-anchor="middle" font-weight="normal" fill="#262626" color="#262626" >5</text>
<text x="173.6" y="399.6" font-size="8.8" text-anchor="start" font-weight="normal" fill="#262626" color="#262626" textLength="42" lengthAdjust="spacingAndGlyphs">Maturation</text>
<path d="M174.5 405.2H258" stroke="#111" stroke-width="1.3" fill="none" />
<path d="M256 402L262.5 405.2L256 408.4Z" stroke="none" stroke-width="0.8" fill="#111" />
<text x="278.8" y="308.7" font-size="7.4" text-anchor="start" font-weight="normal" fill="#262626" color="#262626" >1: MB</text>
<text x="278.8" y="322.59999999999997" font-size="7.4" text-anchor="start" font-weight="normal" fill="#262626" color="#262626" >2: PM</text>
<text x="278.8" y="336.5" font-size="7.4" text-anchor="start" font-weight="normal" fill="#262626" color="#262626" >3: MC</text>
<text x="278.8" y="350.4" font-size="7.4" text-anchor="start" font-weight="normal" fill="#262626" color="#262626" >4: MM</text>
<text x="278.8" y="364.3" font-size="7.4" text-anchor="start" font-weight="normal" fill="#262626" color="#262626" >5: BC/SC</text>
<path d="M135.8 36.1H155.6V33.4L162.4 37.9L155.6 42.4V39.7H135.8Z" stroke="none" stroke-width="0.8" fill="#111" />
<path d="M135.8 166H155.6V163.3L162.4 167.8L155.6 172.3V169.6H135.8Z" stroke="none" stroke-width="0.8" fill="#111" />
<path d="M112 362.9H153V359.9L163.2 365.9L153 372V368.9H112Z" stroke="none" stroke-width="0.8" fill="#111" />
<rect x="372" y="53.1" width="16" height="72.2" fill="#ea8b7d"/>
<rect x="397" y="75.5" width="16" height="49.8" fill="#8494bf"/>
<rect x="422" y="83.7" width="16" height="41.6" fill="#aad597"/>
<rect x="447" y="103.6" width="16" height="21.7" fill="#a383b6"/>
<rect x="472" y="120.1" width="16" height="5.2" fill="#f8c57f"/>
<rect x="497" y="124.1" width="16" height="1.2" fill="#80a892"/>
<path d="M380 73.2V32.5M376.2 32.5h7.6M376.2 73.2h7.6" stroke="#c2102f" stroke-width="0.9" fill="none" />
<circle cx="380.0" cy="28.8" r="2.3" fill="#c2102f"/>
<circle cx="376.0" cy="65.4" r="2.3" fill="#c2102f"/>
<circle cx="384.0" cy="64.2" r="2.3" fill="#c2102f"/>
<path d="M405 91.5V58.3M401.2 58.3h7.6M401.2 91.5h7.6" stroke="#1d3f6e" stroke-width="0.9" fill="none" />
<circle cx="405.0" cy="56.8" r="2.3" fill="#1d3f6e"/>
<circle cx="405.0" cy="78.5" r="2.3" fill="#1d3f6e"/>
<circle cx="405.0" cy="91.5" r="2.3" fill="#1d3f6e"/>
<path d="M430 85.4V81.1M426.2 81.1h7.6M426.2 85.4h7.6" stroke="#3aa64b" stroke-width="0.9" fill="none" />
<circle cx="426.0" cy="80.2" r="2.3" fill="#3aa64b"/>
<circle cx="434.0" cy="82.8" r="2.3" fill="#3aa64b"/>
<circle cx="430.0" cy="84.5" r="2.3" fill="#3aa64b"/>
<path d="M455 105.3V101.9M451.2 101.9h7.6M451.2 105.3h7.6" stroke="#5a2570" stroke-width="0.9" fill="none" />
<circle cx="450.0" cy="103.1" r="2.3" fill="#5a2570"/>
<circle cx="455.0" cy="100.7" r="2.3" fill="#5a2570"/>
<circle cx="460.0" cy="103.1" r="2.3" fill="#5a2570"/>
<path d="M480 122.7V117.5M476.2 117.5h7.6M476.2 122.7h7.6" stroke="#f2a221" stroke-width="0.9" fill="none" />
<circle cx="476.0" cy="116.6" r="2.3" fill="#f2a221"/>
<circle cx="484.0" cy="120.1" r="2.3" fill="#f2a221"/>
<circle cx="476.0" cy="122.2" r="2.3" fill="#f2a221"/>
<path d="M505 124.4V123.7M501.2 123.7h7.6M501.2 124.4h7.6" stroke="#17664a" stroke-width="0.9" fill="none" />
<circle cx="500.0" cy="124.3" r="2.3" fill="#17664a"/>
<circle cx="505.0" cy="123.7" r="2.3" fill="#17664a"/>
<circle cx="510.0" cy="124.3" r="2.3" fill="#17664a"/>
<path d="M363.6 107.9H520" stroke="#333" stroke-width="1" fill="none" stroke-dasharray="2 2.2"/>
<path d="M363.6 125.3H520" stroke="#222" stroke-width="1.2" fill="none" />
<path d="M380 125.3v3" stroke="#222" stroke-width="0.9" fill="none" />
<path d="M405 125.3v3" stroke="#222" stroke-width="0.9" fill="none" />
<path d="M430 125.3v3" stroke="#222" stroke-width="0.9" fill="none" />
<path d="M455 125.3v3" stroke="#222" stroke-width="0.9" fill="none" />
<path d="M480 125.3v3" stroke="#222" stroke-width="0.9" fill="none" />
<path d="M505 125.3v3" stroke="#222" stroke-width="0.9" fill="none" />
<path d="M363.6 17V125.3" stroke="#222" stroke-width="1.1" fill="none" />
<path d="M363.6 125.3h-2.6" stroke="#222" stroke-width="1" fill="none" />
<text x="358.6" y="128.2" font-size="8.3" text-anchor="end" font-weight="normal" fill="#262626" color="#262626" >0</text>
<path d="M363.6 107.9h-2.6" stroke="#222" stroke-width="1" fill="none" />
<text x="358.6" y="110.85" font-size="8.3" text-anchor="end" font-weight="normal" fill="#262626" color="#262626" >1</text>
<path d="M363.6 90.6h-2.6" stroke="#222" stroke-width="1" fill="none" />
<text x="358.6" y="93.5" font-size="8.3" text-anchor="end" font-weight="normal" fill="#262626" color="#262626" >2</text>
<path d="M363.6 73.2h-2.6" stroke="#222" stroke-width="1" fill="none" />
<text x="358.6" y="76.15" font-size="8.3" text-anchor="end" font-weight="normal" fill="#262626" color="#262626" >3</text>
<path d="M363.6 55.9h-2.6" stroke="#222" stroke-width="1" fill="none" />
<text x="358.6" y="58.79999999999999" font-size="8.3" text-anchor="end" font-weight="normal" fill="#262626" color="#262626" >4</text>
<path d="M363.6 38.5h-2.6" stroke="#222" stroke-width="1" fill="none" />
<text x="358.6" y="41.449999999999996" font-size="8.3" text-anchor="end" font-weight="normal" fill="#262626" color="#262626" >5</text>
<path d="M363.6 21.2h-2.6" stroke="#222" stroke-width="1" fill="none" />
<text x="358.6" y="24.099999999999987" font-size="8.3" text-anchor="end" font-weight="normal" fill="#262626" color="#262626" >6</text>
<text x="0" y="0" font-size="8.8" text-anchor="middle" font-weight="normal" fill="#262626" color="#262626" transform="translate(346.8,68.5) rotate(-90)" textLength="109" lengthAdjust="spacingAndGlyphs">Fold change EBI fraction: total BM</text>
<text x="380" y="139" font-size="7.6" text-anchor="middle" font-weight="normal" fill="#262626" color="#262626" >I</text>
<text x="405" y="139" font-size="7.6" text-anchor="middle" font-weight="normal" fill="#262626" color="#262626" >II</text>
<text x="430" y="139" font-size="7.6" text-anchor="middle" font-weight="normal" fill="#262626" color="#262626" >III</text>
<text x="455" y="139" font-size="7.6" text-anchor="middle" font-weight="normal" fill="#262626" color="#262626" >IV</text>
<text x="480" y="139" font-size="7.6" text-anchor="middle" font-weight="normal" fill="#262626" color="#262626" >V</text>
<text x="505" y="139" font-size="7.6" text-anchor="middle" font-weight="normal" fill="#262626" color="#262626" >VI</text>
<rect x="370" y="253.7" width="8" height="2.6" fill="#ec9686"/>
<rect x="382" y="246.8" width="8" height="9.5" fill="#8d9cc3"/>
<rect x="395" y="249.7" width="8" height="6.6" fill="#ec9686"/>
<rect x="407" y="242.5" width="8" height="13.8" fill="#8d9cc3"/>
<rect x="420" y="230.4" width="8" height="25.9" fill="#ec9686"/>
<rect x="432" y="204.4" width="8" height="51.9" fill="#8d9cc3"/>
<rect x="445" y="204.4" width="8" height="51.9" fill="#ec9686"/>
<rect x="457" y="179.3" width="8" height="77.0" fill="#8d9cc3"/>
<rect x="470" y="200.9" width="8" height="55.4" fill="#ec9686"/>
<rect x="482" y="237.3" width="8" height="19.0" fill="#8d9cc3"/>
<rect x="495" y="225.2" width="8" height="31.1" fill="#ec9686"/>
<rect x="507" y="253.7" width="8" height="2.6" fill="#8d9cc3"/>
<path d="M374 254.6V252.8M371.4 252.8h5.2M371.4 254.6h5.2" stroke="#c2102f" stroke-width="0.9" fill="none" />
<path d="M386 248.5V245.1M383.4 245.1h5.2M383.4 248.5h5.2" stroke="#1d4874" stroke-width="0.9" fill="none" />
<circle cx="372.4" cy="254.2" r="1.9" fill="#c2102f"/>
<circle cx="374.0" cy="253.2" r="1.9" fill="#c2102f"/>
<circle cx="375.6" cy="253.7" r="1.9" fill="#c2102f"/>
<circle cx="384.4" cy="248.0" r="1.9" fill="#1d4874"/>
<circle cx="386.0" cy="245.4" r="1.9" fill="#1d4874"/>
<circle cx="387.6" cy="246.8" r="1.9" fill="#1d4874"/>
<path d="M399 250.6V248.9M396.4 248.9h5.2M396.4 250.6h5.2" stroke="#c2102f" stroke-width="0.9" fill="none" />
<path d="M411 254.6V228.6M408.4 228.6h5.2M408.4 254.6h5.2" stroke="#1d4874" stroke-width="0.9" fill="none" />
<circle cx="397.4" cy="250.2" r="1.9" fill="#c2102f"/>
<circle cx="399.0" cy="249.0" r="1.9" fill="#c2102f"/>
<circle cx="400.6" cy="249.9" r="1.9" fill="#c2102f"/>
<circle cx="409.4" cy="250.2" r="1.9" fill="#1d4874"/>
<circle cx="411.0" cy="229.1" r="1.9" fill="#1d4874"/>
<circle cx="412.6" cy="247.7" r="1.9" fill="#1d4874"/>
<path d="M424 232.1V226.0M421.4 226.0h5.2M421.4 232.1h5.2" stroke="#c2102f" stroke-width="0.9" fill="none" />
<path d="M436 216.5V192.3M433.4 192.3h5.2M433.4 216.5h5.2" stroke="#1d4874" stroke-width="0.9" fill="none" />
<circle cx="422.4" cy="231.2" r="1.9" fill="#c2102f"/>
<circle cx="424.0" cy="226.4" r="1.9" fill="#c2102f"/>
<circle cx="425.6" cy="230.0" r="1.9" fill="#c2102f"/>
<circle cx="434.4" cy="213.1" r="1.9" fill="#1d4874"/>
<circle cx="436.0" cy="192.6" r="1.9" fill="#1d4874"/>
<circle cx="437.6" cy="206.1" r="1.9" fill="#1d4874"/>
<path d="M449 207.9V202.7M446.4 202.7h5.2M446.4 207.9h5.2" stroke="#c2102f" stroke-width="0.9" fill="none" />
<path d="M461 192.3V164.6M458.4 164.6h5.2M458.4 192.3h5.2" stroke="#1d4874" stroke-width="0.9" fill="none" />
<circle cx="447.4" cy="207.0" r="1.9" fill="#c2102f"/>
<circle cx="449.0" cy="203.0" r="1.9" fill="#c2102f"/>
<circle cx="450.6" cy="204.4" r="1.9" fill="#c2102f"/>
<circle cx="459.4" cy="189.7" r="1.9" fill="#1d4874"/>
<circle cx="461.0" cy="165.5" r="1.9" fill="#1d4874"/>
<circle cx="462.6" cy="178.5" r="1.9" fill="#1d4874"/>
<path d="M474 206.1V195.8M471.4 195.8h5.2M471.4 206.1h5.2" stroke="#c2102f" stroke-width="0.9" fill="none" />
<path d="M486 247.7V229.5M483.4 229.5h5.2M483.4 247.7h5.2" stroke="#1d4874" stroke-width="0.9" fill="none" />
<circle cx="472.4" cy="204.4" r="1.9" fill="#c2102f"/>
<circle cx="474.0" cy="196.6" r="1.9" fill="#c2102f"/>
<circle cx="475.6" cy="202.7" r="1.9" fill="#c2102f"/>
<circle cx="484.4" cy="245.9" r="1.9" fill="#1d4874"/>
<circle cx="486.0" cy="229.8" r="1.9" fill="#1d4874"/>
<circle cx="487.6" cy="237.3" r="1.9" fill="#1d4874"/>
<path d="M499 232.1V214.8M496.4 214.8h5.2M496.4 232.1h5.2" stroke="#c2102f" stroke-width="0.9" fill="none" />
<path d="M511 256.3V251.1M508.4 251.1h5.2M508.4 256.3h5.2" stroke="#1d4874" stroke-width="0.9" fill="none" />
<circle cx="497.4" cy="230.4" r="1.9" fill="#c2102f"/>
<circle cx="499.0" cy="215.6" r="1.9" fill="#c2102f"/>
<circle cx="500.6" cy="226.9" r="1.9" fill="#c2102f"/>
<circle cx="509.4" cy="255.4" r="1.9" fill="#1d4874"/>
<circle cx="511.0" cy="251.5" r="1.9" fill="#1d4874"/>
<circle cx="512.6" cy="254.2" r="1.9" fill="#1d4874"/>
<path d="M363.6 256.3H520" stroke="#222" stroke-width="1.2" fill="none" />
<path d="M380 256.3v3" stroke="#222" stroke-width="0.9" fill="none" />
<path d="M405 256.3v3" stroke="#222" stroke-width="0.9" fill="none" />
<path d="M430 256.3v3" stroke="#222" stroke-width="0.9" fill="none" />
<path d="M455 256.3v3" stroke="#222" stroke-width="0.9" fill="none" />
<path d="M480 256.3v3" stroke="#222" stroke-width="0.9" fill="none" />
<path d="M505 256.3v3" stroke="#222" stroke-width="0.9" fill="none" />
<path d="M363.6 148.7V256.3" stroke="#222" stroke-width="1.1" fill="none" />
<path d="M363.6 256.3h-2.6" stroke="#222" stroke-width="1" fill="none" />
<text x="358.6" y="259.2" font-size="8.3" text-anchor="end" font-weight="normal" fill="#262626" color="#262626" >0</text>
<path d="M363.6 221.7h-2.6" stroke="#222" stroke-width="1" fill="none" />
<text x="358.6" y="224.60000000000002" font-size="8.3" text-anchor="end" font-weight="normal" fill="#262626" color="#262626" >20</text>
<path d="M363.6 187.1h-2.6" stroke="#222" stroke-width="1" fill="none" />
<text x="358.6" y="190.00000000000003" font-size="8.3" text-anchor="end" font-weight="normal" fill="#262626" color="#262626" >40</text>
<path d="M363.6 152.5h-2.6" stroke="#222" stroke-width="1" fill="none" />
<text x="358.6" y="155.4" font-size="8.3" text-anchor="end" font-weight="normal" fill="#262626" color="#262626" >60</text>
<text x="0" y="0" font-size="8.8" text-anchor="middle" font-weight="normal" fill="#262626" color="#262626" transform="translate(343.4,202.6) rotate(-90)" textLength="80" lengthAdjust="spacingAndGlyphs">Percent of erythroblasts</text>
<text x="380" y="268.7" font-size="7.6" text-anchor="middle" font-weight="normal" fill="#262626" color="#262626" >I</text>
<text x="405" y="268.7" font-size="7.6" text-anchor="middle" font-weight="normal" fill="#262626" color="#262626" >II</text>
<text x="430" y="268.7" font-size="7.6" text-anchor="middle" font-weight="normal" fill="#262626" color="#262626" >III</text>
<text x="455" y="268.7" font-size="7.6" text-anchor="middle" font-weight="normal" fill="#262626" color="#262626" >IV</text>
<text x="480" y="268.7" font-size="7.6" text-anchor="middle" font-weight="normal" fill="#262626" color="#262626" >V</text>
<text x="505" y="268.7" font-size="7.6" text-anchor="middle" font-weight="normal" fill="#262626" color="#262626" >VI</text>
<rect x="368.6" y="152.4" width="4.6" height="4.6" fill="#c2102f"/>
<rect x="368.6" y="163.2" width="4.6" height="4.6" fill="#1d4874"/>
<text x="377" y="157.6" font-size="7.6" text-anchor="start" font-weight="normal" fill="#262626" color="#262626" >Total</text>
<text x="377" y="168.4" font-size="7.6" text-anchor="start" font-weight="normal" fill="#262626" color="#262626" >EBI</text>
<rect x="372" y="320.0" width="16" height="90.0" fill="#ea8b7d"/>
<rect x="397" y="356.4" width="16" height="53.6" fill="#8494bf"/>
<rect x="422" y="311.4" width="16" height="98.6" fill="#aad597"/>
<rect x="447" y="325.2" width="16" height="84.8" fill="#a383b6"/>
<rect x="471" y="344.3" width="16" height="65.7" fill="#f8c57f"/>
<rect x="496" y="382.3" width="16" height="27.7" fill="#80a892"/>
<path d="M380 330.4V311.4M376.2 311.4h7.6M376.2 330.4h7.6" stroke="#c2102f" stroke-width="0.9" fill="none" />
<circle cx="376.0" cy="314.9" r="2.3" fill="#c2102f"/>
<circle cx="384.0" cy="321.8" r="2.3" fill="#c2102f"/>
<circle cx="380.0" cy="330.4" r="2.3" fill="#c2102f"/>
<path d="M405 367.8V344.3M401.2 344.3h7.6M401.2 367.8h7.6" stroke="#1d3f6e" stroke-width="0.9" fill="none" />
<circle cx="405.0" cy="343.2" r="2.3" fill="#1d3f6e"/>
<circle cx="401.0" cy="361.6" r="2.3" fill="#1d3f6e"/>
<circle cx="409.0" cy="361.6" r="2.3" fill="#1d3f6e"/>
<path d="M430 315.9V306.2M426.2 306.2h7.6M426.2 315.9h7.6" stroke="#3aa64b" stroke-width="0.9" fill="none" />
<circle cx="430.0" cy="306.2" r="2.3" fill="#3aa64b"/>
<circle cx="426.0" cy="314.9" r="2.3" fill="#3aa64b"/>
<circle cx="434.0" cy="314.9" r="2.3" fill="#3aa64b"/>
<path d="M455 340.8V311.4M451.2 311.4h7.6M451.2 340.8h7.6" stroke="#5a2570" stroke-width="0.9" fill="none" />
<circle cx="455.0" cy="309.7" r="2.3" fill="#5a2570"/>
<circle cx="455.0" cy="323.5" r="2.3" fill="#5a2570"/>
<circle cx="455.0" cy="333.9" r="2.3" fill="#5a2570"/>
<path d="M479 356.4V332.1M475.2 332.1h7.6M475.2 356.4h7.6" stroke="#f2a221" stroke-width="0.9" fill="none" />
<circle cx="483.0" cy="333.9" r="2.3" fill="#f2a221"/>
<circle cx="475.0" cy="337.3" r="2.3" fill="#f2a221"/>
<circle cx="479.0" cy="354.6" r="2.3" fill="#f2a221"/>
<path d="M504 385.8V378.9M500.2 378.9h7.6M500.2 385.8h7.6" stroke="#17664a" stroke-width="0.9" fill="none" />
<circle cx="500.0" cy="380.6" r="2.3" fill="#17664a"/>
<circle cx="508.0" cy="381.6" r="2.3" fill="#17664a"/>
<circle cx="504.0" cy="385.1" r="2.3" fill="#17664a"/>
<path d="M362.6 375.4H520" stroke="#222" stroke-width="1" fill="none" stroke-dasharray="2 2.2"/>
<path d="M362.6 410H520" stroke="#222" stroke-width="1.2" fill="none" />
<path d="M380 410v3" stroke="#222" stroke-width="0.9" fill="none" />
<path d="M405 410v3" stroke="#222" stroke-width="0.9" fill="none" />
<path d="M430 410v3" stroke="#222" stroke-width="0.9" fill="none" />
<path d="M455 410v3" stroke="#222" stroke-width="0.9" fill="none" />
<path d="M479 410v3" stroke="#222" stroke-width="0.9" fill="none" />
<path d="M504 410v3" stroke="#222" stroke-width="0.9" fill="none" />
<path d="M362.6 299V410" stroke="#222" stroke-width="1.1" fill="none" />
<path d="M362.6 410.0h-2.6" stroke="#222" stroke-width="1" fill="none" />
<text x="357.6" y="412.9" font-size="8.3" text-anchor="end" font-weight="normal" fill="#262626" color="#262626" >0</text>
<path d="M362.6 375.4h-2.6" stroke="#222" stroke-width="1" fill="none" />
<text x="357.6" y="378.29999999999995" font-size="8.3" text-anchor="end" font-weight="normal" fill="#262626" color="#262626" >1</text>
<path d="M362.6 340.8h-2.6" stroke="#222" stroke-width="1" fill="none" />
<text x="357.6" y="343.7" font-size="8.3" text-anchor="end" font-weight="normal" fill="#262626" color="#262626" >2</text>
<path d="M362.6 306.2h-2.6" stroke="#222" stroke-width="1" fill="none" />
<text x="357.6" y="309.09999999999997" font-size="8.3" text-anchor="end" font-weight="normal" fill="#262626" color="#262626" >3</text>
<text x="0" y="0" font-size="8.8" text-anchor="middle" font-weight="normal" fill="#262626" color="#262626" transform="translate(347.2,356.5) rotate(-90)" textLength="111" lengthAdjust="spacingAndGlyphs">Fold change EBI fraction: total BM</text>
<text x="380" y="419.5" font-size="7.6" text-anchor="middle" font-weight="normal" fill="#262626" color="#262626" >MEP</text>
<text x="405" y="419.5" font-size="7.6" text-anchor="middle" font-weight="normal" fill="#262626" color="#262626" >1</text>
<text x="430" y="419.5" font-size="7.6" text-anchor="middle" font-weight="normal" fill="#262626" color="#262626" >2</text>
<text x="455" y="419.5" font-size="7.6" text-anchor="middle" font-weight="normal" fill="#262626" color="#262626" >3</text>
<text x="479" y="419.5" font-size="7.6" text-anchor="middle" font-weight="normal" fill="#262626" color="#262626" >4</text>
<text x="504" y="419.5" font-size="7.6" text-anchor="middle" font-weight="normal" fill="#262626" color="#262626" >5</text>
<rect x="367" y="538.2" width="8" height="2.8" fill="#ec9686"/>
<rect x="379" y="537.3" width="8" height="3.7" fill="#8d9cc3"/>
<rect x="399" y="529.8" width="8" height="11.2" fill="#ec9686"/>
<rect x="411" y="518.5" width="8" height="22.5" fill="#8d9cc3"/>
<rect x="430.5" y="535.4" width="8" height="5.6" fill="#ec9686"/>
<rect x="442.5" y="527.9" width="8" height="13.1" fill="#8d9cc3"/>
<rect x="462" y="523.2" width="8" height="17.8" fill="#ec9686"/>
<rect x="474" y="507.3" width="8" height="33.7" fill="#8d9cc3"/>
<rect x="494" y="455.8" width="8" height="85.2" fill="#ec9686"/>
<rect x="506" y="475.2" width="8" height="65.8" fill="#8d9cc3"/>
<path d="M371 540.1V535.4M368.4 535.4h5.2M368.4 540.1h5.2" stroke="#c2102f" stroke-width="0.9" fill="none" />
<path d="M383 538.6V536.1M380.4 536.1h5.2M380.4 538.6h5.2" stroke="#1d4874" stroke-width="0.9" fill="none" />
<circle cx="369.4" cy="539.1" r="1.9" fill="#c2102f"/>
<circle cx="371.0" cy="536.3" r="1.9" fill="#c2102f"/>
<circle cx="372.6" cy="538.8" r="1.9" fill="#c2102f"/>
<circle cx="381.4" cy="538.2" r="1.9" fill="#1d4874"/>
<circle cx="383.0" cy="536.7" r="1.9" fill="#1d4874"/>
<circle cx="384.6" cy="537.3" r="1.9" fill="#1d4874"/>
<path d="M403 537.3V520.0M400.4 520.0h5.2M400.4 537.3h5.2" stroke="#c2102f" stroke-width="0.9" fill="none" />
<path d="M415 527.9V508.2M412.4 508.2h5.2M412.4 527.9h5.2" stroke="#1d4874" stroke-width="0.9" fill="none" />
<circle cx="401.4" cy="535.4" r="1.9" fill="#c2102f"/>
<circle cx="403.0" cy="520.4" r="1.9" fill="#c2102f"/>
<circle cx="404.6" cy="531.6" r="1.9" fill="#c2102f"/>
<circle cx="413.4" cy="526.0" r="1.9" fill="#1d4874"/>
<circle cx="415.0" cy="508.8" r="1.9" fill="#1d4874"/>
<circle cx="416.6" cy="517.6" r="1.9" fill="#1d4874"/>
<path d="M434.5 537.6V532.6M431.9 532.6h5.2M431.9 537.6h5.2" stroke="#c2102f" stroke-width="0.9" fill="none" />
<path d="M446.5 530.7V526.0M443.9 526.0h5.2M443.9 530.7h5.2" stroke="#1d4874" stroke-width="0.9" fill="none" />
<circle cx="432.9" cy="537.3" r="1.9" fill="#c2102f"/>
<circle cx="434.5" cy="533.0" r="1.9" fill="#c2102f"/>
<circle cx="436.1" cy="536.3" r="1.9" fill="#c2102f"/>
<circle cx="444.9" cy="530.1" r="1.9" fill="#1d4874"/>
<circle cx="446.5" cy="526.0" r="1.9" fill="#1d4874"/>
<circle cx="448.1" cy="527.9" r="1.9" fill="#1d4874"/>
<path d="M466 525.1V521.3M463.4 521.3h5.2M463.4 525.1h5.2" stroke="#c2102f" stroke-width="0.9" fill="none" />
<path d="M478 516.7V496.1M475.4 496.1h5.2M475.4 516.7h5.2" stroke="#1d4874" stroke-width="0.9" fill="none" />
<circle cx="464.4" cy="524.5" r="1.9" fill="#c2102f"/>
<circle cx="466.0" cy="521.5" r="1.9" fill="#c2102f"/>
<circle cx="467.6" cy="522.7" r="1.9" fill="#c2102f"/>
<circle cx="476.4" cy="514.8" r="1.9" fill="#1d4874"/>
<circle cx="478.0" cy="496.4" r="1.9" fill="#1d4874"/>
<circle cx="479.6" cy="511.0" r="1.9" fill="#1d4874"/>
<path d="M498 462.2V448.9M495.4 448.9h5.2M495.4 462.2h5.2" stroke="#c2102f" stroke-width="0.9" fill="none" />
<path d="M510 478.9V465.9M507.4 465.9h5.2M507.4 478.9h5.2" stroke="#1d4874" stroke-width="0.9" fill="none" />
<circle cx="496.4" cy="460.4" r="1.9" fill="#c2102f"/>
<circle cx="498.0" cy="449.3" r="1.9" fill="#c2102f"/>
<circle cx="499.6" cy="456.7" r="1.9" fill="#c2102f"/>
<circle cx="508.4" cy="478.0" r="1.9" fill="#1d4874"/>
<circle cx="510.0" cy="465.9" r="1.9" fill="#1d4874"/>
<circle cx="511.6" cy="476.1" r="1.9" fill="#1d4874"/>
<rect x="480" y="485.6" width="40" height="7.2" fill="#fff"/>
<path d="M362.6 541H520" stroke="#222" stroke-width="1.2" fill="none" />
<path d="M377 541v3" stroke="#222" stroke-width="0.9" fill="none" />
<path d="M409 541v3" stroke="#222" stroke-width="0.9" fill="none" />
<path d="M440.5 541v3" stroke="#222" stroke-width="0.9" fill="none" />
<path d="M472 541v3" stroke="#222" stroke-width="0.9" fill="none" />
<path d="M504 541v3" stroke="#222" stroke-width="0.9" fill="none" />
<path d="M362.6 437V485.5M362.6 492.5V541" stroke="#222" stroke-width="1.1" fill="none" />
<path d="M359.5 485.5h3.8M359.5 492.5h3.8" stroke="#222" stroke-width="1" fill="none" />
<path d="M362.6 483.5h-2.6" stroke="#222" stroke-width="1" fill="none" />
<text x="357.6" y="486.4" font-size="8.3" text-anchor="end" font-weight="normal" fill="#262626" color="#262626" >50</text>
<path d="M362.6 474.3h-2.6" stroke="#222" stroke-width="1" fill="none" />
<text x="357.6" y="477.15999999999997" font-size="8.3" text-anchor="end" font-weight="normal" fill="#262626" color="#262626" >60</text>
<path d="M362.6 465.0h-2.6" stroke="#222" stroke-width="1" fill="none" />
<text x="357.6" y="467.91999999999996" font-size="8.3" text-anchor="end" font-weight="normal" fill="#262626" color="#262626" >70</text>
<path d="M362.6 455.8h-2.6" stroke="#222" stroke-width="1" fill="none" />
<text x="357.6" y="458.67999999999995" font-size="8.3" text-anchor="end" font-weight="normal" fill="#262626" color="#262626" >80</text>
<path d="M362.6 446.5h-2.6" stroke="#222" stroke-width="1" fill="none" />
<text x="357.6" y="449.44" font-size="8.3" text-anchor="end" font-weight="normal" fill="#262626" color="#262626" >90</text>
<path d="M362.6 437.3h-2.6" stroke="#222" stroke-width="1" fill="none" />
<text x="357.6" y="440.2" font-size="8.3" text-anchor="end" font-weight="normal" fill="#262626" color="#262626" >100</text>
<path d="M362.6 541.0h-2.6" stroke="#222" stroke-width="1" fill="none" />
<text x="357.6" y="543.9" font-size="8.3" text-anchor="end" font-weight="normal" fill="#262626" color="#262626" >0</text>
<path d="M362.6 531.6h-2.6" stroke="#222" stroke-width="1" fill="none" />
<text x="357.6" y="534.54" font-size="8.3" text-anchor="end" font-weight="normal" fill="#262626" color="#262626" >5</text>
<path d="M362.6 522.3h-2.6" stroke="#222" stroke-width="1" fill="none" />
<text x="357.6" y="525.18" font-size="8.3" text-anchor="end" font-weight="normal" fill="#262626" color="#262626" >10</text>
<path d="M362.6 512.9h-2.6" stroke="#222" stroke-width="1" fill="none" />
<text x="357.6" y="515.8199999999999" font-size="8.3" text-anchor="end" font-weight="normal" fill="#262626" color="#262626" >15</text>
<path d="M362.6 503.6h-2.6" stroke="#222" stroke-width="1" fill="none" />
<text x="357.6" y="506.46" font-size="8.3" text-anchor="end" font-weight="normal" fill="#262626" color="#262626" >20</text>
<path d="M362.6 494.2h-2.6" stroke="#222" stroke-width="1" fill="none" />
<text x="357.6" y="497.09999999999997" font-size="8.3" text-anchor="end" font-weight="normal" fill="#262626" color="#262626" >25</text>
<text x="0" y="0" font-size="8.8" text-anchor="middle" font-weight="normal" fill="#262626" color="#262626" transform="translate(339.5,487.3) rotate(-90)" textLength="80" lengthAdjust="spacingAndGlyphs">Percent of granulocytes</text>
<text x="377" y="553.7" font-size="7.6" text-anchor="middle" font-weight="normal" fill="#262626" color="#262626" >1</text>
<text x="409" y="553.7" font-size="7.6" text-anchor="middle" font-weight="normal" fill="#262626" color="#262626" >2</text>
<text x="440.5" y="553.7" font-size="7.6" text-anchor="middle" font-weight="normal" fill="#262626" color="#262626" >3</text>
<text x="472" y="553.7" font-size="7.6" text-anchor="middle" font-weight="normal" fill="#262626" color="#262626" >4</text>
<text x="504" y="553.7" font-size="7.6" text-anchor="middle" font-weight="normal" fill="#262626" color="#262626" >5</text>
<rect x="368.6" y="436.6" width="4.6" height="4.6" fill="#c2102f"/>
<rect x="368.6" y="447.4" width="4.6" height="4.6" fill="#1d4874"/>
<text x="377" y="441.8" font-size="7.6" text-anchor="start" font-weight="normal" fill="#262626" color="#262626" >Total</text>
<text x="377" y="452.6" font-size="7.6" text-anchor="start" font-weight="normal" fill="#262626" color="#262626" >EBI</text>
<g clip-path="url(#cE)">
<rect x="0" y="593.5" width="178.5" height="122.5" fill="#dcdbd8"/>
<g filter="url(#b3)"><ellipse cx="112" cy="648" rx="48" ry="42" fill="#e4d8e2"/><ellipse cx="60" cy="670" rx="36" ry="22" fill="#e2d6e0"/><ellipse cx="100" cy="612" rx="16" ry="14" fill="#e6dce6"/><ellipse cx="110" cy="652" rx="22" ry="22" fill="#d89ac0"/><ellipse cx="70" cy="683" rx="18" ry="9" fill="#dcbcd4"/><ellipse cx="150" cy="670" rx="14" ry="16" fill="#ddd0dc"/></g>
<g filter="url(#b2)" opacity="0.8"><ellipse cx="98" cy="606" rx="12" ry="9" fill="#ece8ee"/><ellipse cx="85" cy="645" rx="8" ry="10" fill="#ece6ec"/><ellipse cx="155" cy="668" rx="10" ry="9" fill="#e8e2e8"/><ellipse cx="75" cy="700" rx="14" ry="6" fill="#e6d8e4"/></g>
<ellipse cx="45" cy="622.8" rx="5" ry="3.3" fill="#d8a0c4" filter="url(#b1)"/>
<ellipse cx="30.5" cy="656.5" rx="13.2" ry="11.7" fill="#f6f4f6" filter="url(#b05)"/>
<ellipse cx="30.5" cy="656.5" rx="12" ry="10.5" fill="#a0185e" filter="url(#b05)"/>
<ellipse cx="31.0" cy="657.0" rx="6.6" ry="5.8" fill="#cc2080" filter="url(#b1)"/>
<ellipse cx="81.5" cy="677.5" rx="11.7" ry="11.2" fill="#f6f4f6" filter="url(#b05)"/>
<ellipse cx="81.5" cy="677.5" rx="10.5" ry="10" fill="#9c1a5a" filter="url(#b05)"/>
<ellipse cx="82.0" cy="678.0" rx="5.8" ry="5.5" fill="#6a1a5a" filter="url(#b1)"/>
<ellipse cx="109.2" cy="650.5" rx="11.2" ry="11.2" fill="#f6f4f6" filter="url(#b05)"/>
<ellipse cx="109.2" cy="650.5" rx="10" ry="10" fill="#a82680" filter="url(#b05)"/>
<ellipse cx="109.7" cy="651.0" rx="5.5" ry="5.5" fill="#b83090" filter="url(#b1)"/>
<ellipse cx="128.4" cy="651.4" rx="10.2" ry="10.2" fill="#f6f4f6" filter="url(#b05)"/>
<ellipse cx="128.4" cy="651.4" rx="9" ry="9" fill="#52286e" filter="url(#b05)"/>
<ellipse cx="128.9" cy="651.9" rx="5.0" ry="5.0" fill="#3a1a58" filter="url(#b1)"/>
<ellipse cx="137.5" cy="633.5" rx="13.7" ry="11.2" fill="#f6f4f6" filter="url(#b05)"/>
<ellipse cx="137.5" cy="633.5" rx="12.5" ry="10" fill="#7c62a8" filter="url(#b05)"/>
<ellipse cx="138.0" cy="634.0" rx="6.9" ry="5.5" fill="#a898c8" filter="url(#b1)"/>
<ellipse cx="118.7" cy="637.8" rx="8.2" ry="8.2" fill="#f6f4f6" filter="url(#b05)"/>
<ellipse cx="118.7" cy="637.8" rx="7" ry="7" fill="#5a2472" filter="url(#b05)"/>
<ellipse cx="119.2" cy="638.3" rx="3.9" ry="3.9" fill="#3a1658" filter="url(#b1)"/>
<ellipse cx="109.7" cy="611.1" rx="9.2" ry="9.2" fill="#f6f4f6" filter="url(#b05)"/>
<ellipse cx="109.7" cy="611.1" rx="8" ry="8" fill="#5a2a78" filter="url(#b05)"/>
<ellipse cx="110.2" cy="611.6" rx="4.4" ry="4.4" fill="#3c1a5c" filter="url(#b1)"/>
<ellipse cx="127.4" cy="619.5" rx="9.6" ry="9.6" fill="#f6f4f6" filter="url(#b05)"/>
<ellipse cx="127.4" cy="619.5" rx="8.4" ry="8.4" fill="#4a2068" filter="url(#b05)"/>
<ellipse cx="127.9" cy="620.0" rx="4.6" ry="4.6" fill="#8a2a80" filter="url(#b1)"/>
<ellipse cx="148.2" cy="616.8" rx="8.3" ry="8.3" fill="#f6f4f6" filter="url(#b05)"/>
<ellipse cx="148.2" cy="616.8" rx="7.1" ry="7.1" fill="#5a2a7a" filter="url(#b05)"/>
<ellipse cx="148.7" cy="617.3" rx="3.9" ry="3.9" fill="#44205e" filter="url(#b1)"/>
<ellipse cx="159.2" cy="635.4" rx="8.7" ry="8.7" fill="#f6f4f6" filter="url(#b05)"/>
<ellipse cx="159.2" cy="635.4" rx="7.5" ry="7.5" fill="#6a3a88" filter="url(#b05)"/>
<ellipse cx="159.7" cy="635.9" rx="4.1" ry="4.1" fill="#7a4a98" filter="url(#b1)"/>
<ellipse cx="119.5" cy="675.4" rx="8.7" ry="8.7" fill="#f6f4f6" filter="url(#b05)"/>
<ellipse cx="119.5" cy="675.4" rx="7.5" ry="7.5" fill="#4a2070" filter="url(#b05)"/>
<ellipse cx="120.0" cy="675.9" rx="4.1" ry="4.1" fill="#3a1860" filter="url(#b1)"/>
<ellipse cx="136.8" cy="678.4" rx="9.6" ry="9.6" fill="#f6f4f6" filter="url(#b05)"/>
<ellipse cx="136.8" cy="678.4" rx="8.4" ry="8.4" fill="#4a2070" filter="url(#b05)"/>
<ellipse cx="137.3" cy="678.9" rx="4.6" ry="4.6" fill="#3a1860" filter="url(#b1)"/>
<ellipse cx="120.5" cy="686" rx="10.2" ry="8.7" fill="#f6f4f6" filter="url(#b05)"/>
<ellipse cx="120.5" cy="686" rx="9" ry="7.5" fill="#4a2070" filter="url(#b05)"/>
<ellipse cx="121.0" cy="686.5" rx="5.0" ry="4.1" fill="#3a1860" filter="url(#b1)"/>
<ellipse cx="59.7" cy="682.4" rx="8.7" ry="8.7" fill="#f6f4f6" filter="url(#b05)"/>
<ellipse cx="59.7" cy="682.4" rx="7.5" ry="7.5" fill="#8a4ab0" filter="url(#b05)"/>
<ellipse cx="60.2" cy="682.9" rx="4.1" ry="4.1" fill="#6a2a90" filter="url(#b1)"/>
<ellipse cx="67.5" cy="629.3" rx="7.4" ry="7.4" fill="#f6f4f6" filter="url(#b05)"/>
<ellipse cx="67.5" cy="629.3" rx="6.2" ry="6.2" fill="#22123c" filter="url(#b05)"/>
<ellipse cx="85" cy="633.5" rx="6.7" ry="6.7" fill="#f6f4f6" filter="url(#b05)"/>
<ellipse cx="85" cy="633.5" rx="5.5" ry="5.5" fill="#22123c" filter="url(#b05)"/>
<ellipse cx="77.9" cy="651" rx="6.2" ry="6.2" fill="#f6f4f6" filter="url(#b05)"/>
<ellipse cx="77.9" cy="651" rx="5" ry="5" fill="#22123c" filter="url(#b05)"/>
<ellipse cx="12.1" cy="662.3" rx="7.2" ry="7.2" fill="#f6f4f6" filter="url(#b05)"/>
<ellipse cx="12.1" cy="662.3" rx="6" ry="6" fill="#22123c" filter="url(#b05)"/>
<ellipse cx="20.8" cy="670" rx="7.2" ry="7.2" fill="#f6f4f6" filter="url(#b05)"/>
<ellipse cx="20.8" cy="670" rx="6" ry="6" fill="#22123c" filter="url(#b05)"/>
<ellipse cx="32.4" cy="680.4" rx="7.5" ry="7.5" fill="#f6f4f6" filter="url(#b05)"/>
<ellipse cx="32.4" cy="680.4" rx="6.3" ry="6.3" fill="#22123c" filter="url(#b05)"/>
<ellipse cx="32.9" cy="670.8" rx="5.7" ry="5.7" fill="#f6f4f6" filter="url(#b05)"/>
<ellipse cx="32.9" cy="670.8" rx="4.5" ry="4.5" fill="#22123c" filter="url(#b05)"/>
<ellipse cx="45" cy="662.2" rx="7.2" ry="7.2" fill="#f6f4f6" filter="url(#b05)"/>
<ellipse cx="45" cy="662.2" rx="6" ry="6" fill="#22123c" filter="url(#b05)"/>
<ellipse cx="45.8" cy="685.9" rx="6.2" ry="6.2" fill="#f6f4f6" filter="url(#b05)"/>
<ellipse cx="45.8" cy="685.9" rx="5" ry="5" fill="#22123c" filter="url(#b05)"/>
<ellipse cx="59.7" cy="697" rx="8.5" ry="8.5" fill="#f6f4f6" filter="url(#b05)"/>
<ellipse cx="59.7" cy="697" rx="7.3" ry="7.3" fill="#22123c" filter="url(#b05)"/>
<ellipse cx="65" cy="671" rx="6.7" ry="6.7" fill="#f6f4f6" filter="url(#b05)"/>
<ellipse cx="65" cy="671" rx="5.5" ry="5.5" fill="#22123c" filter="url(#b05)"/>
<ellipse cx="125.2" cy="604.5" rx="7.4" ry="7.4" fill="#f6f4f6" filter="url(#b05)"/>
<ellipse cx="125.2" cy="604.5" rx="6.2" ry="6.2" fill="#22123c" filter="url(#b05)"/>
<ellipse cx="164.7" cy="646" rx="6.1" ry="6.1" fill="#f6f4f6" filter="url(#b05)"/>
<ellipse cx="164.7" cy="646" rx="4.9" ry="4.9" fill="#22123c" filter="url(#b05)"/>
<ellipse cx="95.3" cy="634.8" rx="6.2" ry="6.2" fill="#f6f4f6" filter="url(#b05)"/>
<ellipse cx="95.3" cy="634.8" rx="5" ry="5" fill="#22123c" filter="url(#b05)"/>
<ellipse cx="142.4" cy="654" rx="6.1" ry="6.1" fill="#f6f4f6" filter="url(#b05)"/>
<ellipse cx="142.4" cy="654" rx="4.9" ry="4.9" fill="#22123c" filter="url(#b05)"/>
<ellipse cx="138.9" cy="661.2" rx="6.9" ry="6.9" fill="#f6f4f6" filter="url(#b05)"/>
<ellipse cx="138.9" cy="661.2" rx="5.7" ry="5.7" fill="#22123c" filter="url(#b05)"/>
<ellipse cx="95.1" cy="665.5" rx="6.5" ry="6.5" fill="#f6f4f6" filter="url(#b05)"/>
<ellipse cx="95.1" cy="665.5" rx="5.3" ry="5.3" fill="#22123c" filter="url(#b05)"/>
<ellipse cx="100.4" cy="687.5" rx="6.9" ry="6.9" fill="#f6f4f6" filter="url(#b05)"/>
<ellipse cx="100.4" cy="687.5" rx="5.7" ry="5.7" fill="#22123c" filter="url(#b05)"/>
<circle cx="168.5" cy="639" r="1.6" fill="#111"/>
</g>
<text x="143.2" y="707.2" font-size="8" text-anchor="middle" font-weight="normal" fill="#111" color="#111" style="stroke:none">10 µm</text>
<path d="M133.1 710.1H152.8" stroke="#111" stroke-width="1.4" fill="none" />
<rect x="191.5" y="593.3" width="328.5" height="122.7" fill="#0c0c0c"/>
<rect x="191.5" y="593.3" width="328.5" height="9.9" fill="#1f1f1f"/>
<rect x="191.5" y="603.2" width="54.5" height="112.8" fill="#b6b6b6"/>
<path d="M191.5 659.9H246" stroke="#333" stroke-width="1.6" fill="none" />
<path d="M246 659.9H520" stroke="#2e2e2e" stroke-width="1.2" fill="none" />
<text x="219" y="601.2" font-size="7.8" text-anchor="middle" font-weight="normal" fill="#f2f2f2" color="#f2f2f2" style="stroke:none">BF</text>
<text x="274" y="601.2" font-size="7.8" text-anchor="middle" font-weight="normal" fill="#f2f2f2" color="#f2f2f2" style="stroke:none">CD71</text>
<text x="328.5" y="601.2" font-size="7.8" text-anchor="middle" font-weight="normal" fill="#f2f2f2" color="#f2f2f2" style="stroke:none">CD11b</text>
<text x="383" y="601.2" font-size="7.8" text-anchor="middle" font-weight="normal" fill="#f2f2f2" color="#f2f2f2" style="stroke:none">F4/80</text>
<text x="437.5" y="601.2" font-size="7.8" text-anchor="middle" font-weight="normal" fill="#f2f2f2" color="#f2f2f2" style="stroke:none">Ly6G</text>
<text x="492" y="601.2" font-size="7.8" text-anchor="middle" font-weight="normal" fill="#f2f2f2" color="#f2f2f2" style="stroke:none">Merge</text>
<text x="192.5" y="666.8" font-size="5.8" text-anchor="start" font-weight="normal" fill="#222" color="#222" style="stroke:none">34548</text>
<g clip-path="url(#cF)">
<ellipse cx="203" cy="628" rx="3" ry="5" fill="#d0d0d0" filter="url(#b1)"/>
<g>
<circle cx="211" cy="622" r="4.6" fill="#1e1e1e"/>
<circle cx="219" cy="617" r="4.6" fill="#1e1e1e"/>
<circle cx="225.5" cy="621" r="4.2" fill="#1e1e1e"/>
<circle cx="214" cy="629" r="4.6" fill="#1e1e1e"/>
<circle cx="221" cy="626" r="4.2" fill="#1e1e1e"/>
<circle cx="226" cy="630" r="4.2" fill="#1e1e1e"/>
<circle cx="215" cy="636" r="4.5" fill="#1e1e1e"/>
<circle cx="222" cy="635" r="4.2" fill="#1e1e1e"/>
<circle cx="217" cy="641" r="4.4" fill="#1e1e1e"/>
<circle cx="223" cy="644" r="4.5" fill="#1e1e1e"/>
<circle cx="211" cy="622" r="3.4" fill="#f2f2f2"/>
<circle cx="219" cy="617" r="3.4" fill="#f2f2f2"/>
<circle cx="225.5" cy="621" r="3.0" fill="#f2f2f2"/>
<circle cx="214" cy="629" r="3.4" fill="#f2f2f2"/>
<circle cx="221" cy="626" r="3.0" fill="#f2f2f2"/>
<circle cx="226" cy="630" r="3.0" fill="#f2f2f2"/>
<circle cx="215" cy="636" r="3.3" fill="#f2f2f2"/>
<circle cx="222" cy="635" r="3.0" fill="#f2f2f2"/>
<circle cx="217" cy="641" r="3.2" fill="#f2f2f2"/>
<circle cx="223" cy="644" r="3.3" fill="#f2f2f2"/>
</g>
<circle cx="219" cy="616" r="3.6" fill="#0e0e0e"/><circle cx="211" cy="622" r="2.6" fill="#2a2a2a"/>
<circle cx="216" cy="626" r="1.6" fill="#333"/><circle cx="222" cy="633" r="1.4" fill="#444"/><circle cx="212" cy="630" r="1.2" fill="#444"/>
<circle cx="226" cy="624" r="2.4" fill="#c8c8c8"/>
<g>
<circle cx="208" cy="692" r="6.0" fill="#1e1e1e"/>
<circle cx="214" cy="683" r="6.0" fill="#1e1e1e"/>
<circle cx="222" cy="680" r="5.800000000000001" fill="#1e1e1e"/>
<circle cx="229" cy="685" r="5.6" fill="#1e1e1e"/>
<circle cx="231" cy="694" r="5.4" fill="#1e1e1e"/>
<circle cx="223" cy="690" r="6.199999999999999" fill="#1e1e1e"/>
<circle cx="215" cy="695" r="6.0" fill="#1e1e1e"/>
<circle cx="205" cy="700" r="5.199999999999999" fill="#1e1e1e"/>
<circle cx="213" cy="702" r="5.6" fill="#1e1e1e"/>
<circle cx="221" cy="701" r="5.800000000000001" fill="#1e1e1e"/>
<circle cx="228" cy="701" r="5.0" fill="#1e1e1e"/>
<circle cx="201" cy="705" r="4.0" fill="#1e1e1e"/>
<circle cx="208" cy="692" r="4.6" fill="#f2f2f2"/>
<circle cx="214" cy="683" r="4.6" fill="#f2f2f2"/>
<circle cx="222" cy="680" r="4.4" fill="#f2f2f2"/>
<circle cx="229" cy="685" r="4.2" fill="#f2f2f2"/>
<circle cx="231" cy="694" r="4.0" fill="#f2f2f2"/>
<circle cx="223" cy="690" r="4.8" fill="#f2f2f2"/>
<circle cx="215" cy="695" r="4.6" fill="#f2f2f2"/>
<circle cx="205" cy="700" r="3.8" fill="#f2f2f2"/>
<circle cx="213" cy="702" r="4.2" fill="#f2f2f2"/>
<circle cx="221" cy="701" r="4.4" fill="#f2f2f2"/>
<circle cx="228" cy="701" r="3.6" fill="#f2f2f2"/>
<circle cx="201" cy="705" r="2.6" fill="#f2f2f2"/>
</g>
<circle cx="214" cy="684" r="1.6" fill="#1a1a1a"/>
<circle cx="221" cy="687" r="1.8" fill="#1a1a1a"/>
<circle cx="217" cy="692" r="1.4" fill="#1a1a1a"/>
<circle cx="209" cy="690" r="1.3" fill="#1a1a1a"/>
<circle cx="225" cy="695" r="1.5" fill="#1a1a1a"/>
<circle cx="212" cy="699" r="1.6" fill="#1a1a1a"/>
<circle cx="220" cy="680" r="1.3" fill="#1a1a1a"/>
<circle cx="226" cy="684" r="1.2" fill="#1a1a1a"/>
<circle cx="206" cy="697" r="1.2" fill="#1a1a1a"/>
<circle cx="218" cy="700" r="1.3" fill="#1a1a1a"/>
<g filter="url(#b1)">
<ellipse cx="264" cy="628" rx="6.5" ry="9.5" fill="#e01414"/><circle cx="278" cy="624" r="6.8" fill="#8a1010"/><circle cx="278" cy="624" r="4" fill="#5a0c0c"/><ellipse cx="326" cy="634" rx="6" ry="3.4" fill="#1a6a78"/><circle cx="381.5" cy="626.7" r="8.6" fill="#2fbe2f"/><circle cx="381.5" cy="626.7" r="5.5" fill="#1a7a1a"/><circle cx="490.5" cy="626" r="12.5" fill="#d81818"/><circle cx="490.5" cy="626" r="8.4" fill="#e8d020"/><circle cx="491" cy="627" r="6" fill="#6aa020"/><circle cx="276" cy="688" r="13.5" fill="#ee1616"/><circle cx="272" cy="684" r="5" fill="#c01010"/><circle cx="257" cy="702.5" r="3.5" fill="#5a1010"/><circle cx="320.5" cy="691" r="4.8" fill="#1aa0b0"/><circle cx="320.5" cy="691" r="2.6" fill="#0c3a40"/><circle cx="340" cy="689" r="3.2" fill="#1c3030"/><circle cx="385" cy="689" r="7.8" fill="#28b028"/><circle cx="385" cy="689" r="4.6" fill="#124a12"/><ellipse cx="432" cy="692" rx="6" ry="3.5" fill="#5e5618"/><ellipse cx="447" cy="689" rx="5" ry="4" fill="#544c14"/><circle cx="494" cy="688" r="15" fill="#ea1616"/><circle cx="489" cy="692" r="7" fill="#d8c020"/><circle cx="485" cy="692" r="3" fill="#40a030"/><circle cx="476" cy="703" r="3.5" fill="#5a1010"/>
</g>
</g>
</svg></body></html>
